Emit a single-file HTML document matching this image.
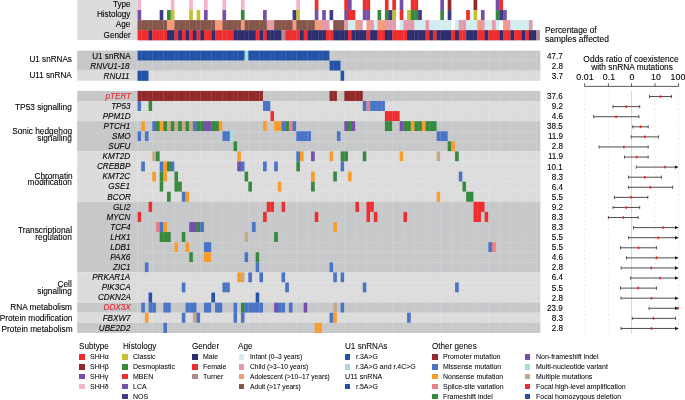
<!DOCTYPE html><html><head><meta charset="utf-8"><style>
*{margin:0;padding:0;box-sizing:border-box}
html,body{width:685px;height:400px;overflow:hidden;background:#fff}
body{position:relative;font-family:"Liberation Sans",sans-serif;color:#000}
.a{position:absolute}
#tx{position:absolute;left:0;top:0;width:685px;height:400px;will-change:transform}
.t{position:absolute;white-space:nowrap;font-size:8.60px;line-height:1;transform:scaleX(0.945);transform-origin:left center;-webkit-text-stroke-width:0.1px}
.r{text-align:right;transform-origin:right center}
.c{text-align:center;transform-origin:center center}
.i{font-style:italic}
.lg{-webkit-text-stroke-width:0.05px;color:#000}
.lh{-webkit-text-stroke-width:0.05px;color:#000}
</style></head><body>
<svg class="a" style="left:0;top:0" width="685" height="400" viewBox="0 0 685 400">
<rect x="77.20" y="0.00" width="60.30" height="40.10" fill="#dcdcdc"/>
<rect x="137.50" y="0.00" width="3.69" height="10.15" fill="#f5b5c7"/>
<rect x="170.73" y="0.00" width="3.69" height="10.15" fill="#f5b5c7"/>
<rect x="189.20" y="0.00" width="3.69" height="10.15" fill="#f5b5c7"/>
<rect x="203.97" y="0.00" width="3.69" height="10.15" fill="#f5b5c7"/>
<rect x="222.43" y="0.00" width="3.69" height="10.15" fill="#f5b5c7"/>
<rect x="240.89" y="0.00" width="3.69" height="10.15" fill="#f5b5c7"/>
<rect x="296.28" y="0.00" width="3.69" height="10.15" fill="#f5b5c7"/>
<rect x="314.75" y="0.00" width="3.69" height="10.15" fill="#ee2e2e"/>
<rect x="344.29" y="0.00" width="3.99" height="10.15" fill="#ee2e2e"/>
<rect x="347.98" y="0.00" width="3.69" height="10.15" fill="#7650a8"/>
<rect x="362.75" y="0.00" width="3.99" height="10.15" fill="#ee2e2e"/>
<rect x="366.44" y="0.00" width="3.69" height="10.15" fill="#ee2e2e"/>
<rect x="384.91" y="0.00" width="3.69" height="10.15" fill="#ee2e2e"/>
<rect x="392.29" y="0.00" width="3.69" height="10.15" fill="#ee2e2e"/>
<rect x="399.68" y="0.00" width="3.69" height="10.15" fill="#7650a8"/>
<rect x="410.76" y="0.00" width="3.99" height="10.15" fill="#ee2e2e"/>
<rect x="414.45" y="0.00" width="3.69" height="10.15" fill="#ee2e2e"/>
<rect x="440.30" y="0.00" width="3.69" height="10.15" fill="#7650a8"/>
<rect x="447.68" y="0.00" width="3.69" height="10.15" fill="#922a2c"/>
<rect x="473.53" y="0.00" width="3.69" height="10.15" fill="#922a2c"/>
<rect x="495.69" y="0.00" width="3.99" height="10.15" fill="#7650a8"/>
<rect x="499.38" y="0.00" width="3.69" height="10.15" fill="#ee2e2e"/>
<rect x="137.50" y="10.05" width="3.69" height="10.15" fill="#7650a8"/>
<rect x="159.66" y="10.05" width="3.69" height="10.15" fill="#3f3a88"/>
<rect x="167.04" y="10.05" width="3.99" height="10.15" fill="#36893f"/>
<rect x="170.73" y="10.05" width="3.69" height="10.15" fill="#c3c035"/>
<rect x="189.20" y="10.05" width="3.69" height="10.15" fill="#c3c035"/>
<rect x="196.58" y="10.05" width="3.69" height="10.15" fill="#c3c035"/>
<rect x="203.97" y="10.05" width="3.69" height="10.15" fill="#7650a8"/>
<rect x="222.43" y="10.05" width="3.69" height="10.15" fill="#7650a8"/>
<rect x="240.89" y="10.05" width="3.69" height="10.15" fill="#36893f"/>
<rect x="263.05" y="10.05" width="3.69" height="10.15" fill="#7650a8"/>
<rect x="292.59" y="10.05" width="3.99" height="10.15" fill="#3f3a88"/>
<rect x="296.28" y="10.05" width="3.69" height="10.15" fill="#c3c035"/>
<rect x="314.75" y="10.05" width="3.69" height="10.15" fill="#7650a8"/>
<rect x="322.13" y="10.05" width="3.69" height="10.15" fill="#7650a8"/>
<rect x="329.52" y="10.05" width="3.69" height="10.15" fill="#3f3a88"/>
<rect x="344.29" y="10.05" width="3.99" height="10.15" fill="#7650a8"/>
<rect x="347.98" y="10.05" width="3.99" height="10.15" fill="#ee2e2e"/>
<rect x="351.67" y="10.05" width="3.69" height="10.15" fill="#ee2e2e"/>
<rect x="362.75" y="10.05" width="3.99" height="10.15" fill="#7650a8"/>
<rect x="366.44" y="10.05" width="3.69" height="10.15" fill="#7650a8"/>
<rect x="377.52" y="10.05" width="3.69" height="10.15" fill="#36893f"/>
<rect x="384.91" y="10.05" width="3.99" height="10.15" fill="#36893f"/>
<rect x="388.60" y="10.05" width="3.99" height="10.15" fill="#3f3a88"/>
<rect x="392.29" y="10.05" width="3.69" height="10.15" fill="#c3c035"/>
<rect x="399.68" y="10.05" width="3.69" height="10.15" fill="#ee2e2e"/>
<rect x="407.06" y="10.05" width="3.99" height="10.15" fill="#c3c035"/>
<rect x="410.76" y="10.05" width="3.99" height="10.15" fill="#36893f"/>
<rect x="414.45" y="10.05" width="3.99" height="10.15" fill="#36893f"/>
<rect x="418.14" y="10.05" width="3.69" height="10.15" fill="#3f3a88"/>
<rect x="440.30" y="10.05" width="3.69" height="10.15" fill="#36893f"/>
<rect x="447.68" y="10.05" width="3.69" height="10.15" fill="#3f3a88"/>
<rect x="466.15" y="10.05" width="3.69" height="10.15" fill="#ee2e2e"/>
<rect x="473.53" y="10.05" width="3.69" height="10.15" fill="#c3c035"/>
<rect x="480.92" y="10.05" width="3.69" height="10.15" fill="#7650a8"/>
<rect x="495.69" y="10.05" width="3.99" height="10.15" fill="#36893f"/>
<rect x="499.38" y="10.05" width="3.99" height="10.15" fill="#3f3a88"/>
<rect x="503.07" y="10.05" width="3.69" height="10.15" fill="#7650a8"/>
<rect x="137.50" y="20.10" width="3.99" height="10.15" fill="#85574a"/>
<rect x="141.19" y="20.10" width="3.99" height="10.15" fill="#85574a"/>
<rect x="144.89" y="20.10" width="3.99" height="10.15" fill="#85574a"/>
<rect x="148.58" y="20.10" width="3.99" height="10.15" fill="#85574a"/>
<rect x="152.27" y="20.10" width="3.99" height="10.15" fill="#85574a"/>
<rect x="155.96" y="20.10" width="3.99" height="10.15" fill="#85574a"/>
<rect x="159.66" y="20.10" width="3.99" height="10.15" fill="#85574a"/>
<rect x="163.35" y="20.10" width="3.99" height="10.15" fill="#85574a"/>
<rect x="167.04" y="20.10" width="3.99" height="10.15" fill="#f59a7a"/>
<rect x="170.73" y="20.10" width="3.99" height="10.15" fill="#f59a7a"/>
<rect x="174.43" y="20.10" width="3.99" height="10.15" fill="#85574a"/>
<rect x="178.12" y="20.10" width="3.99" height="10.15" fill="#85574a"/>
<rect x="181.81" y="20.10" width="3.99" height="10.15" fill="#85574a"/>
<rect x="185.50" y="20.10" width="3.99" height="10.15" fill="#85574a"/>
<rect x="189.20" y="20.10" width="3.99" height="10.15" fill="#85574a"/>
<rect x="192.89" y="20.10" width="3.99" height="10.15" fill="#85574a"/>
<rect x="196.58" y="20.10" width="3.99" height="10.15" fill="#85574a"/>
<rect x="200.28" y="20.10" width="3.99" height="10.15" fill="#85574a"/>
<rect x="203.97" y="20.10" width="3.99" height="10.15" fill="#85574a"/>
<rect x="207.66" y="20.10" width="3.99" height="10.15" fill="#85574a"/>
<rect x="211.35" y="20.10" width="3.99" height="10.15" fill="#85574a"/>
<rect x="215.05" y="20.10" width="3.99" height="10.15" fill="#f59a7a"/>
<rect x="218.74" y="20.10" width="3.99" height="10.15" fill="#f59a7a"/>
<rect x="222.43" y="20.10" width="3.99" height="10.15" fill="#85574a"/>
<rect x="226.12" y="20.10" width="3.99" height="10.15" fill="#85574a"/>
<rect x="229.82" y="20.10" width="3.99" height="10.15" fill="#85574a"/>
<rect x="233.51" y="20.10" width="3.99" height="10.15" fill="#85574a"/>
<rect x="237.20" y="20.10" width="3.99" height="10.15" fill="#85574a"/>
<rect x="240.89" y="20.10" width="3.99" height="10.15" fill="#f59a7a"/>
<rect x="244.59" y="20.10" width="3.99" height="10.15" fill="#85574a"/>
<rect x="248.28" y="20.10" width="3.99" height="10.15" fill="#85574a"/>
<rect x="251.97" y="20.10" width="3.99" height="10.15" fill="#85574a"/>
<rect x="255.67" y="20.10" width="3.99" height="10.15" fill="#85574a"/>
<rect x="259.36" y="20.10" width="3.99" height="10.15" fill="#85574a"/>
<rect x="263.05" y="20.10" width="3.99" height="10.15" fill="#85574a"/>
<rect x="266.74" y="20.10" width="3.99" height="10.15" fill="#e39aab"/>
<rect x="270.44" y="20.10" width="3.99" height="10.15" fill="#e39aab"/>
<rect x="274.13" y="20.10" width="3.99" height="10.15" fill="#85574a"/>
<rect x="277.82" y="20.10" width="3.99" height="10.15" fill="#85574a"/>
<rect x="281.51" y="20.10" width="3.99" height="10.15" fill="#85574a"/>
<rect x="285.21" y="20.10" width="3.99" height="10.15" fill="#85574a"/>
<rect x="288.90" y="20.10" width="3.99" height="10.15" fill="#85574a"/>
<rect x="292.59" y="20.10" width="3.99" height="10.15" fill="#f59a7a"/>
<rect x="296.28" y="20.10" width="3.99" height="10.15" fill="#85574a"/>
<rect x="299.98" y="20.10" width="3.99" height="10.15" fill="#85574a"/>
<rect x="303.67" y="20.10" width="3.99" height="10.15" fill="#85574a"/>
<rect x="307.36" y="20.10" width="3.99" height="10.15" fill="#85574a"/>
<rect x="311.06" y="20.10" width="3.99" height="10.15" fill="#85574a"/>
<rect x="314.75" y="20.10" width="3.99" height="10.15" fill="#f59a7a"/>
<rect x="318.44" y="20.10" width="3.99" height="10.15" fill="#f59a7a"/>
<rect x="322.13" y="20.10" width="3.99" height="10.15" fill="#e39aab"/>
<rect x="325.83" y="20.10" width="3.69" height="10.15" fill="#e39aab"/>
<rect x="333.21" y="20.10" width="3.99" height="10.15" fill="#85574a"/>
<rect x="336.90" y="20.10" width="3.99" height="10.15" fill="#85574a"/>
<rect x="340.60" y="20.10" width="3.99" height="10.15" fill="#85574a"/>
<rect x="344.29" y="20.10" width="3.99" height="10.15" fill="#e39aab"/>
<rect x="347.98" y="20.10" width="3.99" height="10.15" fill="#d3ecf0"/>
<rect x="351.67" y="20.10" width="3.99" height="10.15" fill="#d3ecf0"/>
<rect x="355.37" y="20.10" width="3.99" height="10.15" fill="#f59a7a"/>
<rect x="359.06" y="20.10" width="3.69" height="10.15" fill="#e39aab"/>
<rect x="366.44" y="20.10" width="3.99" height="10.15" fill="#f59a7a"/>
<rect x="370.14" y="20.10" width="3.99" height="10.15" fill="#e39aab"/>
<rect x="373.83" y="20.10" width="3.99" height="10.15" fill="#d3ecf0"/>
<rect x="377.52" y="20.10" width="3.99" height="10.15" fill="#f59a7a"/>
<rect x="381.22" y="20.10" width="3.99" height="10.15" fill="#f59a7a"/>
<rect x="384.91" y="20.10" width="3.99" height="10.15" fill="#e39aab"/>
<rect x="388.60" y="20.10" width="3.99" height="10.15" fill="#e39aab"/>
<rect x="392.29" y="20.10" width="3.69" height="10.15" fill="#e39aab"/>
<rect x="399.68" y="20.10" width="3.99" height="10.15" fill="#d3ecf0"/>
<rect x="403.37" y="20.10" width="3.99" height="10.15" fill="#e39aab"/>
<rect x="407.06" y="20.10" width="3.99" height="10.15" fill="#e39aab"/>
<rect x="410.76" y="20.10" width="3.99" height="10.15" fill="#e39aab"/>
<rect x="414.45" y="20.10" width="3.99" height="10.15" fill="#d3ecf0"/>
<rect x="418.14" y="20.10" width="3.99" height="10.15" fill="#d3ecf0"/>
<rect x="421.83" y="20.10" width="3.99" height="10.15" fill="#d3ecf0"/>
<rect x="425.53" y="20.10" width="3.99" height="10.15" fill="#e39aab"/>
<rect x="429.22" y="20.10" width="3.99" height="10.15" fill="#d3ecf0"/>
<rect x="432.91" y="20.10" width="3.99" height="10.15" fill="#d3ecf0"/>
<rect x="436.61" y="20.10" width="3.99" height="10.15" fill="#d3ecf0"/>
<rect x="440.30" y="20.10" width="3.99" height="10.15" fill="#d3ecf0"/>
<rect x="443.99" y="20.10" width="3.99" height="10.15" fill="#d3ecf0"/>
<rect x="447.68" y="20.10" width="3.69" height="10.15" fill="#d3ecf0"/>
<rect x="455.07" y="20.10" width="3.99" height="10.15" fill="#d3ecf0"/>
<rect x="458.76" y="20.10" width="3.99" height="10.15" fill="#e39aab"/>
<rect x="462.45" y="20.10" width="3.99" height="10.15" fill="#e39aab"/>
<rect x="466.15" y="20.10" width="3.99" height="10.15" fill="#d3ecf0"/>
<rect x="469.84" y="20.10" width="3.99" height="10.15" fill="#d3ecf0"/>
<rect x="473.53" y="20.10" width="3.99" height="10.15" fill="#d3ecf0"/>
<rect x="477.22" y="20.10" width="3.99" height="10.15" fill="#f59a7a"/>
<rect x="480.92" y="20.10" width="3.99" height="10.15" fill="#e39aab"/>
<rect x="484.61" y="20.10" width="3.99" height="10.15" fill="#d3ecf0"/>
<rect x="488.30" y="20.10" width="3.99" height="10.15" fill="#d3ecf0"/>
<rect x="492.00" y="20.10" width="3.99" height="10.15" fill="#e39aab"/>
<rect x="495.69" y="20.10" width="3.69" height="10.15" fill="#d3ecf0"/>
<rect x="503.07" y="20.10" width="3.99" height="10.15" fill="#f59a7a"/>
<rect x="506.77" y="20.10" width="3.99" height="10.15" fill="#e39aab"/>
<rect x="510.46" y="20.10" width="3.99" height="10.15" fill="#d3ecf0"/>
<rect x="514.15" y="20.10" width="3.99" height="10.15" fill="#d3ecf0"/>
<rect x="517.84" y="20.10" width="3.99" height="10.15" fill="#d3ecf0"/>
<rect x="521.54" y="20.10" width="3.99" height="10.15" fill="#d3ecf0"/>
<rect x="525.23" y="20.10" width="3.99" height="10.15" fill="#d3ecf0"/>
<rect x="528.92" y="20.10" width="3.69" height="10.15" fill="#e39aab"/>
<rect x="137.50" y="30.15" width="3.99" height="10.20" fill="#ee2e2e"/>
<rect x="141.19" y="30.15" width="3.99" height="10.20" fill="#ee2e2e"/>
<rect x="144.89" y="30.15" width="3.99" height="10.20" fill="#ee2e2e"/>
<rect x="148.58" y="30.15" width="3.99" height="10.20" fill="#2e2e6e"/>
<rect x="152.27" y="30.15" width="3.99" height="10.20" fill="#ee2e2e"/>
<rect x="155.96" y="30.15" width="3.99" height="10.20" fill="#ee2e2e"/>
<rect x="159.66" y="30.15" width="3.99" height="10.20" fill="#ee2e2e"/>
<rect x="163.35" y="30.15" width="3.99" height="10.20" fill="#ee2e2e"/>
<rect x="167.04" y="30.15" width="3.99" height="10.20" fill="#2e2e6e"/>
<rect x="170.73" y="30.15" width="3.99" height="10.20" fill="#2e2e6e"/>
<rect x="174.43" y="30.15" width="3.99" height="10.20" fill="#ee2e2e"/>
<rect x="178.12" y="30.15" width="3.99" height="10.20" fill="#2e2e6e"/>
<rect x="181.81" y="30.15" width="3.99" height="10.20" fill="#ee2e2e"/>
<rect x="185.50" y="30.15" width="3.99" height="10.20" fill="#2e2e6e"/>
<rect x="189.20" y="30.15" width="3.99" height="10.20" fill="#ee2e2e"/>
<rect x="192.89" y="30.15" width="3.99" height="10.20" fill="#2e2e6e"/>
<rect x="196.58" y="30.15" width="3.99" height="10.20" fill="#ee2e2e"/>
<rect x="200.28" y="30.15" width="3.99" height="10.20" fill="#2e2e6e"/>
<rect x="203.97" y="30.15" width="3.99" height="10.20" fill="#ee2e2e"/>
<rect x="207.66" y="30.15" width="3.99" height="10.20" fill="#ee2e2e"/>
<rect x="211.35" y="30.15" width="3.99" height="10.20" fill="#2e2e6e"/>
<rect x="215.05" y="30.15" width="3.99" height="10.20" fill="#ee2e2e"/>
<rect x="218.74" y="30.15" width="3.99" height="10.20" fill="#ee2e2e"/>
<rect x="222.43" y="30.15" width="3.99" height="10.20" fill="#ee2e2e"/>
<rect x="226.12" y="30.15" width="3.99" height="10.20" fill="#ee2e2e"/>
<rect x="229.82" y="30.15" width="3.99" height="10.20" fill="#ee2e2e"/>
<rect x="233.51" y="30.15" width="3.99" height="10.20" fill="#2e2e6e"/>
<rect x="237.20" y="30.15" width="3.99" height="10.20" fill="#2e2e6e"/>
<rect x="240.89" y="30.15" width="3.99" height="10.20" fill="#2e2e6e"/>
<rect x="244.59" y="30.15" width="3.99" height="10.20" fill="#2e2e6e"/>
<rect x="248.28" y="30.15" width="3.99" height="10.20" fill="#2e2e6e"/>
<rect x="251.97" y="30.15" width="3.99" height="10.20" fill="#2e2e6e"/>
<rect x="255.67" y="30.15" width="3.99" height="10.20" fill="#ee2e2e"/>
<rect x="259.36" y="30.15" width="3.99" height="10.20" fill="#2e2e6e"/>
<rect x="263.05" y="30.15" width="3.99" height="10.20" fill="#ee2e2e"/>
<rect x="266.74" y="30.15" width="3.99" height="10.20" fill="#2e2e6e"/>
<rect x="270.44" y="30.15" width="3.99" height="10.20" fill="#2e2e6e"/>
<rect x="274.13" y="30.15" width="3.99" height="10.20" fill="#2e2e6e"/>
<rect x="277.82" y="30.15" width="3.99" height="10.20" fill="#2e2e6e"/>
<rect x="281.51" y="30.15" width="3.99" height="10.20" fill="#b58b91"/>
<rect x="285.21" y="30.15" width="3.99" height="10.20" fill="#ee2e2e"/>
<rect x="288.90" y="30.15" width="3.99" height="10.20" fill="#ee2e2e"/>
<rect x="292.59" y="30.15" width="3.99" height="10.20" fill="#ee2e2e"/>
<rect x="296.28" y="30.15" width="3.99" height="10.20" fill="#ee2e2e"/>
<rect x="299.98" y="30.15" width="3.99" height="10.20" fill="#2e2e6e"/>
<rect x="303.67" y="30.15" width="3.99" height="10.20" fill="#ee2e2e"/>
<rect x="307.36" y="30.15" width="3.99" height="10.20" fill="#2e2e6e"/>
<rect x="311.06" y="30.15" width="3.99" height="10.20" fill="#2e2e6e"/>
<rect x="314.75" y="30.15" width="3.99" height="10.20" fill="#2e2e6e"/>
<rect x="318.44" y="30.15" width="3.99" height="10.20" fill="#2e2e6e"/>
<rect x="322.13" y="30.15" width="3.99" height="10.20" fill="#2e2e6e"/>
<rect x="325.83" y="30.15" width="3.99" height="10.20" fill="#ee2e2e"/>
<rect x="329.52" y="30.15" width="3.99" height="10.20" fill="#ee2e2e"/>
<rect x="333.21" y="30.15" width="3.99" height="10.20" fill="#2e2e6e"/>
<rect x="336.90" y="30.15" width="3.99" height="10.20" fill="#2e2e6e"/>
<rect x="340.60" y="30.15" width="3.99" height="10.20" fill="#2e2e6e"/>
<rect x="344.29" y="30.15" width="3.99" height="10.20" fill="#2e2e6e"/>
<rect x="347.98" y="30.15" width="3.99" height="10.20" fill="#ee2e2e"/>
<rect x="351.67" y="30.15" width="3.99" height="10.20" fill="#2e2e6e"/>
<rect x="355.37" y="30.15" width="3.99" height="10.20" fill="#2e2e6e"/>
<rect x="359.06" y="30.15" width="3.99" height="10.20" fill="#2e2e6e"/>
<rect x="362.75" y="30.15" width="3.99" height="10.20" fill="#2e2e6e"/>
<rect x="366.44" y="30.15" width="3.99" height="10.20" fill="#ee2e2e"/>
<rect x="370.14" y="30.15" width="3.99" height="10.20" fill="#2e2e6e"/>
<rect x="373.83" y="30.15" width="3.99" height="10.20" fill="#2e2e6e"/>
<rect x="377.52" y="30.15" width="3.99" height="10.20" fill="#ee2e2e"/>
<rect x="381.22" y="30.15" width="3.99" height="10.20" fill="#ee2e2e"/>
<rect x="384.91" y="30.15" width="3.99" height="10.20" fill="#2e2e6e"/>
<rect x="388.60" y="30.15" width="3.99" height="10.20" fill="#2e2e6e"/>
<rect x="392.29" y="30.15" width="3.99" height="10.20" fill="#ee2e2e"/>
<rect x="395.99" y="30.15" width="3.99" height="10.20" fill="#ee2e2e"/>
<rect x="399.68" y="30.15" width="3.99" height="10.20" fill="#ee2e2e"/>
<rect x="403.37" y="30.15" width="3.99" height="10.20" fill="#ee2e2e"/>
<rect x="407.06" y="30.15" width="3.99" height="10.20" fill="#2e2e6e"/>
<rect x="410.76" y="30.15" width="3.99" height="10.20" fill="#2e2e6e"/>
<rect x="414.45" y="30.15" width="3.99" height="10.20" fill="#2e2e6e"/>
<rect x="418.14" y="30.15" width="3.99" height="10.20" fill="#2e2e6e"/>
<rect x="421.83" y="30.15" width="3.99" height="10.20" fill="#2e2e6e"/>
<rect x="425.53" y="30.15" width="3.99" height="10.20" fill="#ee2e2e"/>
<rect x="429.22" y="30.15" width="3.99" height="10.20" fill="#2e2e6e"/>
<rect x="432.91" y="30.15" width="3.99" height="10.20" fill="#ee2e2e"/>
<rect x="436.61" y="30.15" width="3.99" height="10.20" fill="#2e2e6e"/>
<rect x="440.30" y="30.15" width="3.99" height="10.20" fill="#2e2e6e"/>
<rect x="443.99" y="30.15" width="3.99" height="10.20" fill="#2e2e6e"/>
<rect x="447.68" y="30.15" width="3.99" height="10.20" fill="#2e2e6e"/>
<rect x="451.38" y="30.15" width="3.99" height="10.20" fill="#ee2e2e"/>
<rect x="455.07" y="30.15" width="3.99" height="10.20" fill="#2e2e6e"/>
<rect x="458.76" y="30.15" width="3.99" height="10.20" fill="#ee2e2e"/>
<rect x="462.45" y="30.15" width="3.99" height="10.20" fill="#ee2e2e"/>
<rect x="466.15" y="30.15" width="3.99" height="10.20" fill="#2e2e6e"/>
<rect x="469.84" y="30.15" width="3.99" height="10.20" fill="#2e2e6e"/>
<rect x="473.53" y="30.15" width="3.99" height="10.20" fill="#2e2e6e"/>
<rect x="477.22" y="30.15" width="3.99" height="10.20" fill="#ee2e2e"/>
<rect x="480.92" y="30.15" width="3.99" height="10.20" fill="#ee2e2e"/>
<rect x="484.61" y="30.15" width="3.99" height="10.20" fill="#2e2e6e"/>
<rect x="488.30" y="30.15" width="3.99" height="10.20" fill="#ee2e2e"/>
<rect x="492.00" y="30.15" width="3.99" height="10.20" fill="#ee2e2e"/>
<rect x="495.69" y="30.15" width="3.99" height="10.20" fill="#ee2e2e"/>
<rect x="499.38" y="30.15" width="3.99" height="10.20" fill="#2e2e6e"/>
<rect x="503.07" y="30.15" width="3.99" height="10.20" fill="#ee2e2e"/>
<rect x="506.77" y="30.15" width="3.99" height="10.20" fill="#ee2e2e"/>
<rect x="510.46" y="30.15" width="3.99" height="10.20" fill="#2e2e6e"/>
<rect x="514.15" y="30.15" width="3.99" height="10.20" fill="#ee2e2e"/>
<rect x="517.84" y="30.15" width="3.99" height="10.20" fill="#ee2e2e"/>
<rect x="521.54" y="30.15" width="3.99" height="10.20" fill="#2e2e6e"/>
<rect x="525.23" y="30.15" width="3.99" height="10.20" fill="#ee2e2e"/>
<rect x="528.92" y="30.15" width="3.99" height="10.20" fill="#2e2e6e"/>
<rect x="532.61" y="30.15" width="3.99" height="10.20" fill="#2e2e6e"/>
<rect x="536.31" y="30.15" width="3.69" height="10.20" fill="#b58b91"/>
<rect x="77.20" y="50.60" width="60.30" height="20.10" fill="#c7c8ca"/>
<rect x="77.20" y="70.70" width="60.30" height="10.05" fill="#dcdcdc"/>
<rect x="137.50" y="50.60" width="3.99" height="10.15" fill="#2352a6"/>
<rect x="141.19" y="50.60" width="3.99" height="10.15" fill="#2352a6"/>
<rect x="144.89" y="50.60" width="3.99" height="10.15" fill="#2352a6"/>
<rect x="148.58" y="50.60" width="3.99" height="10.15" fill="#2352a6"/>
<rect x="152.27" y="50.60" width="3.99" height="10.15" fill="#2352a6"/>
<rect x="155.96" y="50.60" width="3.99" height="10.15" fill="#2352a6"/>
<rect x="159.66" y="50.60" width="3.99" height="10.15" fill="#2352a6"/>
<rect x="163.35" y="50.60" width="3.99" height="10.15" fill="#2352a6"/>
<rect x="167.04" y="50.60" width="3.99" height="10.15" fill="#2352a6"/>
<rect x="170.73" y="50.60" width="3.99" height="10.15" fill="#2352a6"/>
<rect x="174.43" y="50.60" width="3.99" height="10.15" fill="#2352a6"/>
<rect x="178.12" y="50.60" width="3.99" height="10.15" fill="#2352a6"/>
<rect x="181.81" y="50.60" width="3.99" height="10.15" fill="#2352a6"/>
<rect x="185.50" y="50.60" width="3.99" height="10.15" fill="#2352a6"/>
<rect x="189.20" y="50.60" width="3.99" height="10.15" fill="#2352a6"/>
<rect x="192.89" y="50.60" width="3.99" height="10.15" fill="#2352a6"/>
<rect x="196.58" y="50.60" width="3.99" height="10.15" fill="#2352a6"/>
<rect x="200.28" y="50.60" width="3.99" height="10.15" fill="#2352a6"/>
<rect x="203.97" y="50.60" width="3.99" height="10.15" fill="#2352a6"/>
<rect x="207.66" y="50.60" width="3.99" height="10.15" fill="#2352a6"/>
<rect x="211.35" y="50.60" width="3.99" height="10.15" fill="#2352a6"/>
<rect x="215.05" y="50.60" width="3.99" height="10.15" fill="#2352a6"/>
<rect x="218.74" y="50.60" width="3.99" height="10.15" fill="#2352a6"/>
<rect x="222.43" y="50.60" width="3.99" height="10.15" fill="#2352a6"/>
<rect x="226.12" y="50.60" width="3.99" height="10.15" fill="#2352a6"/>
<rect x="229.82" y="50.60" width="3.99" height="10.15" fill="#2352a6"/>
<rect x="233.51" y="50.60" width="3.99" height="10.15" fill="#2352a6"/>
<rect x="237.20" y="50.60" width="3.99" height="10.15" fill="#2352a6"/>
<rect x="240.89" y="50.60" width="3.99" height="10.15" fill="#2352a6"/>
<rect x="244.59" y="50.60" width="3.99" height="10.15" fill="#a7dbe0"/>
<rect x="248.28" y="50.60" width="3.99" height="10.15" fill="#2352a6"/>
<rect x="251.97" y="50.60" width="3.99" height="10.15" fill="#2352a6"/>
<rect x="255.67" y="50.60" width="3.99" height="10.15" fill="#2352a6"/>
<rect x="259.36" y="50.60" width="3.99" height="10.15" fill="#2352a6"/>
<rect x="263.05" y="50.60" width="3.99" height="10.15" fill="#2352a6"/>
<rect x="266.74" y="50.60" width="3.99" height="10.15" fill="#2352a6"/>
<rect x="270.44" y="50.60" width="3.99" height="10.15" fill="#2352a6"/>
<rect x="274.13" y="50.60" width="3.99" height="10.15" fill="#2352a6"/>
<rect x="277.82" y="50.60" width="3.99" height="10.15" fill="#2352a6"/>
<rect x="281.51" y="50.60" width="3.99" height="10.15" fill="#2352a6"/>
<rect x="285.21" y="50.60" width="3.99" height="10.15" fill="#2352a6"/>
<rect x="288.90" y="50.60" width="3.99" height="10.15" fill="#2352a6"/>
<rect x="292.59" y="50.60" width="3.99" height="10.15" fill="#2352a6"/>
<rect x="296.28" y="50.60" width="3.99" height="10.15" fill="#2352a6"/>
<rect x="299.98" y="50.60" width="3.99" height="10.15" fill="#2352a6"/>
<rect x="303.67" y="50.60" width="3.99" height="10.15" fill="#2352a6"/>
<rect x="307.36" y="50.60" width="3.99" height="10.15" fill="#2352a6"/>
<rect x="311.06" y="50.60" width="3.99" height="10.15" fill="#2352a6"/>
<rect x="314.75" y="50.60" width="3.99" height="10.15" fill="#2352a6"/>
<rect x="318.44" y="50.60" width="3.99" height="10.15" fill="#2352a6"/>
<rect x="322.13" y="50.60" width="3.99" height="10.15" fill="#2352a6"/>
<rect x="325.83" y="50.60" width="3.99" height="10.15" fill="#2352a6"/>
<rect x="329.52" y="50.60" width="3.99" height="10.15" fill="#c7c8ca"/>
<rect x="333.21" y="50.60" width="3.99" height="10.15" fill="#c7c8ca"/>
<rect x="336.90" y="50.60" width="3.99" height="10.15" fill="#c7c8ca"/>
<rect x="340.60" y="50.60" width="3.99" height="10.15" fill="#c7c8ca"/>
<rect x="344.29" y="50.60" width="3.99" height="10.15" fill="#c7c8ca"/>
<rect x="347.98" y="50.60" width="3.99" height="10.15" fill="#c7c8ca"/>
<rect x="351.67" y="50.60" width="3.99" height="10.15" fill="#c7c8ca"/>
<rect x="355.37" y="50.60" width="3.99" height="10.15" fill="#c7c8ca"/>
<rect x="359.06" y="50.60" width="3.99" height="10.15" fill="#c7c8ca"/>
<rect x="362.75" y="50.60" width="3.99" height="10.15" fill="#c7c8ca"/>
<rect x="366.44" y="50.60" width="3.99" height="10.15" fill="#c7c8ca"/>
<rect x="370.14" y="50.60" width="3.99" height="10.15" fill="#c7c8ca"/>
<rect x="373.83" y="50.60" width="3.99" height="10.15" fill="#c7c8ca"/>
<rect x="377.52" y="50.60" width="3.99" height="10.15" fill="#c7c8ca"/>
<rect x="381.22" y="50.60" width="3.99" height="10.15" fill="#c7c8ca"/>
<rect x="384.91" y="50.60" width="3.99" height="10.15" fill="#c7c8ca"/>
<rect x="388.60" y="50.60" width="3.99" height="10.15" fill="#c7c8ca"/>
<rect x="392.29" y="50.60" width="3.99" height="10.15" fill="#c7c8ca"/>
<rect x="395.99" y="50.60" width="3.99" height="10.15" fill="#c7c8ca"/>
<rect x="399.68" y="50.60" width="3.99" height="10.15" fill="#c7c8ca"/>
<rect x="403.37" y="50.60" width="3.99" height="10.15" fill="#c7c8ca"/>
<rect x="407.06" y="50.60" width="3.99" height="10.15" fill="#c7c8ca"/>
<rect x="410.76" y="50.60" width="3.99" height="10.15" fill="#c7c8ca"/>
<rect x="414.45" y="50.60" width="3.99" height="10.15" fill="#c7c8ca"/>
<rect x="418.14" y="50.60" width="3.99" height="10.15" fill="#c7c8ca"/>
<rect x="421.83" y="50.60" width="3.99" height="10.15" fill="#c7c8ca"/>
<rect x="425.53" y="50.60" width="3.99" height="10.15" fill="#c7c8ca"/>
<rect x="429.22" y="50.60" width="3.99" height="10.15" fill="#c7c8ca"/>
<rect x="432.91" y="50.60" width="3.99" height="10.15" fill="#c7c8ca"/>
<rect x="436.61" y="50.60" width="3.99" height="10.15" fill="#c7c8ca"/>
<rect x="440.30" y="50.60" width="3.99" height="10.15" fill="#c7c8ca"/>
<rect x="443.99" y="50.60" width="3.99" height="10.15" fill="#c7c8ca"/>
<rect x="447.68" y="50.60" width="3.99" height="10.15" fill="#c7c8ca"/>
<rect x="451.38" y="50.60" width="3.99" height="10.15" fill="#c7c8ca"/>
<rect x="455.07" y="50.60" width="3.99" height="10.15" fill="#c7c8ca"/>
<rect x="458.76" y="50.60" width="3.99" height="10.15" fill="#c7c8ca"/>
<rect x="462.45" y="50.60" width="3.99" height="10.15" fill="#c7c8ca"/>
<rect x="466.15" y="50.60" width="3.99" height="10.15" fill="#c7c8ca"/>
<rect x="469.84" y="50.60" width="3.99" height="10.15" fill="#c7c8ca"/>
<rect x="473.53" y="50.60" width="3.99" height="10.15" fill="#c7c8ca"/>
<rect x="477.22" y="50.60" width="3.99" height="10.15" fill="#c7c8ca"/>
<rect x="480.92" y="50.60" width="3.99" height="10.15" fill="#c7c8ca"/>
<rect x="484.61" y="50.60" width="3.99" height="10.15" fill="#c7c8ca"/>
<rect x="488.30" y="50.60" width="3.99" height="10.15" fill="#c7c8ca"/>
<rect x="492.00" y="50.60" width="3.99" height="10.15" fill="#c7c8ca"/>
<rect x="495.69" y="50.60" width="3.99" height="10.15" fill="#c7c8ca"/>
<rect x="499.38" y="50.60" width="3.99" height="10.15" fill="#c7c8ca"/>
<rect x="503.07" y="50.60" width="3.99" height="10.15" fill="#c7c8ca"/>
<rect x="506.77" y="50.60" width="3.99" height="10.15" fill="#c7c8ca"/>
<rect x="510.46" y="50.60" width="3.99" height="10.15" fill="#c7c8ca"/>
<rect x="514.15" y="50.60" width="3.99" height="10.15" fill="#c7c8ca"/>
<rect x="517.84" y="50.60" width="3.99" height="10.15" fill="#c7c8ca"/>
<rect x="521.54" y="50.60" width="3.99" height="10.15" fill="#c7c8ca"/>
<rect x="525.23" y="50.60" width="3.99" height="10.15" fill="#c7c8ca"/>
<rect x="528.92" y="50.60" width="3.99" height="10.15" fill="#c7c8ca"/>
<rect x="532.61" y="50.60" width="3.99" height="10.15" fill="#c7c8ca"/>
<rect x="536.31" y="50.60" width="3.99" height="10.15" fill="#c7c8ca"/>
<rect x="137.50" y="60.65" width="3.99" height="10.15" fill="#c7c8ca"/>
<rect x="141.19" y="60.65" width="3.99" height="10.15" fill="#c7c8ca"/>
<rect x="144.89" y="60.65" width="3.99" height="10.15" fill="#c7c8ca"/>
<rect x="148.58" y="60.65" width="3.99" height="10.15" fill="#c7c8ca"/>
<rect x="152.27" y="60.65" width="3.99" height="10.15" fill="#c7c8ca"/>
<rect x="155.96" y="60.65" width="3.99" height="10.15" fill="#c7c8ca"/>
<rect x="159.66" y="60.65" width="3.99" height="10.15" fill="#c7c8ca"/>
<rect x="163.35" y="60.65" width="3.99" height="10.15" fill="#c7c8ca"/>
<rect x="167.04" y="60.65" width="3.99" height="10.15" fill="#c7c8ca"/>
<rect x="170.73" y="60.65" width="3.99" height="10.15" fill="#c7c8ca"/>
<rect x="174.43" y="60.65" width="3.99" height="10.15" fill="#c7c8ca"/>
<rect x="178.12" y="60.65" width="3.99" height="10.15" fill="#c7c8ca"/>
<rect x="181.81" y="60.65" width="3.99" height="10.15" fill="#c7c8ca"/>
<rect x="185.50" y="60.65" width="3.99" height="10.15" fill="#c7c8ca"/>
<rect x="189.20" y="60.65" width="3.99" height="10.15" fill="#c7c8ca"/>
<rect x="192.89" y="60.65" width="3.99" height="10.15" fill="#c7c8ca"/>
<rect x="196.58" y="60.65" width="3.99" height="10.15" fill="#c7c8ca"/>
<rect x="200.28" y="60.65" width="3.99" height="10.15" fill="#c7c8ca"/>
<rect x="203.97" y="60.65" width="3.99" height="10.15" fill="#c7c8ca"/>
<rect x="207.66" y="60.65" width="3.99" height="10.15" fill="#c7c8ca"/>
<rect x="211.35" y="60.65" width="3.99" height="10.15" fill="#c7c8ca"/>
<rect x="215.05" y="60.65" width="3.99" height="10.15" fill="#c7c8ca"/>
<rect x="218.74" y="60.65" width="3.99" height="10.15" fill="#c7c8ca"/>
<rect x="222.43" y="60.65" width="3.99" height="10.15" fill="#c7c8ca"/>
<rect x="226.12" y="60.65" width="3.99" height="10.15" fill="#c7c8ca"/>
<rect x="229.82" y="60.65" width="3.99" height="10.15" fill="#c7c8ca"/>
<rect x="233.51" y="60.65" width="3.99" height="10.15" fill="#c7c8ca"/>
<rect x="237.20" y="60.65" width="3.99" height="10.15" fill="#c7c8ca"/>
<rect x="240.89" y="60.65" width="3.99" height="10.15" fill="#c7c8ca"/>
<rect x="244.59" y="60.65" width="3.99" height="10.15" fill="#c7c8ca"/>
<rect x="248.28" y="60.65" width="3.99" height="10.15" fill="#c7c8ca"/>
<rect x="251.97" y="60.65" width="3.99" height="10.15" fill="#c7c8ca"/>
<rect x="255.67" y="60.65" width="3.99" height="10.15" fill="#c7c8ca"/>
<rect x="259.36" y="60.65" width="3.99" height="10.15" fill="#c7c8ca"/>
<rect x="263.05" y="60.65" width="3.99" height="10.15" fill="#c7c8ca"/>
<rect x="266.74" y="60.65" width="3.99" height="10.15" fill="#c7c8ca"/>
<rect x="270.44" y="60.65" width="3.99" height="10.15" fill="#c7c8ca"/>
<rect x="274.13" y="60.65" width="3.99" height="10.15" fill="#c7c8ca"/>
<rect x="277.82" y="60.65" width="3.99" height="10.15" fill="#c7c8ca"/>
<rect x="281.51" y="60.65" width="3.99" height="10.15" fill="#c7c8ca"/>
<rect x="285.21" y="60.65" width="3.99" height="10.15" fill="#c7c8ca"/>
<rect x="288.90" y="60.65" width="3.99" height="10.15" fill="#c7c8ca"/>
<rect x="292.59" y="60.65" width="3.99" height="10.15" fill="#c7c8ca"/>
<rect x="296.28" y="60.65" width="3.99" height="10.15" fill="#c7c8ca"/>
<rect x="299.98" y="60.65" width="3.99" height="10.15" fill="#c7c8ca"/>
<rect x="303.67" y="60.65" width="3.99" height="10.15" fill="#c7c8ca"/>
<rect x="307.36" y="60.65" width="3.99" height="10.15" fill="#c7c8ca"/>
<rect x="311.06" y="60.65" width="3.99" height="10.15" fill="#c7c8ca"/>
<rect x="314.75" y="60.65" width="3.99" height="10.15" fill="#c7c8ca"/>
<rect x="318.44" y="60.65" width="3.99" height="10.15" fill="#c7c8ca"/>
<rect x="322.13" y="60.65" width="3.99" height="10.15" fill="#c7c8ca"/>
<rect x="325.83" y="60.65" width="3.99" height="10.15" fill="#c7c8ca"/>
<rect x="329.52" y="60.65" width="3.99" height="10.15" fill="#2352a6"/>
<rect x="333.21" y="60.65" width="3.99" height="10.15" fill="#2352a6"/>
<rect x="336.90" y="60.65" width="3.99" height="10.15" fill="#2352a6"/>
<rect x="340.60" y="60.65" width="3.99" height="10.15" fill="#c7c8ca"/>
<rect x="344.29" y="60.65" width="3.99" height="10.15" fill="#c7c8ca"/>
<rect x="347.98" y="60.65" width="3.99" height="10.15" fill="#c7c8ca"/>
<rect x="351.67" y="60.65" width="3.99" height="10.15" fill="#c7c8ca"/>
<rect x="355.37" y="60.65" width="3.99" height="10.15" fill="#c7c8ca"/>
<rect x="359.06" y="60.65" width="3.99" height="10.15" fill="#c7c8ca"/>
<rect x="362.75" y="60.65" width="3.99" height="10.15" fill="#c7c8ca"/>
<rect x="366.44" y="60.65" width="3.99" height="10.15" fill="#c7c8ca"/>
<rect x="370.14" y="60.65" width="3.99" height="10.15" fill="#c7c8ca"/>
<rect x="373.83" y="60.65" width="3.99" height="10.15" fill="#c7c8ca"/>
<rect x="377.52" y="60.65" width="3.99" height="10.15" fill="#c7c8ca"/>
<rect x="381.22" y="60.65" width="3.99" height="10.15" fill="#c7c8ca"/>
<rect x="384.91" y="60.65" width="3.99" height="10.15" fill="#c7c8ca"/>
<rect x="388.60" y="60.65" width="3.99" height="10.15" fill="#c7c8ca"/>
<rect x="392.29" y="60.65" width="3.99" height="10.15" fill="#c7c8ca"/>
<rect x="395.99" y="60.65" width="3.99" height="10.15" fill="#c7c8ca"/>
<rect x="399.68" y="60.65" width="3.99" height="10.15" fill="#c7c8ca"/>
<rect x="403.37" y="60.65" width="3.99" height="10.15" fill="#c7c8ca"/>
<rect x="407.06" y="60.65" width="3.99" height="10.15" fill="#c7c8ca"/>
<rect x="410.76" y="60.65" width="3.99" height="10.15" fill="#c7c8ca"/>
<rect x="414.45" y="60.65" width="3.99" height="10.15" fill="#c7c8ca"/>
<rect x="418.14" y="60.65" width="3.99" height="10.15" fill="#c7c8ca"/>
<rect x="421.83" y="60.65" width="3.99" height="10.15" fill="#c7c8ca"/>
<rect x="425.53" y="60.65" width="3.99" height="10.15" fill="#c7c8ca"/>
<rect x="429.22" y="60.65" width="3.99" height="10.15" fill="#c7c8ca"/>
<rect x="432.91" y="60.65" width="3.99" height="10.15" fill="#c7c8ca"/>
<rect x="436.61" y="60.65" width="3.99" height="10.15" fill="#c7c8ca"/>
<rect x="440.30" y="60.65" width="3.99" height="10.15" fill="#c7c8ca"/>
<rect x="443.99" y="60.65" width="3.99" height="10.15" fill="#c7c8ca"/>
<rect x="447.68" y="60.65" width="3.99" height="10.15" fill="#c7c8ca"/>
<rect x="451.38" y="60.65" width="3.99" height="10.15" fill="#c7c8ca"/>
<rect x="455.07" y="60.65" width="3.99" height="10.15" fill="#c7c8ca"/>
<rect x="458.76" y="60.65" width="3.99" height="10.15" fill="#c7c8ca"/>
<rect x="462.45" y="60.65" width="3.99" height="10.15" fill="#c7c8ca"/>
<rect x="466.15" y="60.65" width="3.99" height="10.15" fill="#c7c8ca"/>
<rect x="469.84" y="60.65" width="3.99" height="10.15" fill="#c7c8ca"/>
<rect x="473.53" y="60.65" width="3.99" height="10.15" fill="#c7c8ca"/>
<rect x="477.22" y="60.65" width="3.99" height="10.15" fill="#c7c8ca"/>
<rect x="480.92" y="60.65" width="3.99" height="10.15" fill="#c7c8ca"/>
<rect x="484.61" y="60.65" width="3.99" height="10.15" fill="#c7c8ca"/>
<rect x="488.30" y="60.65" width="3.99" height="10.15" fill="#c7c8ca"/>
<rect x="492.00" y="60.65" width="3.99" height="10.15" fill="#c7c8ca"/>
<rect x="495.69" y="60.65" width="3.99" height="10.15" fill="#c7c8ca"/>
<rect x="499.38" y="60.65" width="3.99" height="10.15" fill="#c7c8ca"/>
<rect x="503.07" y="60.65" width="3.99" height="10.15" fill="#c7c8ca"/>
<rect x="506.77" y="60.65" width="3.99" height="10.15" fill="#c7c8ca"/>
<rect x="510.46" y="60.65" width="3.99" height="10.15" fill="#c7c8ca"/>
<rect x="514.15" y="60.65" width="3.99" height="10.15" fill="#c7c8ca"/>
<rect x="517.84" y="60.65" width="3.99" height="10.15" fill="#c7c8ca"/>
<rect x="521.54" y="60.65" width="3.99" height="10.15" fill="#c7c8ca"/>
<rect x="525.23" y="60.65" width="3.99" height="10.15" fill="#c7c8ca"/>
<rect x="528.92" y="60.65" width="3.99" height="10.15" fill="#c7c8ca"/>
<rect x="532.61" y="60.65" width="3.99" height="10.15" fill="#c7c8ca"/>
<rect x="536.31" y="60.65" width="3.99" height="10.15" fill="#c7c8ca"/>
<rect x="137.50" y="70.70" width="3.99" height="10.15" fill="#2352a6"/>
<rect x="141.19" y="70.70" width="3.99" height="10.15" fill="#2352a6"/>
<rect x="144.89" y="70.70" width="3.99" height="10.15" fill="#2352a6"/>
<rect x="148.58" y="70.70" width="3.99" height="10.15" fill="#dcdcdc"/>
<rect x="152.27" y="70.70" width="3.99" height="10.15" fill="#dcdcdc"/>
<rect x="155.96" y="70.70" width="3.99" height="10.15" fill="#dcdcdc"/>
<rect x="159.66" y="70.70" width="3.99" height="10.15" fill="#dcdcdc"/>
<rect x="163.35" y="70.70" width="3.99" height="10.15" fill="#dcdcdc"/>
<rect x="167.04" y="70.70" width="3.99" height="10.15" fill="#dcdcdc"/>
<rect x="170.73" y="70.70" width="3.99" height="10.15" fill="#dcdcdc"/>
<rect x="174.43" y="70.70" width="3.99" height="10.15" fill="#dcdcdc"/>
<rect x="178.12" y="70.70" width="3.99" height="10.15" fill="#dcdcdc"/>
<rect x="181.81" y="70.70" width="3.99" height="10.15" fill="#dcdcdc"/>
<rect x="185.50" y="70.70" width="3.99" height="10.15" fill="#dcdcdc"/>
<rect x="189.20" y="70.70" width="3.99" height="10.15" fill="#dcdcdc"/>
<rect x="192.89" y="70.70" width="3.99" height="10.15" fill="#dcdcdc"/>
<rect x="196.58" y="70.70" width="3.99" height="10.15" fill="#dcdcdc"/>
<rect x="200.28" y="70.70" width="3.99" height="10.15" fill="#dcdcdc"/>
<rect x="203.97" y="70.70" width="3.99" height="10.15" fill="#dcdcdc"/>
<rect x="207.66" y="70.70" width="3.99" height="10.15" fill="#dcdcdc"/>
<rect x="211.35" y="70.70" width="3.99" height="10.15" fill="#dcdcdc"/>
<rect x="215.05" y="70.70" width="3.99" height="10.15" fill="#dcdcdc"/>
<rect x="218.74" y="70.70" width="3.99" height="10.15" fill="#dcdcdc"/>
<rect x="222.43" y="70.70" width="3.99" height="10.15" fill="#dcdcdc"/>
<rect x="226.12" y="70.70" width="3.99" height="10.15" fill="#dcdcdc"/>
<rect x="229.82" y="70.70" width="3.99" height="10.15" fill="#dcdcdc"/>
<rect x="233.51" y="70.70" width="3.99" height="10.15" fill="#dcdcdc"/>
<rect x="237.20" y="70.70" width="3.99" height="10.15" fill="#dcdcdc"/>
<rect x="240.89" y="70.70" width="3.99" height="10.15" fill="#dcdcdc"/>
<rect x="244.59" y="70.70" width="3.99" height="10.15" fill="#dcdcdc"/>
<rect x="248.28" y="70.70" width="3.99" height="10.15" fill="#dcdcdc"/>
<rect x="251.97" y="70.70" width="3.99" height="10.15" fill="#dcdcdc"/>
<rect x="255.67" y="70.70" width="3.99" height="10.15" fill="#dcdcdc"/>
<rect x="259.36" y="70.70" width="3.99" height="10.15" fill="#dcdcdc"/>
<rect x="263.05" y="70.70" width="3.99" height="10.15" fill="#dcdcdc"/>
<rect x="266.74" y="70.70" width="3.99" height="10.15" fill="#dcdcdc"/>
<rect x="270.44" y="70.70" width="3.99" height="10.15" fill="#dcdcdc"/>
<rect x="274.13" y="70.70" width="3.99" height="10.15" fill="#dcdcdc"/>
<rect x="277.82" y="70.70" width="3.99" height="10.15" fill="#dcdcdc"/>
<rect x="281.51" y="70.70" width="3.99" height="10.15" fill="#dcdcdc"/>
<rect x="285.21" y="70.70" width="3.99" height="10.15" fill="#dcdcdc"/>
<rect x="288.90" y="70.70" width="3.99" height="10.15" fill="#dcdcdc"/>
<rect x="292.59" y="70.70" width="3.99" height="10.15" fill="#dcdcdc"/>
<rect x="296.28" y="70.70" width="3.99" height="10.15" fill="#dcdcdc"/>
<rect x="299.98" y="70.70" width="3.99" height="10.15" fill="#dcdcdc"/>
<rect x="303.67" y="70.70" width="3.99" height="10.15" fill="#dcdcdc"/>
<rect x="307.36" y="70.70" width="3.99" height="10.15" fill="#dcdcdc"/>
<rect x="311.06" y="70.70" width="3.99" height="10.15" fill="#dcdcdc"/>
<rect x="314.75" y="70.70" width="3.99" height="10.15" fill="#dcdcdc"/>
<rect x="318.44" y="70.70" width="3.99" height="10.15" fill="#dcdcdc"/>
<rect x="322.13" y="70.70" width="3.99" height="10.15" fill="#dcdcdc"/>
<rect x="325.83" y="70.70" width="3.99" height="10.15" fill="#dcdcdc"/>
<rect x="329.52" y="70.70" width="3.99" height="10.15" fill="#dcdcdc"/>
<rect x="333.21" y="70.70" width="3.99" height="10.15" fill="#dcdcdc"/>
<rect x="336.90" y="70.70" width="3.99" height="10.15" fill="#dcdcdc"/>
<rect x="340.60" y="70.70" width="3.99" height="10.15" fill="#2352a6"/>
<rect x="344.29" y="70.70" width="3.99" height="10.15" fill="#dcdcdc"/>
<rect x="347.98" y="70.70" width="3.99" height="10.15" fill="#dcdcdc"/>
<rect x="351.67" y="70.70" width="3.99" height="10.15" fill="#dcdcdc"/>
<rect x="355.37" y="70.70" width="3.99" height="10.15" fill="#dcdcdc"/>
<rect x="359.06" y="70.70" width="3.99" height="10.15" fill="#dcdcdc"/>
<rect x="362.75" y="70.70" width="3.99" height="10.15" fill="#dcdcdc"/>
<rect x="366.44" y="70.70" width="3.99" height="10.15" fill="#dcdcdc"/>
<rect x="370.14" y="70.70" width="3.99" height="10.15" fill="#dcdcdc"/>
<rect x="373.83" y="70.70" width="3.99" height="10.15" fill="#dcdcdc"/>
<rect x="377.52" y="70.70" width="3.99" height="10.15" fill="#dcdcdc"/>
<rect x="381.22" y="70.70" width="3.99" height="10.15" fill="#dcdcdc"/>
<rect x="384.91" y="70.70" width="3.99" height="10.15" fill="#dcdcdc"/>
<rect x="388.60" y="70.70" width="3.99" height="10.15" fill="#dcdcdc"/>
<rect x="392.29" y="70.70" width="3.99" height="10.15" fill="#dcdcdc"/>
<rect x="395.99" y="70.70" width="3.99" height="10.15" fill="#dcdcdc"/>
<rect x="399.68" y="70.70" width="3.99" height="10.15" fill="#dcdcdc"/>
<rect x="403.37" y="70.70" width="3.99" height="10.15" fill="#dcdcdc"/>
<rect x="407.06" y="70.70" width="3.99" height="10.15" fill="#dcdcdc"/>
<rect x="410.76" y="70.70" width="3.99" height="10.15" fill="#dcdcdc"/>
<rect x="414.45" y="70.70" width="3.99" height="10.15" fill="#dcdcdc"/>
<rect x="418.14" y="70.70" width="3.99" height="10.15" fill="#dcdcdc"/>
<rect x="421.83" y="70.70" width="3.99" height="10.15" fill="#dcdcdc"/>
<rect x="425.53" y="70.70" width="3.99" height="10.15" fill="#dcdcdc"/>
<rect x="429.22" y="70.70" width="3.99" height="10.15" fill="#dcdcdc"/>
<rect x="432.91" y="70.70" width="3.99" height="10.15" fill="#dcdcdc"/>
<rect x="436.61" y="70.70" width="3.99" height="10.15" fill="#dcdcdc"/>
<rect x="440.30" y="70.70" width="3.99" height="10.15" fill="#dcdcdc"/>
<rect x="443.99" y="70.70" width="3.99" height="10.15" fill="#dcdcdc"/>
<rect x="447.68" y="70.70" width="3.99" height="10.15" fill="#dcdcdc"/>
<rect x="451.38" y="70.70" width="3.99" height="10.15" fill="#dcdcdc"/>
<rect x="455.07" y="70.70" width="3.99" height="10.15" fill="#dcdcdc"/>
<rect x="458.76" y="70.70" width="3.99" height="10.15" fill="#dcdcdc"/>
<rect x="462.45" y="70.70" width="3.99" height="10.15" fill="#dcdcdc"/>
<rect x="466.15" y="70.70" width="3.99" height="10.15" fill="#dcdcdc"/>
<rect x="469.84" y="70.70" width="3.99" height="10.15" fill="#dcdcdc"/>
<rect x="473.53" y="70.70" width="3.99" height="10.15" fill="#dcdcdc"/>
<rect x="477.22" y="70.70" width="3.99" height="10.15" fill="#dcdcdc"/>
<rect x="480.92" y="70.70" width="3.99" height="10.15" fill="#dcdcdc"/>
<rect x="484.61" y="70.70" width="3.99" height="10.15" fill="#dcdcdc"/>
<rect x="488.30" y="70.70" width="3.99" height="10.15" fill="#dcdcdc"/>
<rect x="492.00" y="70.70" width="3.99" height="10.15" fill="#dcdcdc"/>
<rect x="495.69" y="70.70" width="3.99" height="10.15" fill="#dcdcdc"/>
<rect x="499.38" y="70.70" width="3.99" height="10.15" fill="#dcdcdc"/>
<rect x="503.07" y="70.70" width="3.99" height="10.15" fill="#dcdcdc"/>
<rect x="506.77" y="70.70" width="3.99" height="10.15" fill="#dcdcdc"/>
<rect x="510.46" y="70.70" width="3.99" height="10.15" fill="#dcdcdc"/>
<rect x="514.15" y="70.70" width="3.99" height="10.15" fill="#dcdcdc"/>
<rect x="517.84" y="70.70" width="3.99" height="10.15" fill="#dcdcdc"/>
<rect x="521.54" y="70.70" width="3.99" height="10.15" fill="#dcdcdc"/>
<rect x="525.23" y="70.70" width="3.99" height="10.15" fill="#dcdcdc"/>
<rect x="528.92" y="70.70" width="3.99" height="10.15" fill="#dcdcdc"/>
<rect x="532.61" y="70.70" width="3.99" height="10.15" fill="#dcdcdc"/>
<rect x="536.31" y="70.70" width="3.99" height="10.15" fill="#dcdcdc"/>
<rect x="77.20" y="90.90" width="60.30" height="10.08" fill="#c7c8ca"/>
<rect x="77.20" y="100.98" width="60.30" height="20.17" fill="#dcdcdc"/>
<rect x="77.20" y="121.15" width="60.30" height="30.25" fill="#c7c8ca"/>
<rect x="77.20" y="151.40" width="60.30" height="50.41" fill="#dcdcdc"/>
<rect x="77.20" y="201.81" width="60.30" height="70.58" fill="#c7c8ca"/>
<rect x="77.20" y="272.39" width="60.30" height="30.25" fill="#dcdcdc"/>
<rect x="77.20" y="302.64" width="60.30" height="10.08" fill="#c7c8ca"/>
<rect x="77.20" y="312.73" width="60.30" height="10.08" fill="#dcdcdc"/>
<rect x="77.20" y="322.81" width="60.30" height="10.08" fill="#c7c8ca"/>
<rect x="137.50" y="90.90" width="3.99" height="10.18" fill="#922a2c"/>
<rect x="141.19" y="90.90" width="3.99" height="10.18" fill="#922a2c"/>
<rect x="144.89" y="90.90" width="3.99" height="10.18" fill="#922a2c"/>
<rect x="148.58" y="90.90" width="3.99" height="10.18" fill="#922a2c"/>
<rect x="152.27" y="90.90" width="3.99" height="10.18" fill="#922a2c"/>
<rect x="155.96" y="90.90" width="3.99" height="10.18" fill="#922a2c"/>
<rect x="159.66" y="90.90" width="3.99" height="10.18" fill="#922a2c"/>
<rect x="163.35" y="90.90" width="3.99" height="10.18" fill="#922a2c"/>
<rect x="167.04" y="90.90" width="3.99" height="10.18" fill="#922a2c"/>
<rect x="170.73" y="90.90" width="3.99" height="10.18" fill="#922a2c"/>
<rect x="174.43" y="90.90" width="3.99" height="10.18" fill="#922a2c"/>
<rect x="178.12" y="90.90" width="3.99" height="10.18" fill="#922a2c"/>
<rect x="181.81" y="90.90" width="3.99" height="10.18" fill="#922a2c"/>
<rect x="185.50" y="90.90" width="3.99" height="10.18" fill="#922a2c"/>
<rect x="189.20" y="90.90" width="3.99" height="10.18" fill="#922a2c"/>
<rect x="192.89" y="90.90" width="3.99" height="10.18" fill="#922a2c"/>
<rect x="196.58" y="90.90" width="3.99" height="10.18" fill="#922a2c"/>
<rect x="200.28" y="90.90" width="3.99" height="10.18" fill="#922a2c"/>
<rect x="203.97" y="90.90" width="3.99" height="10.18" fill="#922a2c"/>
<rect x="207.66" y="90.90" width="3.99" height="10.18" fill="#922a2c"/>
<rect x="211.35" y="90.90" width="3.99" height="10.18" fill="#922a2c"/>
<rect x="215.05" y="90.90" width="3.99" height="10.18" fill="#922a2c"/>
<rect x="218.74" y="90.90" width="3.99" height="10.18" fill="#922a2c"/>
<rect x="222.43" y="90.90" width="3.99" height="10.18" fill="#922a2c"/>
<rect x="226.12" y="90.90" width="3.99" height="10.18" fill="#922a2c"/>
<rect x="229.82" y="90.90" width="3.99" height="10.18" fill="#922a2c"/>
<rect x="233.51" y="90.90" width="3.99" height="10.18" fill="#922a2c"/>
<rect x="237.20" y="90.90" width="3.99" height="10.18" fill="#922a2c"/>
<rect x="240.89" y="90.90" width="3.99" height="10.18" fill="#922a2c"/>
<rect x="244.59" y="90.90" width="3.99" height="10.18" fill="#922a2c"/>
<rect x="248.28" y="90.90" width="3.99" height="10.18" fill="#922a2c"/>
<rect x="251.97" y="90.90" width="3.99" height="10.18" fill="#922a2c"/>
<rect x="255.67" y="90.90" width="3.99" height="10.18" fill="#922a2c"/>
<rect x="259.36" y="90.90" width="3.99" height="10.18" fill="#922a2c"/>
<rect x="263.05" y="90.90" width="3.99" height="10.18" fill="#c7c8ca"/>
<rect x="266.74" y="90.90" width="3.99" height="10.18" fill="#c7c8ca"/>
<rect x="270.44" y="90.90" width="3.99" height="10.18" fill="#c7c8ca"/>
<rect x="274.13" y="90.90" width="3.99" height="10.18" fill="#c7c8ca"/>
<rect x="277.82" y="90.90" width="3.99" height="10.18" fill="#c7c8ca"/>
<rect x="281.51" y="90.90" width="3.99" height="10.18" fill="#c7c8ca"/>
<rect x="285.21" y="90.90" width="3.99" height="10.18" fill="#c7c8ca"/>
<rect x="288.90" y="90.90" width="3.99" height="10.18" fill="#c7c8ca"/>
<rect x="292.59" y="90.90" width="3.99" height="10.18" fill="#c7c8ca"/>
<rect x="296.28" y="90.90" width="3.99" height="10.18" fill="#c7c8ca"/>
<rect x="299.98" y="90.90" width="3.99" height="10.18" fill="#c7c8ca"/>
<rect x="303.67" y="90.90" width="3.99" height="10.18" fill="#c7c8ca"/>
<rect x="307.36" y="90.90" width="3.99" height="10.18" fill="#c7c8ca"/>
<rect x="311.06" y="90.90" width="3.99" height="10.18" fill="#c7c8ca"/>
<rect x="314.75" y="90.90" width="3.99" height="10.18" fill="#c7c8ca"/>
<rect x="318.44" y="90.90" width="3.99" height="10.18" fill="#c7c8ca"/>
<rect x="322.13" y="90.90" width="3.99" height="10.18" fill="#c7c8ca"/>
<rect x="325.83" y="90.90" width="3.99" height="10.18" fill="#c7c8ca"/>
<rect x="329.52" y="90.90" width="3.99" height="10.18" fill="#922a2c"/>
<rect x="333.21" y="90.90" width="3.99" height="10.18" fill="#922a2c"/>
<rect x="336.90" y="90.90" width="3.99" height="10.18" fill="#c7c8ca"/>
<rect x="340.60" y="90.90" width="3.99" height="10.18" fill="#c7c8ca"/>
<rect x="344.29" y="90.90" width="3.99" height="10.18" fill="#922a2c"/>
<rect x="347.98" y="90.90" width="3.99" height="10.18" fill="#922a2c"/>
<rect x="351.67" y="90.90" width="3.99" height="10.18" fill="#922a2c"/>
<rect x="355.37" y="90.90" width="3.99" height="10.18" fill="#922a2c"/>
<rect x="359.06" y="90.90" width="3.99" height="10.18" fill="#922a2c"/>
<rect x="362.75" y="90.90" width="3.99" height="10.18" fill="#c7c8ca"/>
<rect x="366.44" y="90.90" width="3.99" height="10.18" fill="#c7c8ca"/>
<rect x="370.14" y="90.90" width="3.99" height="10.18" fill="#c7c8ca"/>
<rect x="373.83" y="90.90" width="3.99" height="10.18" fill="#c7c8ca"/>
<rect x="377.52" y="90.90" width="3.99" height="10.18" fill="#c7c8ca"/>
<rect x="381.22" y="90.90" width="3.99" height="10.18" fill="#c7c8ca"/>
<rect x="384.91" y="90.90" width="3.99" height="10.18" fill="#c7c8ca"/>
<rect x="388.60" y="90.90" width="3.99" height="10.18" fill="#c7c8ca"/>
<rect x="392.29" y="90.90" width="3.99" height="10.18" fill="#c7c8ca"/>
<rect x="395.99" y="90.90" width="3.99" height="10.18" fill="#c7c8ca"/>
<rect x="399.68" y="90.90" width="3.99" height="10.18" fill="#c7c8ca"/>
<rect x="403.37" y="90.90" width="3.99" height="10.18" fill="#c7c8ca"/>
<rect x="407.06" y="90.90" width="3.99" height="10.18" fill="#c7c8ca"/>
<rect x="410.76" y="90.90" width="3.99" height="10.18" fill="#c7c8ca"/>
<rect x="414.45" y="90.90" width="3.99" height="10.18" fill="#c7c8ca"/>
<rect x="418.14" y="90.90" width="3.99" height="10.18" fill="#c7c8ca"/>
<rect x="421.83" y="90.90" width="3.99" height="10.18" fill="#c7c8ca"/>
<rect x="425.53" y="90.90" width="3.99" height="10.18" fill="#c7c8ca"/>
<rect x="429.22" y="90.90" width="3.99" height="10.18" fill="#c7c8ca"/>
<rect x="432.91" y="90.90" width="3.99" height="10.18" fill="#c7c8ca"/>
<rect x="436.61" y="90.90" width="3.99" height="10.18" fill="#c7c8ca"/>
<rect x="440.30" y="90.90" width="3.99" height="10.18" fill="#c7c8ca"/>
<rect x="443.99" y="90.90" width="3.99" height="10.18" fill="#c7c8ca"/>
<rect x="447.68" y="90.90" width="3.99" height="10.18" fill="#c7c8ca"/>
<rect x="451.38" y="90.90" width="3.99" height="10.18" fill="#c7c8ca"/>
<rect x="455.07" y="90.90" width="3.99" height="10.18" fill="#c7c8ca"/>
<rect x="458.76" y="90.90" width="3.99" height="10.18" fill="#c7c8ca"/>
<rect x="462.45" y="90.90" width="3.99" height="10.18" fill="#c7c8ca"/>
<rect x="466.15" y="90.90" width="3.99" height="10.18" fill="#c7c8ca"/>
<rect x="469.84" y="90.90" width="3.99" height="10.18" fill="#c7c8ca"/>
<rect x="473.53" y="90.90" width="3.99" height="10.18" fill="#c7c8ca"/>
<rect x="477.22" y="90.90" width="3.99" height="10.18" fill="#c7c8ca"/>
<rect x="480.92" y="90.90" width="3.99" height="10.18" fill="#c7c8ca"/>
<rect x="484.61" y="90.90" width="3.99" height="10.18" fill="#c7c8ca"/>
<rect x="488.30" y="90.90" width="3.99" height="10.18" fill="#c7c8ca"/>
<rect x="492.00" y="90.90" width="3.99" height="10.18" fill="#c7c8ca"/>
<rect x="495.69" y="90.90" width="3.99" height="10.18" fill="#c7c8ca"/>
<rect x="499.38" y="90.90" width="3.99" height="10.18" fill="#c7c8ca"/>
<rect x="503.07" y="90.90" width="3.99" height="10.18" fill="#c7c8ca"/>
<rect x="506.77" y="90.90" width="3.99" height="10.18" fill="#c7c8ca"/>
<rect x="510.46" y="90.90" width="3.99" height="10.18" fill="#c7c8ca"/>
<rect x="514.15" y="90.90" width="3.99" height="10.18" fill="#c7c8ca"/>
<rect x="517.84" y="90.90" width="3.99" height="10.18" fill="#c7c8ca"/>
<rect x="521.54" y="90.90" width="3.99" height="10.18" fill="#c7c8ca"/>
<rect x="525.23" y="90.90" width="3.99" height="10.18" fill="#c7c8ca"/>
<rect x="528.92" y="90.90" width="3.99" height="10.18" fill="#c7c8ca"/>
<rect x="532.61" y="90.90" width="3.99" height="10.18" fill="#c7c8ca"/>
<rect x="536.31" y="90.90" width="3.99" height="10.18" fill="#c7c8ca"/>
<rect x="137.50" y="100.98" width="3.99" height="10.18" fill="#4a74c4"/>
<rect x="141.19" y="100.98" width="3.99" height="10.18" fill="#dcdcdc"/>
<rect x="144.89" y="100.98" width="3.99" height="10.18" fill="#dcdcdc"/>
<rect x="148.58" y="100.98" width="3.99" height="10.18" fill="#36893f"/>
<rect x="152.27" y="100.98" width="3.99" height="10.18" fill="#dcdcdc"/>
<rect x="155.96" y="100.98" width="3.99" height="10.18" fill="#dcdcdc"/>
<rect x="159.66" y="100.98" width="3.99" height="10.18" fill="#dcdcdc"/>
<rect x="163.35" y="100.98" width="3.99" height="10.18" fill="#dcdcdc"/>
<rect x="167.04" y="100.98" width="3.99" height="10.18" fill="#dcdcdc"/>
<rect x="170.73" y="100.98" width="3.99" height="10.18" fill="#dcdcdc"/>
<rect x="174.43" y="100.98" width="3.99" height="10.18" fill="#dcdcdc"/>
<rect x="178.12" y="100.98" width="3.99" height="10.18" fill="#dcdcdc"/>
<rect x="181.81" y="100.98" width="3.99" height="10.18" fill="#dcdcdc"/>
<rect x="185.50" y="100.98" width="3.99" height="10.18" fill="#dcdcdc"/>
<rect x="189.20" y="100.98" width="3.99" height="10.18" fill="#dcdcdc"/>
<rect x="192.89" y="100.98" width="3.99" height="10.18" fill="#dcdcdc"/>
<rect x="196.58" y="100.98" width="3.99" height="10.18" fill="#dcdcdc"/>
<rect x="200.28" y="100.98" width="3.99" height="10.18" fill="#dcdcdc"/>
<rect x="203.97" y="100.98" width="3.99" height="10.18" fill="#dcdcdc"/>
<rect x="207.66" y="100.98" width="3.99" height="10.18" fill="#dcdcdc"/>
<rect x="211.35" y="100.98" width="3.99" height="10.18" fill="#dcdcdc"/>
<rect x="215.05" y="100.98" width="3.99" height="10.18" fill="#dcdcdc"/>
<rect x="218.74" y="100.98" width="3.99" height="10.18" fill="#dcdcdc"/>
<rect x="222.43" y="100.98" width="3.99" height="10.18" fill="#dcdcdc"/>
<rect x="226.12" y="100.98" width="3.99" height="10.18" fill="#dcdcdc"/>
<rect x="229.82" y="100.98" width="3.99" height="10.18" fill="#dcdcdc"/>
<rect x="233.51" y="100.98" width="3.99" height="10.18" fill="#dcdcdc"/>
<rect x="237.20" y="100.98" width="3.99" height="10.18" fill="#dcdcdc"/>
<rect x="240.89" y="100.98" width="3.99" height="10.18" fill="#dcdcdc"/>
<rect x="244.59" y="100.98" width="3.99" height="10.18" fill="#dcdcdc"/>
<rect x="248.28" y="100.98" width="3.99" height="10.18" fill="#dcdcdc"/>
<rect x="251.97" y="100.98" width="3.99" height="10.18" fill="#dcdcdc"/>
<rect x="255.67" y="100.98" width="3.99" height="10.18" fill="#dcdcdc"/>
<rect x="259.36" y="100.98" width="3.99" height="10.18" fill="#dcdcdc"/>
<rect x="263.05" y="100.98" width="3.99" height="10.18" fill="#4a74c4"/>
<rect x="266.74" y="100.98" width="3.99" height="10.18" fill="#4a74c4"/>
<rect x="270.44" y="100.98" width="3.99" height="10.18" fill="#dcdcdc"/>
<rect x="274.13" y="100.98" width="3.99" height="10.18" fill="#dcdcdc"/>
<rect x="277.82" y="100.98" width="3.99" height="10.18" fill="#dcdcdc"/>
<rect x="281.51" y="100.98" width="3.99" height="10.18" fill="#dcdcdc"/>
<rect x="285.21" y="100.98" width="3.99" height="10.18" fill="#dcdcdc"/>
<rect x="288.90" y="100.98" width="3.99" height="10.18" fill="#dcdcdc"/>
<rect x="292.59" y="100.98" width="3.99" height="10.18" fill="#dcdcdc"/>
<rect x="296.28" y="100.98" width="3.99" height="10.18" fill="#dcdcdc"/>
<rect x="299.98" y="100.98" width="3.99" height="10.18" fill="#dcdcdc"/>
<rect x="303.67" y="100.98" width="3.99" height="10.18" fill="#dcdcdc"/>
<rect x="307.36" y="100.98" width="3.99" height="10.18" fill="#dcdcdc"/>
<rect x="311.06" y="100.98" width="3.99" height="10.18" fill="#dcdcdc"/>
<rect x="314.75" y="100.98" width="3.99" height="10.18" fill="#dcdcdc"/>
<rect x="318.44" y="100.98" width="3.99" height="10.18" fill="#dcdcdc"/>
<rect x="322.13" y="100.98" width="3.99" height="10.18" fill="#dcdcdc"/>
<rect x="325.83" y="100.98" width="3.99" height="10.18" fill="#dcdcdc"/>
<rect x="329.52" y="100.98" width="3.99" height="10.18" fill="#dcdcdc"/>
<rect x="333.21" y="100.98" width="3.99" height="10.18" fill="#dcdcdc"/>
<rect x="336.90" y="100.98" width="3.99" height="10.18" fill="#dcdcdc"/>
<rect x="340.60" y="100.98" width="3.99" height="10.18" fill="#dcdcdc"/>
<rect x="344.29" y="100.98" width="3.99" height="10.18" fill="#dcdcdc"/>
<rect x="347.98" y="100.98" width="3.99" height="10.18" fill="#dcdcdc"/>
<rect x="351.67" y="100.98" width="3.99" height="10.18" fill="#dcdcdc"/>
<rect x="355.37" y="100.98" width="3.99" height="10.18" fill="#dcdcdc"/>
<rect x="359.06" y="100.98" width="3.99" height="10.18" fill="#dcdcdc"/>
<rect x="362.75" y="100.98" width="3.99" height="10.18" fill="#4a74c4"/>
<rect x="366.44" y="100.98" width="3.99" height="10.18" fill="#e88088"/>
<rect x="370.14" y="100.98" width="3.99" height="10.18" fill="#4a74c4"/>
<rect x="373.83" y="100.98" width="3.99" height="10.18" fill="#4a74c4"/>
<rect x="377.52" y="100.98" width="3.99" height="10.18" fill="#4a74c4"/>
<rect x="381.22" y="100.98" width="3.99" height="10.18" fill="#4a74c4"/>
<rect x="384.91" y="100.98" width="3.99" height="10.18" fill="#dcdcdc"/>
<rect x="388.60" y="100.98" width="3.99" height="10.18" fill="#dcdcdc"/>
<rect x="392.29" y="100.98" width="3.99" height="10.18" fill="#dcdcdc"/>
<rect x="395.99" y="100.98" width="3.99" height="10.18" fill="#dcdcdc"/>
<rect x="399.68" y="100.98" width="3.99" height="10.18" fill="#dcdcdc"/>
<rect x="403.37" y="100.98" width="3.99" height="10.18" fill="#dcdcdc"/>
<rect x="407.06" y="100.98" width="3.99" height="10.18" fill="#dcdcdc"/>
<rect x="410.76" y="100.98" width="3.99" height="10.18" fill="#dcdcdc"/>
<rect x="414.45" y="100.98" width="3.99" height="10.18" fill="#dcdcdc"/>
<rect x="418.14" y="100.98" width="3.99" height="10.18" fill="#dcdcdc"/>
<rect x="421.83" y="100.98" width="3.99" height="10.18" fill="#dcdcdc"/>
<rect x="425.53" y="100.98" width="3.99" height="10.18" fill="#dcdcdc"/>
<rect x="429.22" y="100.98" width="3.99" height="10.18" fill="#dcdcdc"/>
<rect x="432.91" y="100.98" width="3.99" height="10.18" fill="#dcdcdc"/>
<rect x="436.61" y="100.98" width="3.99" height="10.18" fill="#dcdcdc"/>
<rect x="440.30" y="100.98" width="3.99" height="10.18" fill="#dcdcdc"/>
<rect x="443.99" y="100.98" width="3.99" height="10.18" fill="#dcdcdc"/>
<rect x="447.68" y="100.98" width="3.99" height="10.18" fill="#dcdcdc"/>
<rect x="451.38" y="100.98" width="3.99" height="10.18" fill="#dcdcdc"/>
<rect x="455.07" y="100.98" width="3.99" height="10.18" fill="#dcdcdc"/>
<rect x="458.76" y="100.98" width="3.99" height="10.18" fill="#dcdcdc"/>
<rect x="462.45" y="100.98" width="3.99" height="10.18" fill="#dcdcdc"/>
<rect x="466.15" y="100.98" width="3.99" height="10.18" fill="#dcdcdc"/>
<rect x="469.84" y="100.98" width="3.99" height="10.18" fill="#dcdcdc"/>
<rect x="473.53" y="100.98" width="3.99" height="10.18" fill="#dcdcdc"/>
<rect x="477.22" y="100.98" width="3.99" height="10.18" fill="#dcdcdc"/>
<rect x="480.92" y="100.98" width="3.99" height="10.18" fill="#dcdcdc"/>
<rect x="484.61" y="100.98" width="3.99" height="10.18" fill="#dcdcdc"/>
<rect x="488.30" y="100.98" width="3.99" height="10.18" fill="#dcdcdc"/>
<rect x="492.00" y="100.98" width="3.99" height="10.18" fill="#dcdcdc"/>
<rect x="495.69" y="100.98" width="3.99" height="10.18" fill="#dcdcdc"/>
<rect x="499.38" y="100.98" width="3.99" height="10.18" fill="#dcdcdc"/>
<rect x="503.07" y="100.98" width="3.99" height="10.18" fill="#dcdcdc"/>
<rect x="506.77" y="100.98" width="3.99" height="10.18" fill="#dcdcdc"/>
<rect x="510.46" y="100.98" width="3.99" height="10.18" fill="#dcdcdc"/>
<rect x="514.15" y="100.98" width="3.99" height="10.18" fill="#dcdcdc"/>
<rect x="517.84" y="100.98" width="3.99" height="10.18" fill="#dcdcdc"/>
<rect x="521.54" y="100.98" width="3.99" height="10.18" fill="#dcdcdc"/>
<rect x="525.23" y="100.98" width="3.99" height="10.18" fill="#dcdcdc"/>
<rect x="528.92" y="100.98" width="3.99" height="10.18" fill="#dcdcdc"/>
<rect x="532.61" y="100.98" width="3.99" height="10.18" fill="#dcdcdc"/>
<rect x="536.31" y="100.98" width="3.99" height="10.18" fill="#dcdcdc"/>
<rect x="137.50" y="111.07" width="3.99" height="10.18" fill="#dcdcdc"/>
<rect x="141.19" y="111.07" width="3.99" height="10.18" fill="#dcdcdc"/>
<rect x="144.89" y="111.07" width="3.99" height="10.18" fill="#dcdcdc"/>
<rect x="148.58" y="111.07" width="3.99" height="10.18" fill="#dcdcdc"/>
<rect x="152.27" y="111.07" width="3.99" height="10.18" fill="#dcdcdc"/>
<rect x="155.96" y="111.07" width="3.99" height="10.18" fill="#dcdcdc"/>
<rect x="159.66" y="111.07" width="3.99" height="10.18" fill="#dcdcdc"/>
<rect x="163.35" y="111.07" width="3.99" height="10.18" fill="#dcdcdc"/>
<rect x="167.04" y="111.07" width="3.99" height="10.18" fill="#dcdcdc"/>
<rect x="170.73" y="111.07" width="3.99" height="10.18" fill="#dcdcdc"/>
<rect x="174.43" y="111.07" width="3.99" height="10.18" fill="#dcdcdc"/>
<rect x="178.12" y="111.07" width="3.99" height="10.18" fill="#dcdcdc"/>
<rect x="181.81" y="111.07" width="3.99" height="10.18" fill="#dcdcdc"/>
<rect x="185.50" y="111.07" width="3.99" height="10.18" fill="#dcdcdc"/>
<rect x="189.20" y="111.07" width="3.99" height="10.18" fill="#dcdcdc"/>
<rect x="192.89" y="111.07" width="3.99" height="10.18" fill="#dcdcdc"/>
<rect x="196.58" y="111.07" width="3.99" height="10.18" fill="#dcdcdc"/>
<rect x="200.28" y="111.07" width="3.99" height="10.18" fill="#dcdcdc"/>
<rect x="203.97" y="111.07" width="3.99" height="10.18" fill="#dcdcdc"/>
<rect x="207.66" y="111.07" width="3.99" height="10.18" fill="#dcdcdc"/>
<rect x="211.35" y="111.07" width="3.99" height="10.18" fill="#dcdcdc"/>
<rect x="215.05" y="111.07" width="3.99" height="10.18" fill="#dcdcdc"/>
<rect x="218.74" y="111.07" width="3.99" height="10.18" fill="#dcdcdc"/>
<rect x="222.43" y="111.07" width="3.99" height="10.18" fill="#dcdcdc"/>
<rect x="226.12" y="111.07" width="3.99" height="10.18" fill="#dcdcdc"/>
<rect x="229.82" y="111.07" width="3.99" height="10.18" fill="#dcdcdc"/>
<rect x="233.51" y="111.07" width="3.99" height="10.18" fill="#dcdcdc"/>
<rect x="237.20" y="111.07" width="3.99" height="10.18" fill="#dcdcdc"/>
<rect x="240.89" y="111.07" width="3.99" height="10.18" fill="#dcdcdc"/>
<rect x="244.59" y="111.07" width="3.99" height="10.18" fill="#dcdcdc"/>
<rect x="248.28" y="111.07" width="3.99" height="10.18" fill="#dcdcdc"/>
<rect x="251.97" y="111.07" width="3.99" height="10.18" fill="#dcdcdc"/>
<rect x="255.67" y="111.07" width="3.99" height="10.18" fill="#dcdcdc"/>
<rect x="259.36" y="111.07" width="3.99" height="10.18" fill="#dcdcdc"/>
<rect x="263.05" y="111.07" width="3.99" height="10.18" fill="#dcdcdc"/>
<rect x="266.74" y="111.07" width="3.99" height="10.18" fill="#dcdcdc"/>
<rect x="270.44" y="111.07" width="3.99" height="10.18" fill="#ee2e2e"/>
<rect x="274.13" y="111.07" width="3.99" height="10.18" fill="#dcdcdc"/>
<rect x="277.82" y="111.07" width="3.99" height="10.18" fill="#dcdcdc"/>
<rect x="281.51" y="111.07" width="3.99" height="10.18" fill="#dcdcdc"/>
<rect x="285.21" y="111.07" width="3.99" height="10.18" fill="#dcdcdc"/>
<rect x="288.90" y="111.07" width="3.99" height="10.18" fill="#dcdcdc"/>
<rect x="292.59" y="111.07" width="3.99" height="10.18" fill="#dcdcdc"/>
<rect x="296.28" y="111.07" width="3.99" height="10.18" fill="#dcdcdc"/>
<rect x="299.98" y="111.07" width="3.99" height="10.18" fill="#dcdcdc"/>
<rect x="303.67" y="111.07" width="3.99" height="10.18" fill="#dcdcdc"/>
<rect x="307.36" y="111.07" width="3.99" height="10.18" fill="#dcdcdc"/>
<rect x="311.06" y="111.07" width="3.99" height="10.18" fill="#dcdcdc"/>
<rect x="314.75" y="111.07" width="3.99" height="10.18" fill="#dcdcdc"/>
<rect x="318.44" y="111.07" width="3.99" height="10.18" fill="#dcdcdc"/>
<rect x="322.13" y="111.07" width="3.99" height="10.18" fill="#dcdcdc"/>
<rect x="325.83" y="111.07" width="3.99" height="10.18" fill="#dcdcdc"/>
<rect x="329.52" y="111.07" width="3.99" height="10.18" fill="#dcdcdc"/>
<rect x="333.21" y="111.07" width="3.99" height="10.18" fill="#dcdcdc"/>
<rect x="336.90" y="111.07" width="3.99" height="10.18" fill="#dcdcdc"/>
<rect x="340.60" y="111.07" width="3.99" height="10.18" fill="#dcdcdc"/>
<rect x="344.29" y="111.07" width="3.99" height="10.18" fill="#dcdcdc"/>
<rect x="347.98" y="111.07" width="3.99" height="10.18" fill="#dcdcdc"/>
<rect x="351.67" y="111.07" width="3.99" height="10.18" fill="#dcdcdc"/>
<rect x="355.37" y="111.07" width="3.99" height="10.18" fill="#dcdcdc"/>
<rect x="359.06" y="111.07" width="3.99" height="10.18" fill="#dcdcdc"/>
<rect x="362.75" y="111.07" width="3.99" height="10.18" fill="#dcdcdc"/>
<rect x="366.44" y="111.07" width="3.99" height="10.18" fill="#dcdcdc"/>
<rect x="370.14" y="111.07" width="3.99" height="10.18" fill="#dcdcdc"/>
<rect x="373.83" y="111.07" width="3.99" height="10.18" fill="#dcdcdc"/>
<rect x="377.52" y="111.07" width="3.99" height="10.18" fill="#dcdcdc"/>
<rect x="381.22" y="111.07" width="3.99" height="10.18" fill="#dcdcdc"/>
<rect x="384.91" y="111.07" width="3.99" height="10.18" fill="#ee2e2e"/>
<rect x="388.60" y="111.07" width="3.99" height="10.18" fill="#ee2e2e"/>
<rect x="392.29" y="111.07" width="3.99" height="10.18" fill="#ee2e2e"/>
<rect x="395.99" y="111.07" width="3.99" height="10.18" fill="#ee2e2e"/>
<rect x="399.68" y="111.07" width="3.99" height="10.18" fill="#dcdcdc"/>
<rect x="403.37" y="111.07" width="3.99" height="10.18" fill="#dcdcdc"/>
<rect x="407.06" y="111.07" width="3.99" height="10.18" fill="#dcdcdc"/>
<rect x="410.76" y="111.07" width="3.99" height="10.18" fill="#dcdcdc"/>
<rect x="414.45" y="111.07" width="3.99" height="10.18" fill="#dcdcdc"/>
<rect x="418.14" y="111.07" width="3.99" height="10.18" fill="#dcdcdc"/>
<rect x="421.83" y="111.07" width="3.99" height="10.18" fill="#dcdcdc"/>
<rect x="425.53" y="111.07" width="3.99" height="10.18" fill="#dcdcdc"/>
<rect x="429.22" y="111.07" width="3.99" height="10.18" fill="#dcdcdc"/>
<rect x="432.91" y="111.07" width="3.99" height="10.18" fill="#dcdcdc"/>
<rect x="436.61" y="111.07" width="3.99" height="10.18" fill="#dcdcdc"/>
<rect x="440.30" y="111.07" width="3.99" height="10.18" fill="#dcdcdc"/>
<rect x="443.99" y="111.07" width="3.99" height="10.18" fill="#dcdcdc"/>
<rect x="447.68" y="111.07" width="3.99" height="10.18" fill="#dcdcdc"/>
<rect x="451.38" y="111.07" width="3.99" height="10.18" fill="#dcdcdc"/>
<rect x="455.07" y="111.07" width="3.99" height="10.18" fill="#dcdcdc"/>
<rect x="458.76" y="111.07" width="3.99" height="10.18" fill="#dcdcdc"/>
<rect x="462.45" y="111.07" width="3.99" height="10.18" fill="#dcdcdc"/>
<rect x="466.15" y="111.07" width="3.99" height="10.18" fill="#dcdcdc"/>
<rect x="469.84" y="111.07" width="3.99" height="10.18" fill="#dcdcdc"/>
<rect x="473.53" y="111.07" width="3.99" height="10.18" fill="#dcdcdc"/>
<rect x="477.22" y="111.07" width="3.99" height="10.18" fill="#dcdcdc"/>
<rect x="480.92" y="111.07" width="3.99" height="10.18" fill="#dcdcdc"/>
<rect x="484.61" y="111.07" width="3.99" height="10.18" fill="#dcdcdc"/>
<rect x="488.30" y="111.07" width="3.99" height="10.18" fill="#dcdcdc"/>
<rect x="492.00" y="111.07" width="3.99" height="10.18" fill="#dcdcdc"/>
<rect x="495.69" y="111.07" width="3.99" height="10.18" fill="#dcdcdc"/>
<rect x="499.38" y="111.07" width="3.99" height="10.18" fill="#dcdcdc"/>
<rect x="503.07" y="111.07" width="3.99" height="10.18" fill="#dcdcdc"/>
<rect x="506.77" y="111.07" width="3.99" height="10.18" fill="#dcdcdc"/>
<rect x="510.46" y="111.07" width="3.99" height="10.18" fill="#dcdcdc"/>
<rect x="514.15" y="111.07" width="3.99" height="10.18" fill="#dcdcdc"/>
<rect x="517.84" y="111.07" width="3.99" height="10.18" fill="#dcdcdc"/>
<rect x="521.54" y="111.07" width="3.99" height="10.18" fill="#dcdcdc"/>
<rect x="525.23" y="111.07" width="3.99" height="10.18" fill="#dcdcdc"/>
<rect x="528.92" y="111.07" width="3.99" height="10.18" fill="#dcdcdc"/>
<rect x="532.61" y="111.07" width="3.99" height="10.18" fill="#dcdcdc"/>
<rect x="536.31" y="111.07" width="3.99" height="10.18" fill="#dcdcdc"/>
<rect x="137.50" y="121.15" width="3.99" height="10.18" fill="#c7c8ca"/>
<rect x="141.19" y="121.15" width="3.99" height="10.18" fill="#f89c2c"/>
<rect x="144.89" y="121.15" width="3.99" height="10.18" fill="#c7c8ca"/>
<rect x="148.58" y="121.15" width="3.99" height="10.18" fill="#c7c8ca"/>
<rect x="152.27" y="121.15" width="3.99" height="10.18" fill="#4a74c4"/>
<rect x="155.96" y="121.15" width="3.99" height="10.18" fill="#36893f"/>
<rect x="159.66" y="121.15" width="3.99" height="10.18" fill="#f89c2c"/>
<rect x="163.35" y="121.15" width="3.99" height="10.18" fill="#36893f"/>
<rect x="167.04" y="121.15" width="3.99" height="10.18" fill="#c5a888"/>
<rect x="170.73" y="121.15" width="3.99" height="10.18" fill="#36893f"/>
<rect x="174.43" y="121.15" width="3.99" height="10.18" fill="#c5a888"/>
<rect x="178.12" y="121.15" width="3.99" height="10.18" fill="#36893f"/>
<rect x="181.81" y="121.15" width="3.99" height="10.18" fill="#c5a888"/>
<rect x="185.50" y="121.15" width="3.99" height="10.18" fill="#36893f"/>
<rect x="189.20" y="121.15" width="3.99" height="10.18" fill="#c5a888"/>
<rect x="192.89" y="121.15" width="3.99" height="10.18" fill="#4a74c4"/>
<rect x="196.58" y="121.15" width="3.99" height="10.18" fill="#36893f"/>
<rect x="200.28" y="121.15" width="3.99" height="10.18" fill="#36893f"/>
<rect x="203.97" y="121.15" width="3.99" height="10.18" fill="#7650a8"/>
<rect x="207.66" y="121.15" width="3.99" height="10.18" fill="#7650a8"/>
<rect x="211.35" y="121.15" width="3.99" height="10.18" fill="#36893f"/>
<rect x="215.05" y="121.15" width="3.99" height="10.18" fill="#36893f"/>
<rect x="218.74" y="121.15" width="3.99" height="10.18" fill="#f89c2c"/>
<rect x="222.43" y="121.15" width="3.99" height="10.18" fill="#c7c8ca"/>
<rect x="226.12" y="121.15" width="3.99" height="10.18" fill="#c7c8ca"/>
<rect x="229.82" y="121.15" width="3.99" height="10.18" fill="#c7c8ca"/>
<rect x="233.51" y="121.15" width="3.99" height="10.18" fill="#c7c8ca"/>
<rect x="237.20" y="121.15" width="3.99" height="10.18" fill="#c7c8ca"/>
<rect x="240.89" y="121.15" width="3.99" height="10.18" fill="#c7c8ca"/>
<rect x="244.59" y="121.15" width="3.99" height="10.18" fill="#c7c8ca"/>
<rect x="248.28" y="121.15" width="3.99" height="10.18" fill="#c7c8ca"/>
<rect x="251.97" y="121.15" width="3.99" height="10.18" fill="#c7c8ca"/>
<rect x="255.67" y="121.15" width="3.99" height="10.18" fill="#c7c8ca"/>
<rect x="259.36" y="121.15" width="3.99" height="10.18" fill="#c7c8ca"/>
<rect x="263.05" y="121.15" width="3.99" height="10.18" fill="#f89c2c"/>
<rect x="266.74" y="121.15" width="3.99" height="10.18" fill="#c7c8ca"/>
<rect x="270.44" y="121.15" width="3.99" height="10.18" fill="#c7c8ca"/>
<rect x="274.13" y="121.15" width="3.99" height="10.18" fill="#f89c2c"/>
<rect x="277.82" y="121.15" width="3.99" height="10.18" fill="#f89c2c"/>
<rect x="281.51" y="121.15" width="3.99" height="10.18" fill="#4a74c4"/>
<rect x="285.21" y="121.15" width="3.99" height="10.18" fill="#36893f"/>
<rect x="288.90" y="121.15" width="3.99" height="10.18" fill="#e88088"/>
<rect x="292.59" y="121.15" width="3.99" height="10.18" fill="#4a74c4"/>
<rect x="296.28" y="121.15" width="3.99" height="10.18" fill="#c7c8ca"/>
<rect x="299.98" y="121.15" width="3.99" height="10.18" fill="#c7c8ca"/>
<rect x="303.67" y="121.15" width="3.99" height="10.18" fill="#c7c8ca"/>
<rect x="307.36" y="121.15" width="3.99" height="10.18" fill="#c7c8ca"/>
<rect x="311.06" y="121.15" width="3.99" height="10.18" fill="#c7c8ca"/>
<rect x="314.75" y="121.15" width="3.99" height="10.18" fill="#c7c8ca"/>
<rect x="318.44" y="121.15" width="3.99" height="10.18" fill="#c7c8ca"/>
<rect x="322.13" y="121.15" width="3.99" height="10.18" fill="#c7c8ca"/>
<rect x="325.83" y="121.15" width="3.99" height="10.18" fill="#c7c8ca"/>
<rect x="329.52" y="121.15" width="3.99" height="10.18" fill="#c7c8ca"/>
<rect x="333.21" y="121.15" width="3.99" height="10.18" fill="#c7c8ca"/>
<rect x="336.90" y="121.15" width="3.99" height="10.18" fill="#c7c8ca"/>
<rect x="340.60" y="121.15" width="3.99" height="10.18" fill="#c7c8ca"/>
<rect x="344.29" y="121.15" width="3.99" height="10.18" fill="#7650a8"/>
<rect x="347.98" y="121.15" width="3.99" height="10.18" fill="#36893f"/>
<rect x="351.67" y="121.15" width="3.99" height="10.18" fill="#7650a8"/>
<rect x="355.37" y="121.15" width="3.99" height="10.18" fill="#c7c8ca"/>
<rect x="359.06" y="121.15" width="3.99" height="10.18" fill="#c7c8ca"/>
<rect x="362.75" y="121.15" width="3.99" height="10.18" fill="#c7c8ca"/>
<rect x="366.44" y="121.15" width="3.99" height="10.18" fill="#c7c8ca"/>
<rect x="370.14" y="121.15" width="3.99" height="10.18" fill="#c7c8ca"/>
<rect x="373.83" y="121.15" width="3.99" height="10.18" fill="#c7c8ca"/>
<rect x="377.52" y="121.15" width="3.99" height="10.18" fill="#c7c8ca"/>
<rect x="381.22" y="121.15" width="3.99" height="10.18" fill="#c7c8ca"/>
<rect x="384.91" y="121.15" width="3.99" height="10.18" fill="#36893f"/>
<rect x="388.60" y="121.15" width="3.99" height="10.18" fill="#36893f"/>
<rect x="392.29" y="121.15" width="3.99" height="10.18" fill="#c7c8ca"/>
<rect x="395.99" y="121.15" width="3.99" height="10.18" fill="#c7c8ca"/>
<rect x="399.68" y="121.15" width="3.99" height="10.18" fill="#7650a8"/>
<rect x="403.37" y="121.15" width="3.99" height="10.18" fill="#36893f"/>
<rect x="407.06" y="121.15" width="3.99" height="10.18" fill="#36893f"/>
<rect x="410.76" y="121.15" width="3.99" height="10.18" fill="#f89c2c"/>
<rect x="414.45" y="121.15" width="3.99" height="10.18" fill="#36893f"/>
<rect x="418.14" y="121.15" width="3.99" height="10.18" fill="#36893f"/>
<rect x="421.83" y="121.15" width="3.99" height="10.18" fill="#f89c2c"/>
<rect x="425.53" y="121.15" width="3.99" height="10.18" fill="#36893f"/>
<rect x="429.22" y="121.15" width="3.99" height="10.18" fill="#36893f"/>
<rect x="432.91" y="121.15" width="3.99" height="10.18" fill="#36893f"/>
<rect x="436.61" y="121.15" width="3.99" height="10.18" fill="#c7c8ca"/>
<rect x="440.30" y="121.15" width="3.99" height="10.18" fill="#c7c8ca"/>
<rect x="443.99" y="121.15" width="3.99" height="10.18" fill="#c7c8ca"/>
<rect x="447.68" y="121.15" width="3.99" height="10.18" fill="#c7c8ca"/>
<rect x="451.38" y="121.15" width="3.99" height="10.18" fill="#c7c8ca"/>
<rect x="455.07" y="121.15" width="3.99" height="10.18" fill="#c7c8ca"/>
<rect x="458.76" y="121.15" width="3.99" height="10.18" fill="#c7c8ca"/>
<rect x="462.45" y="121.15" width="3.99" height="10.18" fill="#c7c8ca"/>
<rect x="466.15" y="121.15" width="3.99" height="10.18" fill="#c7c8ca"/>
<rect x="469.84" y="121.15" width="3.99" height="10.18" fill="#c7c8ca"/>
<rect x="473.53" y="121.15" width="3.99" height="10.18" fill="#c7c8ca"/>
<rect x="477.22" y="121.15" width="3.99" height="10.18" fill="#c7c8ca"/>
<rect x="480.92" y="121.15" width="3.99" height="10.18" fill="#c7c8ca"/>
<rect x="484.61" y="121.15" width="3.99" height="10.18" fill="#c7c8ca"/>
<rect x="488.30" y="121.15" width="3.99" height="10.18" fill="#c7c8ca"/>
<rect x="492.00" y="121.15" width="3.99" height="10.18" fill="#c7c8ca"/>
<rect x="495.69" y="121.15" width="3.99" height="10.18" fill="#c7c8ca"/>
<rect x="499.38" y="121.15" width="3.99" height="10.18" fill="#c7c8ca"/>
<rect x="503.07" y="121.15" width="3.99" height="10.18" fill="#c7c8ca"/>
<rect x="506.77" y="121.15" width="3.99" height="10.18" fill="#c7c8ca"/>
<rect x="510.46" y="121.15" width="3.99" height="10.18" fill="#c7c8ca"/>
<rect x="514.15" y="121.15" width="3.99" height="10.18" fill="#c7c8ca"/>
<rect x="517.84" y="121.15" width="3.99" height="10.18" fill="#c7c8ca"/>
<rect x="521.54" y="121.15" width="3.99" height="10.18" fill="#c7c8ca"/>
<rect x="525.23" y="121.15" width="3.99" height="10.18" fill="#c7c8ca"/>
<rect x="528.92" y="121.15" width="3.99" height="10.18" fill="#c7c8ca"/>
<rect x="532.61" y="121.15" width="3.99" height="10.18" fill="#c7c8ca"/>
<rect x="536.31" y="121.15" width="3.99" height="10.18" fill="#c7c8ca"/>
<rect x="137.50" y="131.23" width="3.99" height="10.18" fill="#4a74c4"/>
<rect x="141.19" y="131.23" width="3.99" height="10.18" fill="#c7c8ca"/>
<rect x="144.89" y="131.23" width="3.99" height="10.18" fill="#4a74c4"/>
<rect x="148.58" y="131.23" width="3.99" height="10.18" fill="#c7c8ca"/>
<rect x="152.27" y="131.23" width="3.99" height="10.18" fill="#c7c8ca"/>
<rect x="155.96" y="131.23" width="3.99" height="10.18" fill="#c7c8ca"/>
<rect x="159.66" y="131.23" width="3.99" height="10.18" fill="#c7c8ca"/>
<rect x="163.35" y="131.23" width="3.99" height="10.18" fill="#c7c8ca"/>
<rect x="167.04" y="131.23" width="3.99" height="10.18" fill="#c7c8ca"/>
<rect x="170.73" y="131.23" width="3.99" height="10.18" fill="#c7c8ca"/>
<rect x="174.43" y="131.23" width="3.99" height="10.18" fill="#c7c8ca"/>
<rect x="178.12" y="131.23" width="3.99" height="10.18" fill="#c7c8ca"/>
<rect x="181.81" y="131.23" width="3.99" height="10.18" fill="#c7c8ca"/>
<rect x="185.50" y="131.23" width="3.99" height="10.18" fill="#c7c8ca"/>
<rect x="189.20" y="131.23" width="3.99" height="10.18" fill="#c7c8ca"/>
<rect x="192.89" y="131.23" width="3.99" height="10.18" fill="#c7c8ca"/>
<rect x="196.58" y="131.23" width="3.99" height="10.18" fill="#c7c8ca"/>
<rect x="200.28" y="131.23" width="3.99" height="10.18" fill="#c7c8ca"/>
<rect x="203.97" y="131.23" width="3.99" height="10.18" fill="#c7c8ca"/>
<rect x="207.66" y="131.23" width="3.99" height="10.18" fill="#c7c8ca"/>
<rect x="211.35" y="131.23" width="3.99" height="10.18" fill="#c7c8ca"/>
<rect x="215.05" y="131.23" width="3.99" height="10.18" fill="#c7c8ca"/>
<rect x="218.74" y="131.23" width="3.99" height="10.18" fill="#c7c8ca"/>
<rect x="222.43" y="131.23" width="3.99" height="10.18" fill="#4a74c4"/>
<rect x="226.12" y="131.23" width="3.99" height="10.18" fill="#4a74c4"/>
<rect x="229.82" y="131.23" width="3.99" height="10.18" fill="#a7dbe0"/>
<rect x="233.51" y="131.23" width="3.99" height="10.18" fill="#c7c8ca"/>
<rect x="237.20" y="131.23" width="3.99" height="10.18" fill="#c7c8ca"/>
<rect x="240.89" y="131.23" width="3.99" height="10.18" fill="#c7c8ca"/>
<rect x="244.59" y="131.23" width="3.99" height="10.18" fill="#c7c8ca"/>
<rect x="248.28" y="131.23" width="3.99" height="10.18" fill="#c7c8ca"/>
<rect x="251.97" y="131.23" width="3.99" height="10.18" fill="#c7c8ca"/>
<rect x="255.67" y="131.23" width="3.99" height="10.18" fill="#c7c8ca"/>
<rect x="259.36" y="131.23" width="3.99" height="10.18" fill="#c7c8ca"/>
<rect x="263.05" y="131.23" width="3.99" height="10.18" fill="#c7c8ca"/>
<rect x="266.74" y="131.23" width="3.99" height="10.18" fill="#c7c8ca"/>
<rect x="270.44" y="131.23" width="3.99" height="10.18" fill="#c7c8ca"/>
<rect x="274.13" y="131.23" width="3.99" height="10.18" fill="#c7c8ca"/>
<rect x="277.82" y="131.23" width="3.99" height="10.18" fill="#c7c8ca"/>
<rect x="281.51" y="131.23" width="3.99" height="10.18" fill="#c7c8ca"/>
<rect x="285.21" y="131.23" width="3.99" height="10.18" fill="#c7c8ca"/>
<rect x="288.90" y="131.23" width="3.99" height="10.18" fill="#c7c8ca"/>
<rect x="292.59" y="131.23" width="3.99" height="10.18" fill="#c7c8ca"/>
<rect x="296.28" y="131.23" width="3.99" height="10.18" fill="#4a74c4"/>
<rect x="299.98" y="131.23" width="3.99" height="10.18" fill="#4a74c4"/>
<rect x="303.67" y="131.23" width="3.99" height="10.18" fill="#4a74c4"/>
<rect x="307.36" y="131.23" width="3.99" height="10.18" fill="#4a74c4"/>
<rect x="311.06" y="131.23" width="3.99" height="10.18" fill="#c7c8ca"/>
<rect x="314.75" y="131.23" width="3.99" height="10.18" fill="#c7c8ca"/>
<rect x="318.44" y="131.23" width="3.99" height="10.18" fill="#c7c8ca"/>
<rect x="322.13" y="131.23" width="3.99" height="10.18" fill="#c7c8ca"/>
<rect x="325.83" y="131.23" width="3.99" height="10.18" fill="#c7c8ca"/>
<rect x="329.52" y="131.23" width="3.99" height="10.18" fill="#c7c8ca"/>
<rect x="333.21" y="131.23" width="3.99" height="10.18" fill="#c7c8ca"/>
<rect x="336.90" y="131.23" width="3.99" height="10.18" fill="#4a74c4"/>
<rect x="340.60" y="131.23" width="3.99" height="10.18" fill="#c7c8ca"/>
<rect x="344.29" y="131.23" width="3.99" height="10.18" fill="#c7c8ca"/>
<rect x="347.98" y="131.23" width="3.99" height="10.18" fill="#c7c8ca"/>
<rect x="351.67" y="131.23" width="3.99" height="10.18" fill="#c7c8ca"/>
<rect x="355.37" y="131.23" width="3.99" height="10.18" fill="#c7c8ca"/>
<rect x="359.06" y="131.23" width="3.99" height="10.18" fill="#c7c8ca"/>
<rect x="362.75" y="131.23" width="3.99" height="10.18" fill="#c7c8ca"/>
<rect x="366.44" y="131.23" width="3.99" height="10.18" fill="#c7c8ca"/>
<rect x="370.14" y="131.23" width="3.99" height="10.18" fill="#c7c8ca"/>
<rect x="373.83" y="131.23" width="3.99" height="10.18" fill="#c7c8ca"/>
<rect x="377.52" y="131.23" width="3.99" height="10.18" fill="#c7c8ca"/>
<rect x="381.22" y="131.23" width="3.99" height="10.18" fill="#c7c8ca"/>
<rect x="384.91" y="131.23" width="3.99" height="10.18" fill="#c7c8ca"/>
<rect x="388.60" y="131.23" width="3.99" height="10.18" fill="#c7c8ca"/>
<rect x="392.29" y="131.23" width="3.99" height="10.18" fill="#c7c8ca"/>
<rect x="395.99" y="131.23" width="3.99" height="10.18" fill="#c7c8ca"/>
<rect x="399.68" y="131.23" width="3.99" height="10.18" fill="#c7c8ca"/>
<rect x="403.37" y="131.23" width="3.99" height="10.18" fill="#c7c8ca"/>
<rect x="407.06" y="131.23" width="3.99" height="10.18" fill="#c7c8ca"/>
<rect x="410.76" y="131.23" width="3.99" height="10.18" fill="#c7c8ca"/>
<rect x="414.45" y="131.23" width="3.99" height="10.18" fill="#c7c8ca"/>
<rect x="418.14" y="131.23" width="3.99" height="10.18" fill="#c7c8ca"/>
<rect x="421.83" y="131.23" width="3.99" height="10.18" fill="#c7c8ca"/>
<rect x="425.53" y="131.23" width="3.99" height="10.18" fill="#c7c8ca"/>
<rect x="429.22" y="131.23" width="3.99" height="10.18" fill="#c7c8ca"/>
<rect x="432.91" y="131.23" width="3.99" height="10.18" fill="#c7c8ca"/>
<rect x="436.61" y="131.23" width="3.99" height="10.18" fill="#4a74c4"/>
<rect x="440.30" y="131.23" width="3.99" height="10.18" fill="#4a74c4"/>
<rect x="443.99" y="131.23" width="3.99" height="10.18" fill="#4a74c4"/>
<rect x="447.68" y="131.23" width="3.99" height="10.18" fill="#c7c8ca"/>
<rect x="451.38" y="131.23" width="3.99" height="10.18" fill="#c7c8ca"/>
<rect x="455.07" y="131.23" width="3.99" height="10.18" fill="#c7c8ca"/>
<rect x="458.76" y="131.23" width="3.99" height="10.18" fill="#c7c8ca"/>
<rect x="462.45" y="131.23" width="3.99" height="10.18" fill="#c7c8ca"/>
<rect x="466.15" y="131.23" width="3.99" height="10.18" fill="#c7c8ca"/>
<rect x="469.84" y="131.23" width="3.99" height="10.18" fill="#c7c8ca"/>
<rect x="473.53" y="131.23" width="3.99" height="10.18" fill="#c7c8ca"/>
<rect x="477.22" y="131.23" width="3.99" height="10.18" fill="#c7c8ca"/>
<rect x="480.92" y="131.23" width="3.99" height="10.18" fill="#c7c8ca"/>
<rect x="484.61" y="131.23" width="3.99" height="10.18" fill="#c7c8ca"/>
<rect x="488.30" y="131.23" width="3.99" height="10.18" fill="#c7c8ca"/>
<rect x="492.00" y="131.23" width="3.99" height="10.18" fill="#c7c8ca"/>
<rect x="495.69" y="131.23" width="3.99" height="10.18" fill="#c7c8ca"/>
<rect x="499.38" y="131.23" width="3.99" height="10.18" fill="#c7c8ca"/>
<rect x="503.07" y="131.23" width="3.99" height="10.18" fill="#c7c8ca"/>
<rect x="506.77" y="131.23" width="3.99" height="10.18" fill="#c7c8ca"/>
<rect x="510.46" y="131.23" width="3.99" height="10.18" fill="#c7c8ca"/>
<rect x="514.15" y="131.23" width="3.99" height="10.18" fill="#c7c8ca"/>
<rect x="517.84" y="131.23" width="3.99" height="10.18" fill="#c7c8ca"/>
<rect x="521.54" y="131.23" width="3.99" height="10.18" fill="#c7c8ca"/>
<rect x="525.23" y="131.23" width="3.99" height="10.18" fill="#c7c8ca"/>
<rect x="528.92" y="131.23" width="3.99" height="10.18" fill="#c7c8ca"/>
<rect x="532.61" y="131.23" width="3.99" height="10.18" fill="#c7c8ca"/>
<rect x="536.31" y="131.23" width="3.99" height="10.18" fill="#c7c8ca"/>
<rect x="137.50" y="141.31" width="3.99" height="10.18" fill="#c7c8ca"/>
<rect x="141.19" y="141.31" width="3.99" height="10.18" fill="#c7c8ca"/>
<rect x="144.89" y="141.31" width="3.99" height="10.18" fill="#c7c8ca"/>
<rect x="148.58" y="141.31" width="3.99" height="10.18" fill="#c7c8ca"/>
<rect x="152.27" y="141.31" width="3.99" height="10.18" fill="#c7c8ca"/>
<rect x="155.96" y="141.31" width="3.99" height="10.18" fill="#c7c8ca"/>
<rect x="159.66" y="141.31" width="3.99" height="10.18" fill="#c7c8ca"/>
<rect x="163.35" y="141.31" width="3.99" height="10.18" fill="#c7c8ca"/>
<rect x="167.04" y="141.31" width="3.99" height="10.18" fill="#c7c8ca"/>
<rect x="170.73" y="141.31" width="3.99" height="10.18" fill="#c7c8ca"/>
<rect x="174.43" y="141.31" width="3.99" height="10.18" fill="#c7c8ca"/>
<rect x="178.12" y="141.31" width="3.99" height="10.18" fill="#c7c8ca"/>
<rect x="181.81" y="141.31" width="3.99" height="10.18" fill="#c7c8ca"/>
<rect x="185.50" y="141.31" width="3.99" height="10.18" fill="#c7c8ca"/>
<rect x="189.20" y="141.31" width="3.99" height="10.18" fill="#c7c8ca"/>
<rect x="192.89" y="141.31" width="3.99" height="10.18" fill="#c7c8ca"/>
<rect x="196.58" y="141.31" width="3.99" height="10.18" fill="#c7c8ca"/>
<rect x="200.28" y="141.31" width="3.99" height="10.18" fill="#c7c8ca"/>
<rect x="203.97" y="141.31" width="3.99" height="10.18" fill="#c7c8ca"/>
<rect x="207.66" y="141.31" width="3.99" height="10.18" fill="#c7c8ca"/>
<rect x="211.35" y="141.31" width="3.99" height="10.18" fill="#c7c8ca"/>
<rect x="215.05" y="141.31" width="3.99" height="10.18" fill="#c7c8ca"/>
<rect x="218.74" y="141.31" width="3.99" height="10.18" fill="#c7c8ca"/>
<rect x="222.43" y="141.31" width="3.99" height="10.18" fill="#c7c8ca"/>
<rect x="226.12" y="141.31" width="3.99" height="10.18" fill="#c7c8ca"/>
<rect x="229.82" y="141.31" width="3.99" height="10.18" fill="#c7c8ca"/>
<rect x="233.51" y="141.31" width="3.99" height="10.18" fill="#36893f"/>
<rect x="237.20" y="141.31" width="3.99" height="10.18" fill="#c7c8ca"/>
<rect x="240.89" y="141.31" width="3.99" height="10.18" fill="#c7c8ca"/>
<rect x="244.59" y="141.31" width="3.99" height="10.18" fill="#c7c8ca"/>
<rect x="248.28" y="141.31" width="3.99" height="10.18" fill="#c7c8ca"/>
<rect x="251.97" y="141.31" width="3.99" height="10.18" fill="#c7c8ca"/>
<rect x="255.67" y="141.31" width="3.99" height="10.18" fill="#c7c8ca"/>
<rect x="259.36" y="141.31" width="3.99" height="10.18" fill="#c7c8ca"/>
<rect x="263.05" y="141.31" width="3.99" height="10.18" fill="#c7c8ca"/>
<rect x="266.74" y="141.31" width="3.99" height="10.18" fill="#c7c8ca"/>
<rect x="270.44" y="141.31" width="3.99" height="10.18" fill="#c7c8ca"/>
<rect x="274.13" y="141.31" width="3.99" height="10.18" fill="#c7c8ca"/>
<rect x="277.82" y="141.31" width="3.99" height="10.18" fill="#c7c8ca"/>
<rect x="281.51" y="141.31" width="3.99" height="10.18" fill="#c7c8ca"/>
<rect x="285.21" y="141.31" width="3.99" height="10.18" fill="#c7c8ca"/>
<rect x="288.90" y="141.31" width="3.99" height="10.18" fill="#c7c8ca"/>
<rect x="292.59" y="141.31" width="3.99" height="10.18" fill="#c7c8ca"/>
<rect x="296.28" y="141.31" width="3.99" height="10.18" fill="#c7c8ca"/>
<rect x="299.98" y="141.31" width="3.99" height="10.18" fill="#c7c8ca"/>
<rect x="303.67" y="141.31" width="3.99" height="10.18" fill="#c7c8ca"/>
<rect x="307.36" y="141.31" width="3.99" height="10.18" fill="#c7c8ca"/>
<rect x="311.06" y="141.31" width="3.99" height="10.18" fill="#c7c8ca"/>
<rect x="314.75" y="141.31" width="3.99" height="10.18" fill="#c7c8ca"/>
<rect x="318.44" y="141.31" width="3.99" height="10.18" fill="#c7c8ca"/>
<rect x="322.13" y="141.31" width="3.99" height="10.18" fill="#c7c8ca"/>
<rect x="325.83" y="141.31" width="3.99" height="10.18" fill="#c7c8ca"/>
<rect x="329.52" y="141.31" width="3.99" height="10.18" fill="#c7c8ca"/>
<rect x="333.21" y="141.31" width="3.99" height="10.18" fill="#c7c8ca"/>
<rect x="336.90" y="141.31" width="3.99" height="10.18" fill="#c7c8ca"/>
<rect x="340.60" y="141.31" width="3.99" height="10.18" fill="#c7c8ca"/>
<rect x="344.29" y="141.31" width="3.99" height="10.18" fill="#c7c8ca"/>
<rect x="347.98" y="141.31" width="3.99" height="10.18" fill="#c7c8ca"/>
<rect x="351.67" y="141.31" width="3.99" height="10.18" fill="#c7c8ca"/>
<rect x="355.37" y="141.31" width="3.99" height="10.18" fill="#c7c8ca"/>
<rect x="359.06" y="141.31" width="3.99" height="10.18" fill="#c7c8ca"/>
<rect x="362.75" y="141.31" width="3.99" height="10.18" fill="#c7c8ca"/>
<rect x="366.44" y="141.31" width="3.99" height="10.18" fill="#c7c8ca"/>
<rect x="370.14" y="141.31" width="3.99" height="10.18" fill="#c7c8ca"/>
<rect x="373.83" y="141.31" width="3.99" height="10.18" fill="#c7c8ca"/>
<rect x="377.52" y="141.31" width="3.99" height="10.18" fill="#c7c8ca"/>
<rect x="381.22" y="141.31" width="3.99" height="10.18" fill="#c7c8ca"/>
<rect x="384.91" y="141.31" width="3.99" height="10.18" fill="#c7c8ca"/>
<rect x="388.60" y="141.31" width="3.99" height="10.18" fill="#c7c8ca"/>
<rect x="392.29" y="141.31" width="3.99" height="10.18" fill="#c7c8ca"/>
<rect x="395.99" y="141.31" width="3.99" height="10.18" fill="#c7c8ca"/>
<rect x="399.68" y="141.31" width="3.99" height="10.18" fill="#c7c8ca"/>
<rect x="403.37" y="141.31" width="3.99" height="10.18" fill="#c7c8ca"/>
<rect x="407.06" y="141.31" width="3.99" height="10.18" fill="#c7c8ca"/>
<rect x="410.76" y="141.31" width="3.99" height="10.18" fill="#c7c8ca"/>
<rect x="414.45" y="141.31" width="3.99" height="10.18" fill="#c7c8ca"/>
<rect x="418.14" y="141.31" width="3.99" height="10.18" fill="#c7c8ca"/>
<rect x="421.83" y="141.31" width="3.99" height="10.18" fill="#c7c8ca"/>
<rect x="425.53" y="141.31" width="3.99" height="10.18" fill="#c7c8ca"/>
<rect x="429.22" y="141.31" width="3.99" height="10.18" fill="#c7c8ca"/>
<rect x="432.91" y="141.31" width="3.99" height="10.18" fill="#c7c8ca"/>
<rect x="436.61" y="141.31" width="3.99" height="10.18" fill="#c7c8ca"/>
<rect x="440.30" y="141.31" width="3.99" height="10.18" fill="#c7c8ca"/>
<rect x="443.99" y="141.31" width="3.99" height="10.18" fill="#c7c8ca"/>
<rect x="447.68" y="141.31" width="3.99" height="10.18" fill="#36893f"/>
<rect x="451.38" y="141.31" width="3.99" height="10.18" fill="#f89c2c"/>
<rect x="455.07" y="141.31" width="3.99" height="10.18" fill="#c7c8ca"/>
<rect x="458.76" y="141.31" width="3.99" height="10.18" fill="#c7c8ca"/>
<rect x="462.45" y="141.31" width="3.99" height="10.18" fill="#c7c8ca"/>
<rect x="466.15" y="141.31" width="3.99" height="10.18" fill="#c7c8ca"/>
<rect x="469.84" y="141.31" width="3.99" height="10.18" fill="#c7c8ca"/>
<rect x="473.53" y="141.31" width="3.99" height="10.18" fill="#c7c8ca"/>
<rect x="477.22" y="141.31" width="3.99" height="10.18" fill="#c7c8ca"/>
<rect x="480.92" y="141.31" width="3.99" height="10.18" fill="#c7c8ca"/>
<rect x="484.61" y="141.31" width="3.99" height="10.18" fill="#c7c8ca"/>
<rect x="488.30" y="141.31" width="3.99" height="10.18" fill="#c7c8ca"/>
<rect x="492.00" y="141.31" width="3.99" height="10.18" fill="#c7c8ca"/>
<rect x="495.69" y="141.31" width="3.99" height="10.18" fill="#c7c8ca"/>
<rect x="499.38" y="141.31" width="3.99" height="10.18" fill="#c7c8ca"/>
<rect x="503.07" y="141.31" width="3.99" height="10.18" fill="#c7c8ca"/>
<rect x="506.77" y="141.31" width="3.99" height="10.18" fill="#c7c8ca"/>
<rect x="510.46" y="141.31" width="3.99" height="10.18" fill="#c7c8ca"/>
<rect x="514.15" y="141.31" width="3.99" height="10.18" fill="#c7c8ca"/>
<rect x="517.84" y="141.31" width="3.99" height="10.18" fill="#c7c8ca"/>
<rect x="521.54" y="141.31" width="3.99" height="10.18" fill="#c7c8ca"/>
<rect x="525.23" y="141.31" width="3.99" height="10.18" fill="#c7c8ca"/>
<rect x="528.92" y="141.31" width="3.99" height="10.18" fill="#c7c8ca"/>
<rect x="532.61" y="141.31" width="3.99" height="10.18" fill="#c7c8ca"/>
<rect x="536.31" y="141.31" width="3.99" height="10.18" fill="#c7c8ca"/>
<rect x="137.50" y="151.40" width="3.99" height="10.18" fill="#dcdcdc"/>
<rect x="141.19" y="151.40" width="3.99" height="10.18" fill="#dcdcdc"/>
<rect x="144.89" y="151.40" width="3.99" height="10.18" fill="#dcdcdc"/>
<rect x="148.58" y="151.40" width="3.99" height="10.18" fill="#dcdcdc"/>
<rect x="152.27" y="151.40" width="3.99" height="10.18" fill="#c5a888"/>
<rect x="155.96" y="151.40" width="3.99" height="10.18" fill="#36893f"/>
<rect x="159.66" y="151.40" width="3.99" height="10.18" fill="#dcdcdc"/>
<rect x="163.35" y="151.40" width="3.99" height="10.18" fill="#dcdcdc"/>
<rect x="167.04" y="151.40" width="3.99" height="10.18" fill="#dcdcdc"/>
<rect x="170.73" y="151.40" width="3.99" height="10.18" fill="#dcdcdc"/>
<rect x="174.43" y="151.40" width="3.99" height="10.18" fill="#dcdcdc"/>
<rect x="178.12" y="151.40" width="3.99" height="10.18" fill="#dcdcdc"/>
<rect x="181.81" y="151.40" width="3.99" height="10.18" fill="#dcdcdc"/>
<rect x="185.50" y="151.40" width="3.99" height="10.18" fill="#dcdcdc"/>
<rect x="189.20" y="151.40" width="3.99" height="10.18" fill="#dcdcdc"/>
<rect x="192.89" y="151.40" width="3.99" height="10.18" fill="#dcdcdc"/>
<rect x="196.58" y="151.40" width="3.99" height="10.18" fill="#dcdcdc"/>
<rect x="200.28" y="151.40" width="3.99" height="10.18" fill="#dcdcdc"/>
<rect x="203.97" y="151.40" width="3.99" height="10.18" fill="#dcdcdc"/>
<rect x="207.66" y="151.40" width="3.99" height="10.18" fill="#dcdcdc"/>
<rect x="211.35" y="151.40" width="3.99" height="10.18" fill="#dcdcdc"/>
<rect x="215.05" y="151.40" width="3.99" height="10.18" fill="#dcdcdc"/>
<rect x="218.74" y="151.40" width="3.99" height="10.18" fill="#dcdcdc"/>
<rect x="222.43" y="151.40" width="3.99" height="10.18" fill="#dcdcdc"/>
<rect x="226.12" y="151.40" width="3.99" height="10.18" fill="#dcdcdc"/>
<rect x="229.82" y="151.40" width="3.99" height="10.18" fill="#dcdcdc"/>
<rect x="233.51" y="151.40" width="3.99" height="10.18" fill="#dcdcdc"/>
<rect x="237.20" y="151.40" width="3.99" height="10.18" fill="#f89c2c"/>
<rect x="240.89" y="151.40" width="3.99" height="10.18" fill="#dcdcdc"/>
<rect x="244.59" y="151.40" width="3.99" height="10.18" fill="#dcdcdc"/>
<rect x="248.28" y="151.40" width="3.99" height="10.18" fill="#dcdcdc"/>
<rect x="251.97" y="151.40" width="3.99" height="10.18" fill="#dcdcdc"/>
<rect x="255.67" y="151.40" width="3.99" height="10.18" fill="#dcdcdc"/>
<rect x="259.36" y="151.40" width="3.99" height="10.18" fill="#dcdcdc"/>
<rect x="263.05" y="151.40" width="3.99" height="10.18" fill="#dcdcdc"/>
<rect x="266.74" y="151.40" width="3.99" height="10.18" fill="#dcdcdc"/>
<rect x="270.44" y="151.40" width="3.99" height="10.18" fill="#dcdcdc"/>
<rect x="274.13" y="151.40" width="3.99" height="10.18" fill="#dcdcdc"/>
<rect x="277.82" y="151.40" width="3.99" height="10.18" fill="#dcdcdc"/>
<rect x="281.51" y="151.40" width="3.99" height="10.18" fill="#dcdcdc"/>
<rect x="285.21" y="151.40" width="3.99" height="10.18" fill="#dcdcdc"/>
<rect x="288.90" y="151.40" width="3.99" height="10.18" fill="#dcdcdc"/>
<rect x="292.59" y="151.40" width="3.99" height="10.18" fill="#dcdcdc"/>
<rect x="296.28" y="151.40" width="3.99" height="10.18" fill="#4a74c4"/>
<rect x="299.98" y="151.40" width="3.99" height="10.18" fill="#f89c2c"/>
<rect x="303.67" y="151.40" width="3.99" height="10.18" fill="#dcdcdc"/>
<rect x="307.36" y="151.40" width="3.99" height="10.18" fill="#dcdcdc"/>
<rect x="311.06" y="151.40" width="3.99" height="10.18" fill="#7650a8"/>
<rect x="314.75" y="151.40" width="3.99" height="10.18" fill="#dcdcdc"/>
<rect x="318.44" y="151.40" width="3.99" height="10.18" fill="#dcdcdc"/>
<rect x="322.13" y="151.40" width="3.99" height="10.18" fill="#dcdcdc"/>
<rect x="325.83" y="151.40" width="3.99" height="10.18" fill="#dcdcdc"/>
<rect x="329.52" y="151.40" width="3.99" height="10.18" fill="#f89c2c"/>
<rect x="333.21" y="151.40" width="3.99" height="10.18" fill="#dcdcdc"/>
<rect x="336.90" y="151.40" width="3.99" height="10.18" fill="#dcdcdc"/>
<rect x="340.60" y="151.40" width="3.99" height="10.18" fill="#36893f"/>
<rect x="344.29" y="151.40" width="3.99" height="10.18" fill="#36893f"/>
<rect x="347.98" y="151.40" width="3.99" height="10.18" fill="#dcdcdc"/>
<rect x="351.67" y="151.40" width="3.99" height="10.18" fill="#dcdcdc"/>
<rect x="355.37" y="151.40" width="3.99" height="10.18" fill="#dcdcdc"/>
<rect x="359.06" y="151.40" width="3.99" height="10.18" fill="#dcdcdc"/>
<rect x="362.75" y="151.40" width="3.99" height="10.18" fill="#36893f"/>
<rect x="366.44" y="151.40" width="3.99" height="10.18" fill="#dcdcdc"/>
<rect x="370.14" y="151.40" width="3.99" height="10.18" fill="#dcdcdc"/>
<rect x="373.83" y="151.40" width="3.99" height="10.18" fill="#dcdcdc"/>
<rect x="377.52" y="151.40" width="3.99" height="10.18" fill="#dcdcdc"/>
<rect x="381.22" y="151.40" width="3.99" height="10.18" fill="#dcdcdc"/>
<rect x="384.91" y="151.40" width="3.99" height="10.18" fill="#dcdcdc"/>
<rect x="388.60" y="151.40" width="3.99" height="10.18" fill="#dcdcdc"/>
<rect x="392.29" y="151.40" width="3.99" height="10.18" fill="#dcdcdc"/>
<rect x="395.99" y="151.40" width="3.99" height="10.18" fill="#dcdcdc"/>
<rect x="399.68" y="151.40" width="3.99" height="10.18" fill="#f89c2c"/>
<rect x="403.37" y="151.40" width="3.99" height="10.18" fill="#dcdcdc"/>
<rect x="407.06" y="151.40" width="3.99" height="10.18" fill="#dcdcdc"/>
<rect x="410.76" y="151.40" width="3.99" height="10.18" fill="#dcdcdc"/>
<rect x="414.45" y="151.40" width="3.99" height="10.18" fill="#dcdcdc"/>
<rect x="418.14" y="151.40" width="3.99" height="10.18" fill="#dcdcdc"/>
<rect x="421.83" y="151.40" width="3.99" height="10.18" fill="#dcdcdc"/>
<rect x="425.53" y="151.40" width="3.99" height="10.18" fill="#dcdcdc"/>
<rect x="429.22" y="151.40" width="3.99" height="10.18" fill="#dcdcdc"/>
<rect x="432.91" y="151.40" width="3.99" height="10.18" fill="#dcdcdc"/>
<rect x="436.61" y="151.40" width="3.99" height="10.18" fill="#c5a888"/>
<rect x="440.30" y="151.40" width="3.99" height="10.18" fill="#dcdcdc"/>
<rect x="443.99" y="151.40" width="3.99" height="10.18" fill="#dcdcdc"/>
<rect x="447.68" y="151.40" width="3.99" height="10.18" fill="#dcdcdc"/>
<rect x="451.38" y="151.40" width="3.99" height="10.18" fill="#dcdcdc"/>
<rect x="455.07" y="151.40" width="3.99" height="10.18" fill="#36893f"/>
<rect x="458.76" y="151.40" width="3.99" height="10.18" fill="#dcdcdc"/>
<rect x="462.45" y="151.40" width="3.99" height="10.18" fill="#dcdcdc"/>
<rect x="466.15" y="151.40" width="3.99" height="10.18" fill="#dcdcdc"/>
<rect x="469.84" y="151.40" width="3.99" height="10.18" fill="#dcdcdc"/>
<rect x="473.53" y="151.40" width="3.99" height="10.18" fill="#dcdcdc"/>
<rect x="477.22" y="151.40" width="3.99" height="10.18" fill="#dcdcdc"/>
<rect x="480.92" y="151.40" width="3.99" height="10.18" fill="#dcdcdc"/>
<rect x="484.61" y="151.40" width="3.99" height="10.18" fill="#dcdcdc"/>
<rect x="488.30" y="151.40" width="3.99" height="10.18" fill="#dcdcdc"/>
<rect x="492.00" y="151.40" width="3.99" height="10.18" fill="#dcdcdc"/>
<rect x="495.69" y="151.40" width="3.99" height="10.18" fill="#dcdcdc"/>
<rect x="499.38" y="151.40" width="3.99" height="10.18" fill="#dcdcdc"/>
<rect x="503.07" y="151.40" width="3.99" height="10.18" fill="#dcdcdc"/>
<rect x="506.77" y="151.40" width="3.99" height="10.18" fill="#dcdcdc"/>
<rect x="510.46" y="151.40" width="3.99" height="10.18" fill="#dcdcdc"/>
<rect x="514.15" y="151.40" width="3.99" height="10.18" fill="#dcdcdc"/>
<rect x="517.84" y="151.40" width="3.99" height="10.18" fill="#dcdcdc"/>
<rect x="521.54" y="151.40" width="3.99" height="10.18" fill="#dcdcdc"/>
<rect x="525.23" y="151.40" width="3.99" height="10.18" fill="#dcdcdc"/>
<rect x="528.92" y="151.40" width="3.99" height="10.18" fill="#dcdcdc"/>
<rect x="532.61" y="151.40" width="3.99" height="10.18" fill="#dcdcdc"/>
<rect x="536.31" y="151.40" width="3.99" height="10.18" fill="#dcdcdc"/>
<rect x="137.50" y="161.48" width="3.99" height="10.18" fill="#dcdcdc"/>
<rect x="141.19" y="161.48" width="3.99" height="10.18" fill="#4a74c4"/>
<rect x="144.89" y="161.48" width="3.99" height="10.18" fill="#dcdcdc"/>
<rect x="148.58" y="161.48" width="3.99" height="10.18" fill="#dcdcdc"/>
<rect x="152.27" y="161.48" width="3.99" height="10.18" fill="#dcdcdc"/>
<rect x="155.96" y="161.48" width="3.99" height="10.18" fill="#dcdcdc"/>
<rect x="159.66" y="161.48" width="3.99" height="10.18" fill="#4a74c4"/>
<rect x="163.35" y="161.48" width="3.99" height="10.18" fill="#f89c2c"/>
<rect x="167.04" y="161.48" width="3.99" height="10.18" fill="#36893f"/>
<rect x="170.73" y="161.48" width="3.99" height="10.18" fill="#4a74c4"/>
<rect x="174.43" y="161.48" width="3.99" height="10.18" fill="#dcdcdc"/>
<rect x="178.12" y="161.48" width="3.99" height="10.18" fill="#dcdcdc"/>
<rect x="181.81" y="161.48" width="3.99" height="10.18" fill="#dcdcdc"/>
<rect x="185.50" y="161.48" width="3.99" height="10.18" fill="#dcdcdc"/>
<rect x="189.20" y="161.48" width="3.99" height="10.18" fill="#dcdcdc"/>
<rect x="192.89" y="161.48" width="3.99" height="10.18" fill="#dcdcdc"/>
<rect x="196.58" y="161.48" width="3.99" height="10.18" fill="#dcdcdc"/>
<rect x="200.28" y="161.48" width="3.99" height="10.18" fill="#dcdcdc"/>
<rect x="203.97" y="161.48" width="3.99" height="10.18" fill="#dcdcdc"/>
<rect x="207.66" y="161.48" width="3.99" height="10.18" fill="#dcdcdc"/>
<rect x="211.35" y="161.48" width="3.99" height="10.18" fill="#dcdcdc"/>
<rect x="215.05" y="161.48" width="3.99" height="10.18" fill="#dcdcdc"/>
<rect x="218.74" y="161.48" width="3.99" height="10.18" fill="#dcdcdc"/>
<rect x="222.43" y="161.48" width="3.99" height="10.18" fill="#dcdcdc"/>
<rect x="226.12" y="161.48" width="3.99" height="10.18" fill="#dcdcdc"/>
<rect x="229.82" y="161.48" width="3.99" height="10.18" fill="#dcdcdc"/>
<rect x="233.51" y="161.48" width="3.99" height="10.18" fill="#dcdcdc"/>
<rect x="237.20" y="161.48" width="3.99" height="10.18" fill="#7650a8"/>
<rect x="240.89" y="161.48" width="3.99" height="10.18" fill="#4a74c4"/>
<rect x="244.59" y="161.48" width="3.99" height="10.18" fill="#dcdcdc"/>
<rect x="248.28" y="161.48" width="3.99" height="10.18" fill="#dcdcdc"/>
<rect x="251.97" y="161.48" width="3.99" height="10.18" fill="#dcdcdc"/>
<rect x="255.67" y="161.48" width="3.99" height="10.18" fill="#dcdcdc"/>
<rect x="259.36" y="161.48" width="3.99" height="10.18" fill="#dcdcdc"/>
<rect x="263.05" y="161.48" width="3.99" height="10.18" fill="#4a74c4"/>
<rect x="266.74" y="161.48" width="3.99" height="10.18" fill="#dcdcdc"/>
<rect x="270.44" y="161.48" width="3.99" height="10.18" fill="#dcdcdc"/>
<rect x="274.13" y="161.48" width="3.99" height="10.18" fill="#4a74c4"/>
<rect x="277.82" y="161.48" width="3.99" height="10.18" fill="#dcdcdc"/>
<rect x="281.51" y="161.48" width="3.99" height="10.18" fill="#dcdcdc"/>
<rect x="285.21" y="161.48" width="3.99" height="10.18" fill="#dcdcdc"/>
<rect x="288.90" y="161.48" width="3.99" height="10.18" fill="#dcdcdc"/>
<rect x="292.59" y="161.48" width="3.99" height="10.18" fill="#dcdcdc"/>
<rect x="296.28" y="161.48" width="3.99" height="10.18" fill="#36893f"/>
<rect x="299.98" y="161.48" width="3.99" height="10.18" fill="#dcdcdc"/>
<rect x="303.67" y="161.48" width="3.99" height="10.18" fill="#dcdcdc"/>
<rect x="307.36" y="161.48" width="3.99" height="10.18" fill="#dcdcdc"/>
<rect x="311.06" y="161.48" width="3.99" height="10.18" fill="#dcdcdc"/>
<rect x="314.75" y="161.48" width="3.99" height="10.18" fill="#dcdcdc"/>
<rect x="318.44" y="161.48" width="3.99" height="10.18" fill="#dcdcdc"/>
<rect x="322.13" y="161.48" width="3.99" height="10.18" fill="#dcdcdc"/>
<rect x="325.83" y="161.48" width="3.99" height="10.18" fill="#dcdcdc"/>
<rect x="329.52" y="161.48" width="3.99" height="10.18" fill="#dcdcdc"/>
<rect x="333.21" y="161.48" width="3.99" height="10.18" fill="#dcdcdc"/>
<rect x="336.90" y="161.48" width="3.99" height="10.18" fill="#dcdcdc"/>
<rect x="340.60" y="161.48" width="3.99" height="10.18" fill="#4a74c4"/>
<rect x="344.29" y="161.48" width="3.99" height="10.18" fill="#dcdcdc"/>
<rect x="347.98" y="161.48" width="3.99" height="10.18" fill="#dcdcdc"/>
<rect x="351.67" y="161.48" width="3.99" height="10.18" fill="#dcdcdc"/>
<rect x="355.37" y="161.48" width="3.99" height="10.18" fill="#dcdcdc"/>
<rect x="359.06" y="161.48" width="3.99" height="10.18" fill="#dcdcdc"/>
<rect x="362.75" y="161.48" width="3.99" height="10.18" fill="#dcdcdc"/>
<rect x="366.44" y="161.48" width="3.99" height="10.18" fill="#dcdcdc"/>
<rect x="370.14" y="161.48" width="3.99" height="10.18" fill="#dcdcdc"/>
<rect x="373.83" y="161.48" width="3.99" height="10.18" fill="#dcdcdc"/>
<rect x="377.52" y="161.48" width="3.99" height="10.18" fill="#dcdcdc"/>
<rect x="381.22" y="161.48" width="3.99" height="10.18" fill="#dcdcdc"/>
<rect x="384.91" y="161.48" width="3.99" height="10.18" fill="#dcdcdc"/>
<rect x="388.60" y="161.48" width="3.99" height="10.18" fill="#dcdcdc"/>
<rect x="392.29" y="161.48" width="3.99" height="10.18" fill="#dcdcdc"/>
<rect x="395.99" y="161.48" width="3.99" height="10.18" fill="#dcdcdc"/>
<rect x="399.68" y="161.48" width="3.99" height="10.18" fill="#dcdcdc"/>
<rect x="403.37" y="161.48" width="3.99" height="10.18" fill="#dcdcdc"/>
<rect x="407.06" y="161.48" width="3.99" height="10.18" fill="#dcdcdc"/>
<rect x="410.76" y="161.48" width="3.99" height="10.18" fill="#dcdcdc"/>
<rect x="414.45" y="161.48" width="3.99" height="10.18" fill="#dcdcdc"/>
<rect x="418.14" y="161.48" width="3.99" height="10.18" fill="#dcdcdc"/>
<rect x="421.83" y="161.48" width="3.99" height="10.18" fill="#dcdcdc"/>
<rect x="425.53" y="161.48" width="3.99" height="10.18" fill="#dcdcdc"/>
<rect x="429.22" y="161.48" width="3.99" height="10.18" fill="#dcdcdc"/>
<rect x="432.91" y="161.48" width="3.99" height="10.18" fill="#dcdcdc"/>
<rect x="436.61" y="161.48" width="3.99" height="10.18" fill="#dcdcdc"/>
<rect x="440.30" y="161.48" width="3.99" height="10.18" fill="#dcdcdc"/>
<rect x="443.99" y="161.48" width="3.99" height="10.18" fill="#dcdcdc"/>
<rect x="447.68" y="161.48" width="3.99" height="10.18" fill="#dcdcdc"/>
<rect x="451.38" y="161.48" width="3.99" height="10.18" fill="#dcdcdc"/>
<rect x="455.07" y="161.48" width="3.99" height="10.18" fill="#dcdcdc"/>
<rect x="458.76" y="161.48" width="3.99" height="10.18" fill="#dcdcdc"/>
<rect x="462.45" y="161.48" width="3.99" height="10.18" fill="#dcdcdc"/>
<rect x="466.15" y="161.48" width="3.99" height="10.18" fill="#dcdcdc"/>
<rect x="469.84" y="161.48" width="3.99" height="10.18" fill="#dcdcdc"/>
<rect x="473.53" y="161.48" width="3.99" height="10.18" fill="#dcdcdc"/>
<rect x="477.22" y="161.48" width="3.99" height="10.18" fill="#dcdcdc"/>
<rect x="480.92" y="161.48" width="3.99" height="10.18" fill="#dcdcdc"/>
<rect x="484.61" y="161.48" width="3.99" height="10.18" fill="#dcdcdc"/>
<rect x="488.30" y="161.48" width="3.99" height="10.18" fill="#dcdcdc"/>
<rect x="492.00" y="161.48" width="3.99" height="10.18" fill="#dcdcdc"/>
<rect x="495.69" y="161.48" width="3.99" height="10.18" fill="#dcdcdc"/>
<rect x="499.38" y="161.48" width="3.99" height="10.18" fill="#dcdcdc"/>
<rect x="503.07" y="161.48" width="3.99" height="10.18" fill="#dcdcdc"/>
<rect x="506.77" y="161.48" width="3.99" height="10.18" fill="#dcdcdc"/>
<rect x="510.46" y="161.48" width="3.99" height="10.18" fill="#dcdcdc"/>
<rect x="514.15" y="161.48" width="3.99" height="10.18" fill="#dcdcdc"/>
<rect x="517.84" y="161.48" width="3.99" height="10.18" fill="#dcdcdc"/>
<rect x="521.54" y="161.48" width="3.99" height="10.18" fill="#dcdcdc"/>
<rect x="525.23" y="161.48" width="3.99" height="10.18" fill="#dcdcdc"/>
<rect x="528.92" y="161.48" width="3.99" height="10.18" fill="#dcdcdc"/>
<rect x="532.61" y="161.48" width="3.99" height="10.18" fill="#dcdcdc"/>
<rect x="536.31" y="161.48" width="3.99" height="10.18" fill="#dcdcdc"/>
<rect x="137.50" y="171.56" width="3.99" height="10.18" fill="#dcdcdc"/>
<rect x="141.19" y="171.56" width="3.99" height="10.18" fill="#dcdcdc"/>
<rect x="144.89" y="171.56" width="3.99" height="10.18" fill="#dcdcdc"/>
<rect x="148.58" y="171.56" width="3.99" height="10.18" fill="#dcdcdc"/>
<rect x="152.27" y="171.56" width="3.99" height="10.18" fill="#f89c2c"/>
<rect x="155.96" y="171.56" width="3.99" height="10.18" fill="#dcdcdc"/>
<rect x="159.66" y="171.56" width="3.99" height="10.18" fill="#36893f"/>
<rect x="163.35" y="171.56" width="3.99" height="10.18" fill="#f89c2c"/>
<rect x="167.04" y="171.56" width="3.99" height="10.18" fill="#dcdcdc"/>
<rect x="170.73" y="171.56" width="3.99" height="10.18" fill="#dcdcdc"/>
<rect x="174.43" y="171.56" width="3.99" height="10.18" fill="#36893f"/>
<rect x="178.12" y="171.56" width="3.99" height="10.18" fill="#dcdcdc"/>
<rect x="181.81" y="171.56" width="3.99" height="10.18" fill="#dcdcdc"/>
<rect x="185.50" y="171.56" width="3.99" height="10.18" fill="#dcdcdc"/>
<rect x="189.20" y="171.56" width="3.99" height="10.18" fill="#dcdcdc"/>
<rect x="192.89" y="171.56" width="3.99" height="10.18" fill="#dcdcdc"/>
<rect x="196.58" y="171.56" width="3.99" height="10.18" fill="#dcdcdc"/>
<rect x="200.28" y="171.56" width="3.99" height="10.18" fill="#dcdcdc"/>
<rect x="203.97" y="171.56" width="3.99" height="10.18" fill="#dcdcdc"/>
<rect x="207.66" y="171.56" width="3.99" height="10.18" fill="#dcdcdc"/>
<rect x="211.35" y="171.56" width="3.99" height="10.18" fill="#dcdcdc"/>
<rect x="215.05" y="171.56" width="3.99" height="10.18" fill="#dcdcdc"/>
<rect x="218.74" y="171.56" width="3.99" height="10.18" fill="#dcdcdc"/>
<rect x="222.43" y="171.56" width="3.99" height="10.18" fill="#dcdcdc"/>
<rect x="226.12" y="171.56" width="3.99" height="10.18" fill="#dcdcdc"/>
<rect x="229.82" y="171.56" width="3.99" height="10.18" fill="#dcdcdc"/>
<rect x="233.51" y="171.56" width="3.99" height="10.18" fill="#dcdcdc"/>
<rect x="237.20" y="171.56" width="3.99" height="10.18" fill="#dcdcdc"/>
<rect x="240.89" y="171.56" width="3.99" height="10.18" fill="#dcdcdc"/>
<rect x="244.59" y="171.56" width="3.99" height="10.18" fill="#36893f"/>
<rect x="248.28" y="171.56" width="3.99" height="10.18" fill="#dcdcdc"/>
<rect x="251.97" y="171.56" width="3.99" height="10.18" fill="#dcdcdc"/>
<rect x="255.67" y="171.56" width="3.99" height="10.18" fill="#dcdcdc"/>
<rect x="259.36" y="171.56" width="3.99" height="10.18" fill="#dcdcdc"/>
<rect x="263.05" y="171.56" width="3.99" height="10.18" fill="#dcdcdc"/>
<rect x="266.74" y="171.56" width="3.99" height="10.18" fill="#dcdcdc"/>
<rect x="270.44" y="171.56" width="3.99" height="10.18" fill="#dcdcdc"/>
<rect x="274.13" y="171.56" width="3.99" height="10.18" fill="#dcdcdc"/>
<rect x="277.82" y="171.56" width="3.99" height="10.18" fill="#dcdcdc"/>
<rect x="281.51" y="171.56" width="3.99" height="10.18" fill="#dcdcdc"/>
<rect x="285.21" y="171.56" width="3.99" height="10.18" fill="#dcdcdc"/>
<rect x="288.90" y="171.56" width="3.99" height="10.18" fill="#dcdcdc"/>
<rect x="292.59" y="171.56" width="3.99" height="10.18" fill="#dcdcdc"/>
<rect x="296.28" y="171.56" width="3.99" height="10.18" fill="#dcdcdc"/>
<rect x="299.98" y="171.56" width="3.99" height="10.18" fill="#dcdcdc"/>
<rect x="303.67" y="171.56" width="3.99" height="10.18" fill="#dcdcdc"/>
<rect x="307.36" y="171.56" width="3.99" height="10.18" fill="#dcdcdc"/>
<rect x="311.06" y="171.56" width="3.99" height="10.18" fill="#f89c2c"/>
<rect x="314.75" y="171.56" width="3.99" height="10.18" fill="#dcdcdc"/>
<rect x="318.44" y="171.56" width="3.99" height="10.18" fill="#dcdcdc"/>
<rect x="322.13" y="171.56" width="3.99" height="10.18" fill="#dcdcdc"/>
<rect x="325.83" y="171.56" width="3.99" height="10.18" fill="#dcdcdc"/>
<rect x="329.52" y="171.56" width="3.99" height="10.18" fill="#dcdcdc"/>
<rect x="333.21" y="171.56" width="3.99" height="10.18" fill="#36893f"/>
<rect x="336.90" y="171.56" width="3.99" height="10.18" fill="#dcdcdc"/>
<rect x="340.60" y="171.56" width="3.99" height="10.18" fill="#dcdcdc"/>
<rect x="344.29" y="171.56" width="3.99" height="10.18" fill="#dcdcdc"/>
<rect x="347.98" y="171.56" width="3.99" height="10.18" fill="#f89c2c"/>
<rect x="351.67" y="171.56" width="3.99" height="10.18" fill="#dcdcdc"/>
<rect x="355.37" y="171.56" width="3.99" height="10.18" fill="#dcdcdc"/>
<rect x="359.06" y="171.56" width="3.99" height="10.18" fill="#dcdcdc"/>
<rect x="362.75" y="171.56" width="3.99" height="10.18" fill="#dcdcdc"/>
<rect x="366.44" y="171.56" width="3.99" height="10.18" fill="#dcdcdc"/>
<rect x="370.14" y="171.56" width="3.99" height="10.18" fill="#dcdcdc"/>
<rect x="373.83" y="171.56" width="3.99" height="10.18" fill="#dcdcdc"/>
<rect x="377.52" y="171.56" width="3.99" height="10.18" fill="#dcdcdc"/>
<rect x="381.22" y="171.56" width="3.99" height="10.18" fill="#dcdcdc"/>
<rect x="384.91" y="171.56" width="3.99" height="10.18" fill="#dcdcdc"/>
<rect x="388.60" y="171.56" width="3.99" height="10.18" fill="#dcdcdc"/>
<rect x="392.29" y="171.56" width="3.99" height="10.18" fill="#dcdcdc"/>
<rect x="395.99" y="171.56" width="3.99" height="10.18" fill="#dcdcdc"/>
<rect x="399.68" y="171.56" width="3.99" height="10.18" fill="#dcdcdc"/>
<rect x="403.37" y="171.56" width="3.99" height="10.18" fill="#dcdcdc"/>
<rect x="407.06" y="171.56" width="3.99" height="10.18" fill="#dcdcdc"/>
<rect x="410.76" y="171.56" width="3.99" height="10.18" fill="#dcdcdc"/>
<rect x="414.45" y="171.56" width="3.99" height="10.18" fill="#dcdcdc"/>
<rect x="418.14" y="171.56" width="3.99" height="10.18" fill="#dcdcdc"/>
<rect x="421.83" y="171.56" width="3.99" height="10.18" fill="#dcdcdc"/>
<rect x="425.53" y="171.56" width="3.99" height="10.18" fill="#dcdcdc"/>
<rect x="429.22" y="171.56" width="3.99" height="10.18" fill="#dcdcdc"/>
<rect x="432.91" y="171.56" width="3.99" height="10.18" fill="#dcdcdc"/>
<rect x="436.61" y="171.56" width="3.99" height="10.18" fill="#dcdcdc"/>
<rect x="440.30" y="171.56" width="3.99" height="10.18" fill="#dcdcdc"/>
<rect x="443.99" y="171.56" width="3.99" height="10.18" fill="#dcdcdc"/>
<rect x="447.68" y="171.56" width="3.99" height="10.18" fill="#dcdcdc"/>
<rect x="451.38" y="171.56" width="3.99" height="10.18" fill="#dcdcdc"/>
<rect x="455.07" y="171.56" width="3.99" height="10.18" fill="#dcdcdc"/>
<rect x="458.76" y="171.56" width="3.99" height="10.18" fill="#4a74c4"/>
<rect x="462.45" y="171.56" width="3.99" height="10.18" fill="#dcdcdc"/>
<rect x="466.15" y="171.56" width="3.99" height="10.18" fill="#dcdcdc"/>
<rect x="469.84" y="171.56" width="3.99" height="10.18" fill="#dcdcdc"/>
<rect x="473.53" y="171.56" width="3.99" height="10.18" fill="#dcdcdc"/>
<rect x="477.22" y="171.56" width="3.99" height="10.18" fill="#dcdcdc"/>
<rect x="480.92" y="171.56" width="3.99" height="10.18" fill="#dcdcdc"/>
<rect x="484.61" y="171.56" width="3.99" height="10.18" fill="#dcdcdc"/>
<rect x="488.30" y="171.56" width="3.99" height="10.18" fill="#dcdcdc"/>
<rect x="492.00" y="171.56" width="3.99" height="10.18" fill="#dcdcdc"/>
<rect x="495.69" y="171.56" width="3.99" height="10.18" fill="#dcdcdc"/>
<rect x="499.38" y="171.56" width="3.99" height="10.18" fill="#dcdcdc"/>
<rect x="503.07" y="171.56" width="3.99" height="10.18" fill="#dcdcdc"/>
<rect x="506.77" y="171.56" width="3.99" height="10.18" fill="#dcdcdc"/>
<rect x="510.46" y="171.56" width="3.99" height="10.18" fill="#dcdcdc"/>
<rect x="514.15" y="171.56" width="3.99" height="10.18" fill="#dcdcdc"/>
<rect x="517.84" y="171.56" width="3.99" height="10.18" fill="#dcdcdc"/>
<rect x="521.54" y="171.56" width="3.99" height="10.18" fill="#dcdcdc"/>
<rect x="525.23" y="171.56" width="3.99" height="10.18" fill="#dcdcdc"/>
<rect x="528.92" y="171.56" width="3.99" height="10.18" fill="#dcdcdc"/>
<rect x="532.61" y="171.56" width="3.99" height="10.18" fill="#dcdcdc"/>
<rect x="536.31" y="171.56" width="3.99" height="10.18" fill="#dcdcdc"/>
<rect x="137.50" y="181.65" width="3.99" height="10.18" fill="#dcdcdc"/>
<rect x="141.19" y="181.65" width="3.99" height="10.18" fill="#dcdcdc"/>
<rect x="144.89" y="181.65" width="3.99" height="10.18" fill="#dcdcdc"/>
<rect x="148.58" y="181.65" width="3.99" height="10.18" fill="#dcdcdc"/>
<rect x="152.27" y="181.65" width="3.99" height="10.18" fill="#dcdcdc"/>
<rect x="155.96" y="181.65" width="3.99" height="10.18" fill="#dcdcdc"/>
<rect x="159.66" y="181.65" width="3.99" height="10.18" fill="#36893f"/>
<rect x="163.35" y="181.65" width="3.99" height="10.18" fill="#dcdcdc"/>
<rect x="167.04" y="181.65" width="3.99" height="10.18" fill="#dcdcdc"/>
<rect x="170.73" y="181.65" width="3.99" height="10.18" fill="#dcdcdc"/>
<rect x="174.43" y="181.65" width="3.99" height="10.18" fill="#36893f"/>
<rect x="178.12" y="181.65" width="3.99" height="10.18" fill="#36893f"/>
<rect x="181.81" y="181.65" width="3.99" height="10.18" fill="#dcdcdc"/>
<rect x="185.50" y="181.65" width="3.99" height="10.18" fill="#dcdcdc"/>
<rect x="189.20" y="181.65" width="3.99" height="10.18" fill="#dcdcdc"/>
<rect x="192.89" y="181.65" width="3.99" height="10.18" fill="#dcdcdc"/>
<rect x="196.58" y="181.65" width="3.99" height="10.18" fill="#dcdcdc"/>
<rect x="200.28" y="181.65" width="3.99" height="10.18" fill="#dcdcdc"/>
<rect x="203.97" y="181.65" width="3.99" height="10.18" fill="#dcdcdc"/>
<rect x="207.66" y="181.65" width="3.99" height="10.18" fill="#dcdcdc"/>
<rect x="211.35" y="181.65" width="3.99" height="10.18" fill="#dcdcdc"/>
<rect x="215.05" y="181.65" width="3.99" height="10.18" fill="#dcdcdc"/>
<rect x="218.74" y="181.65" width="3.99" height="10.18" fill="#dcdcdc"/>
<rect x="222.43" y="181.65" width="3.99" height="10.18" fill="#dcdcdc"/>
<rect x="226.12" y="181.65" width="3.99" height="10.18" fill="#dcdcdc"/>
<rect x="229.82" y="181.65" width="3.99" height="10.18" fill="#dcdcdc"/>
<rect x="233.51" y="181.65" width="3.99" height="10.18" fill="#dcdcdc"/>
<rect x="237.20" y="181.65" width="3.99" height="10.18" fill="#dcdcdc"/>
<rect x="240.89" y="181.65" width="3.99" height="10.18" fill="#dcdcdc"/>
<rect x="244.59" y="181.65" width="3.99" height="10.18" fill="#dcdcdc"/>
<rect x="248.28" y="181.65" width="3.99" height="10.18" fill="#36893f"/>
<rect x="251.97" y="181.65" width="3.99" height="10.18" fill="#dcdcdc"/>
<rect x="255.67" y="181.65" width="3.99" height="10.18" fill="#dcdcdc"/>
<rect x="259.36" y="181.65" width="3.99" height="10.18" fill="#dcdcdc"/>
<rect x="263.05" y="181.65" width="3.99" height="10.18" fill="#dcdcdc"/>
<rect x="266.74" y="181.65" width="3.99" height="10.18" fill="#dcdcdc"/>
<rect x="270.44" y="181.65" width="3.99" height="10.18" fill="#dcdcdc"/>
<rect x="274.13" y="181.65" width="3.99" height="10.18" fill="#dcdcdc"/>
<rect x="277.82" y="181.65" width="3.99" height="10.18" fill="#f89c2c"/>
<rect x="281.51" y="181.65" width="3.99" height="10.18" fill="#dcdcdc"/>
<rect x="285.21" y="181.65" width="3.99" height="10.18" fill="#dcdcdc"/>
<rect x="288.90" y="181.65" width="3.99" height="10.18" fill="#dcdcdc"/>
<rect x="292.59" y="181.65" width="3.99" height="10.18" fill="#dcdcdc"/>
<rect x="296.28" y="181.65" width="3.99" height="10.18" fill="#dcdcdc"/>
<rect x="299.98" y="181.65" width="3.99" height="10.18" fill="#dcdcdc"/>
<rect x="303.67" y="181.65" width="3.99" height="10.18" fill="#dcdcdc"/>
<rect x="307.36" y="181.65" width="3.99" height="10.18" fill="#dcdcdc"/>
<rect x="311.06" y="181.65" width="3.99" height="10.18" fill="#36893f"/>
<rect x="314.75" y="181.65" width="3.99" height="10.18" fill="#dcdcdc"/>
<rect x="318.44" y="181.65" width="3.99" height="10.18" fill="#dcdcdc"/>
<rect x="322.13" y="181.65" width="3.99" height="10.18" fill="#dcdcdc"/>
<rect x="325.83" y="181.65" width="3.99" height="10.18" fill="#dcdcdc"/>
<rect x="329.52" y="181.65" width="3.99" height="10.18" fill="#dcdcdc"/>
<rect x="333.21" y="181.65" width="3.99" height="10.18" fill="#dcdcdc"/>
<rect x="336.90" y="181.65" width="3.99" height="10.18" fill="#dcdcdc"/>
<rect x="340.60" y="181.65" width="3.99" height="10.18" fill="#dcdcdc"/>
<rect x="344.29" y="181.65" width="3.99" height="10.18" fill="#dcdcdc"/>
<rect x="347.98" y="181.65" width="3.99" height="10.18" fill="#dcdcdc"/>
<rect x="351.67" y="181.65" width="3.99" height="10.18" fill="#dcdcdc"/>
<rect x="355.37" y="181.65" width="3.99" height="10.18" fill="#dcdcdc"/>
<rect x="359.06" y="181.65" width="3.99" height="10.18" fill="#dcdcdc"/>
<rect x="362.75" y="181.65" width="3.99" height="10.18" fill="#dcdcdc"/>
<rect x="366.44" y="181.65" width="3.99" height="10.18" fill="#dcdcdc"/>
<rect x="370.14" y="181.65" width="3.99" height="10.18" fill="#dcdcdc"/>
<rect x="373.83" y="181.65" width="3.99" height="10.18" fill="#dcdcdc"/>
<rect x="377.52" y="181.65" width="3.99" height="10.18" fill="#dcdcdc"/>
<rect x="381.22" y="181.65" width="3.99" height="10.18" fill="#dcdcdc"/>
<rect x="384.91" y="181.65" width="3.99" height="10.18" fill="#dcdcdc"/>
<rect x="388.60" y="181.65" width="3.99" height="10.18" fill="#dcdcdc"/>
<rect x="392.29" y="181.65" width="3.99" height="10.18" fill="#dcdcdc"/>
<rect x="395.99" y="181.65" width="3.99" height="10.18" fill="#dcdcdc"/>
<rect x="399.68" y="181.65" width="3.99" height="10.18" fill="#dcdcdc"/>
<rect x="403.37" y="181.65" width="3.99" height="10.18" fill="#dcdcdc"/>
<rect x="407.06" y="181.65" width="3.99" height="10.18" fill="#dcdcdc"/>
<rect x="410.76" y="181.65" width="3.99" height="10.18" fill="#dcdcdc"/>
<rect x="414.45" y="181.65" width="3.99" height="10.18" fill="#dcdcdc"/>
<rect x="418.14" y="181.65" width="3.99" height="10.18" fill="#dcdcdc"/>
<rect x="421.83" y="181.65" width="3.99" height="10.18" fill="#dcdcdc"/>
<rect x="425.53" y="181.65" width="3.99" height="10.18" fill="#dcdcdc"/>
<rect x="429.22" y="181.65" width="3.99" height="10.18" fill="#dcdcdc"/>
<rect x="432.91" y="181.65" width="3.99" height="10.18" fill="#dcdcdc"/>
<rect x="436.61" y="181.65" width="3.99" height="10.18" fill="#dcdcdc"/>
<rect x="440.30" y="181.65" width="3.99" height="10.18" fill="#dcdcdc"/>
<rect x="443.99" y="181.65" width="3.99" height="10.18" fill="#dcdcdc"/>
<rect x="447.68" y="181.65" width="3.99" height="10.18" fill="#dcdcdc"/>
<rect x="451.38" y="181.65" width="3.99" height="10.18" fill="#dcdcdc"/>
<rect x="455.07" y="181.65" width="3.99" height="10.18" fill="#dcdcdc"/>
<rect x="458.76" y="181.65" width="3.99" height="10.18" fill="#dcdcdc"/>
<rect x="462.45" y="181.65" width="3.99" height="10.18" fill="#36893f"/>
<rect x="466.15" y="181.65" width="3.99" height="10.18" fill="#dcdcdc"/>
<rect x="469.84" y="181.65" width="3.99" height="10.18" fill="#dcdcdc"/>
<rect x="473.53" y="181.65" width="3.99" height="10.18" fill="#dcdcdc"/>
<rect x="477.22" y="181.65" width="3.99" height="10.18" fill="#dcdcdc"/>
<rect x="480.92" y="181.65" width="3.99" height="10.18" fill="#dcdcdc"/>
<rect x="484.61" y="181.65" width="3.99" height="10.18" fill="#dcdcdc"/>
<rect x="488.30" y="181.65" width="3.99" height="10.18" fill="#dcdcdc"/>
<rect x="492.00" y="181.65" width="3.99" height="10.18" fill="#dcdcdc"/>
<rect x="495.69" y="181.65" width="3.99" height="10.18" fill="#dcdcdc"/>
<rect x="499.38" y="181.65" width="3.99" height="10.18" fill="#dcdcdc"/>
<rect x="503.07" y="181.65" width="3.99" height="10.18" fill="#dcdcdc"/>
<rect x="506.77" y="181.65" width="3.99" height="10.18" fill="#dcdcdc"/>
<rect x="510.46" y="181.65" width="3.99" height="10.18" fill="#dcdcdc"/>
<rect x="514.15" y="181.65" width="3.99" height="10.18" fill="#dcdcdc"/>
<rect x="517.84" y="181.65" width="3.99" height="10.18" fill="#dcdcdc"/>
<rect x="521.54" y="181.65" width="3.99" height="10.18" fill="#dcdcdc"/>
<rect x="525.23" y="181.65" width="3.99" height="10.18" fill="#dcdcdc"/>
<rect x="528.92" y="181.65" width="3.99" height="10.18" fill="#dcdcdc"/>
<rect x="532.61" y="181.65" width="3.99" height="10.18" fill="#dcdcdc"/>
<rect x="536.31" y="181.65" width="3.99" height="10.18" fill="#dcdcdc"/>
<rect x="137.50" y="191.73" width="3.99" height="10.18" fill="#dcdcdc"/>
<rect x="141.19" y="191.73" width="3.99" height="10.18" fill="#dcdcdc"/>
<rect x="144.89" y="191.73" width="3.99" height="10.18" fill="#dcdcdc"/>
<rect x="148.58" y="191.73" width="3.99" height="10.18" fill="#dcdcdc"/>
<rect x="152.27" y="191.73" width="3.99" height="10.18" fill="#dcdcdc"/>
<rect x="155.96" y="191.73" width="3.99" height="10.18" fill="#dcdcdc"/>
<rect x="159.66" y="191.73" width="3.99" height="10.18" fill="#dcdcdc"/>
<rect x="163.35" y="191.73" width="3.99" height="10.18" fill="#dcdcdc"/>
<rect x="167.04" y="191.73" width="3.99" height="10.18" fill="#36893f"/>
<rect x="170.73" y="191.73" width="3.99" height="10.18" fill="#dcdcdc"/>
<rect x="174.43" y="191.73" width="3.99" height="10.18" fill="#dcdcdc"/>
<rect x="178.12" y="191.73" width="3.99" height="10.18" fill="#dcdcdc"/>
<rect x="181.81" y="191.73" width="3.99" height="10.18" fill="#4a74c4"/>
<rect x="185.50" y="191.73" width="3.99" height="10.18" fill="#f89c2c"/>
<rect x="189.20" y="191.73" width="3.99" height="10.18" fill="#dcdcdc"/>
<rect x="192.89" y="191.73" width="3.99" height="10.18" fill="#dcdcdc"/>
<rect x="196.58" y="191.73" width="3.99" height="10.18" fill="#dcdcdc"/>
<rect x="200.28" y="191.73" width="3.99" height="10.18" fill="#dcdcdc"/>
<rect x="203.97" y="191.73" width="3.99" height="10.18" fill="#dcdcdc"/>
<rect x="207.66" y="191.73" width="3.99" height="10.18" fill="#dcdcdc"/>
<rect x="211.35" y="191.73" width="3.99" height="10.18" fill="#dcdcdc"/>
<rect x="215.05" y="191.73" width="3.99" height="10.18" fill="#dcdcdc"/>
<rect x="218.74" y="191.73" width="3.99" height="10.18" fill="#dcdcdc"/>
<rect x="222.43" y="191.73" width="3.99" height="10.18" fill="#dcdcdc"/>
<rect x="226.12" y="191.73" width="3.99" height="10.18" fill="#dcdcdc"/>
<rect x="229.82" y="191.73" width="3.99" height="10.18" fill="#dcdcdc"/>
<rect x="233.51" y="191.73" width="3.99" height="10.18" fill="#dcdcdc"/>
<rect x="237.20" y="191.73" width="3.99" height="10.18" fill="#dcdcdc"/>
<rect x="240.89" y="191.73" width="3.99" height="10.18" fill="#dcdcdc"/>
<rect x="244.59" y="191.73" width="3.99" height="10.18" fill="#dcdcdc"/>
<rect x="248.28" y="191.73" width="3.99" height="10.18" fill="#dcdcdc"/>
<rect x="251.97" y="191.73" width="3.99" height="10.18" fill="#dcdcdc"/>
<rect x="255.67" y="191.73" width="3.99" height="10.18" fill="#dcdcdc"/>
<rect x="259.36" y="191.73" width="3.99" height="10.18" fill="#dcdcdc"/>
<rect x="263.05" y="191.73" width="3.99" height="10.18" fill="#dcdcdc"/>
<rect x="266.74" y="191.73" width="3.99" height="10.18" fill="#dcdcdc"/>
<rect x="270.44" y="191.73" width="3.99" height="10.18" fill="#dcdcdc"/>
<rect x="274.13" y="191.73" width="3.99" height="10.18" fill="#dcdcdc"/>
<rect x="277.82" y="191.73" width="3.99" height="10.18" fill="#dcdcdc"/>
<rect x="281.51" y="191.73" width="3.99" height="10.18" fill="#dcdcdc"/>
<rect x="285.21" y="191.73" width="3.99" height="10.18" fill="#dcdcdc"/>
<rect x="288.90" y="191.73" width="3.99" height="10.18" fill="#dcdcdc"/>
<rect x="292.59" y="191.73" width="3.99" height="10.18" fill="#dcdcdc"/>
<rect x="296.28" y="191.73" width="3.99" height="10.18" fill="#dcdcdc"/>
<rect x="299.98" y="191.73" width="3.99" height="10.18" fill="#dcdcdc"/>
<rect x="303.67" y="191.73" width="3.99" height="10.18" fill="#dcdcdc"/>
<rect x="307.36" y="191.73" width="3.99" height="10.18" fill="#dcdcdc"/>
<rect x="311.06" y="191.73" width="3.99" height="10.18" fill="#dcdcdc"/>
<rect x="314.75" y="191.73" width="3.99" height="10.18" fill="#dcdcdc"/>
<rect x="318.44" y="191.73" width="3.99" height="10.18" fill="#dcdcdc"/>
<rect x="322.13" y="191.73" width="3.99" height="10.18" fill="#dcdcdc"/>
<rect x="325.83" y="191.73" width="3.99" height="10.18" fill="#dcdcdc"/>
<rect x="329.52" y="191.73" width="3.99" height="10.18" fill="#dcdcdc"/>
<rect x="333.21" y="191.73" width="3.99" height="10.18" fill="#dcdcdc"/>
<rect x="336.90" y="191.73" width="3.99" height="10.18" fill="#dcdcdc"/>
<rect x="340.60" y="191.73" width="3.99" height="10.18" fill="#dcdcdc"/>
<rect x="344.29" y="191.73" width="3.99" height="10.18" fill="#dcdcdc"/>
<rect x="347.98" y="191.73" width="3.99" height="10.18" fill="#dcdcdc"/>
<rect x="351.67" y="191.73" width="3.99" height="10.18" fill="#dcdcdc"/>
<rect x="355.37" y="191.73" width="3.99" height="10.18" fill="#dcdcdc"/>
<rect x="359.06" y="191.73" width="3.99" height="10.18" fill="#dcdcdc"/>
<rect x="362.75" y="191.73" width="3.99" height="10.18" fill="#dcdcdc"/>
<rect x="366.44" y="191.73" width="3.99" height="10.18" fill="#dcdcdc"/>
<rect x="370.14" y="191.73" width="3.99" height="10.18" fill="#dcdcdc"/>
<rect x="373.83" y="191.73" width="3.99" height="10.18" fill="#dcdcdc"/>
<rect x="377.52" y="191.73" width="3.99" height="10.18" fill="#dcdcdc"/>
<rect x="381.22" y="191.73" width="3.99" height="10.18" fill="#dcdcdc"/>
<rect x="384.91" y="191.73" width="3.99" height="10.18" fill="#dcdcdc"/>
<rect x="388.60" y="191.73" width="3.99" height="10.18" fill="#dcdcdc"/>
<rect x="392.29" y="191.73" width="3.99" height="10.18" fill="#dcdcdc"/>
<rect x="395.99" y="191.73" width="3.99" height="10.18" fill="#dcdcdc"/>
<rect x="399.68" y="191.73" width="3.99" height="10.18" fill="#dcdcdc"/>
<rect x="403.37" y="191.73" width="3.99" height="10.18" fill="#dcdcdc"/>
<rect x="407.06" y="191.73" width="3.99" height="10.18" fill="#dcdcdc"/>
<rect x="410.76" y="191.73" width="3.99" height="10.18" fill="#dcdcdc"/>
<rect x="414.45" y="191.73" width="3.99" height="10.18" fill="#dcdcdc"/>
<rect x="418.14" y="191.73" width="3.99" height="10.18" fill="#dcdcdc"/>
<rect x="421.83" y="191.73" width="3.99" height="10.18" fill="#dcdcdc"/>
<rect x="425.53" y="191.73" width="3.99" height="10.18" fill="#dcdcdc"/>
<rect x="429.22" y="191.73" width="3.99" height="10.18" fill="#dcdcdc"/>
<rect x="432.91" y="191.73" width="3.99" height="10.18" fill="#dcdcdc"/>
<rect x="436.61" y="191.73" width="3.99" height="10.18" fill="#f89c2c"/>
<rect x="440.30" y="191.73" width="3.99" height="10.18" fill="#dcdcdc"/>
<rect x="443.99" y="191.73" width="3.99" height="10.18" fill="#dcdcdc"/>
<rect x="447.68" y="191.73" width="3.99" height="10.18" fill="#dcdcdc"/>
<rect x="451.38" y="191.73" width="3.99" height="10.18" fill="#dcdcdc"/>
<rect x="455.07" y="191.73" width="3.99" height="10.18" fill="#dcdcdc"/>
<rect x="458.76" y="191.73" width="3.99" height="10.18" fill="#dcdcdc"/>
<rect x="462.45" y="191.73" width="3.99" height="10.18" fill="#dcdcdc"/>
<rect x="466.15" y="191.73" width="3.99" height="10.18" fill="#36893f"/>
<rect x="469.84" y="191.73" width="3.99" height="10.18" fill="#36893f"/>
<rect x="473.53" y="191.73" width="3.99" height="10.18" fill="#dcdcdc"/>
<rect x="477.22" y="191.73" width="3.99" height="10.18" fill="#dcdcdc"/>
<rect x="480.92" y="191.73" width="3.99" height="10.18" fill="#dcdcdc"/>
<rect x="484.61" y="191.73" width="3.99" height="10.18" fill="#dcdcdc"/>
<rect x="488.30" y="191.73" width="3.99" height="10.18" fill="#dcdcdc"/>
<rect x="492.00" y="191.73" width="3.99" height="10.18" fill="#dcdcdc"/>
<rect x="495.69" y="191.73" width="3.99" height="10.18" fill="#dcdcdc"/>
<rect x="499.38" y="191.73" width="3.99" height="10.18" fill="#dcdcdc"/>
<rect x="503.07" y="191.73" width="3.99" height="10.18" fill="#dcdcdc"/>
<rect x="506.77" y="191.73" width="3.99" height="10.18" fill="#dcdcdc"/>
<rect x="510.46" y="191.73" width="3.99" height="10.18" fill="#dcdcdc"/>
<rect x="514.15" y="191.73" width="3.99" height="10.18" fill="#dcdcdc"/>
<rect x="517.84" y="191.73" width="3.99" height="10.18" fill="#dcdcdc"/>
<rect x="521.54" y="191.73" width="3.99" height="10.18" fill="#dcdcdc"/>
<rect x="525.23" y="191.73" width="3.99" height="10.18" fill="#dcdcdc"/>
<rect x="528.92" y="191.73" width="3.99" height="10.18" fill="#dcdcdc"/>
<rect x="532.61" y="191.73" width="3.99" height="10.18" fill="#dcdcdc"/>
<rect x="536.31" y="191.73" width="3.99" height="10.18" fill="#dcdcdc"/>
<rect x="137.50" y="201.81" width="3.99" height="10.18" fill="#c7c8ca"/>
<rect x="141.19" y="201.81" width="3.99" height="10.18" fill="#c7c8ca"/>
<rect x="144.89" y="201.81" width="3.99" height="10.18" fill="#c7c8ca"/>
<rect x="148.58" y="201.81" width="3.99" height="10.18" fill="#ee2e2e"/>
<rect x="152.27" y="201.81" width="3.99" height="10.18" fill="#c7c8ca"/>
<rect x="155.96" y="201.81" width="3.99" height="10.18" fill="#c7c8ca"/>
<rect x="159.66" y="201.81" width="3.99" height="10.18" fill="#c7c8ca"/>
<rect x="163.35" y="201.81" width="3.99" height="10.18" fill="#c7c8ca"/>
<rect x="167.04" y="201.81" width="3.99" height="10.18" fill="#c7c8ca"/>
<rect x="170.73" y="201.81" width="3.99" height="10.18" fill="#c7c8ca"/>
<rect x="174.43" y="201.81" width="3.99" height="10.18" fill="#c7c8ca"/>
<rect x="178.12" y="201.81" width="3.99" height="10.18" fill="#c7c8ca"/>
<rect x="181.81" y="201.81" width="3.99" height="10.18" fill="#c7c8ca"/>
<rect x="185.50" y="201.81" width="3.99" height="10.18" fill="#c7c8ca"/>
<rect x="189.20" y="201.81" width="3.99" height="10.18" fill="#c7c8ca"/>
<rect x="192.89" y="201.81" width="3.99" height="10.18" fill="#c7c8ca"/>
<rect x="196.58" y="201.81" width="3.99" height="10.18" fill="#c7c8ca"/>
<rect x="200.28" y="201.81" width="3.99" height="10.18" fill="#c7c8ca"/>
<rect x="203.97" y="201.81" width="3.99" height="10.18" fill="#c7c8ca"/>
<rect x="207.66" y="201.81" width="3.99" height="10.18" fill="#c7c8ca"/>
<rect x="211.35" y="201.81" width="3.99" height="10.18" fill="#c7c8ca"/>
<rect x="215.05" y="201.81" width="3.99" height="10.18" fill="#c7c8ca"/>
<rect x="218.74" y="201.81" width="3.99" height="10.18" fill="#c7c8ca"/>
<rect x="222.43" y="201.81" width="3.99" height="10.18" fill="#c7c8ca"/>
<rect x="226.12" y="201.81" width="3.99" height="10.18" fill="#c7c8ca"/>
<rect x="229.82" y="201.81" width="3.99" height="10.18" fill="#c7c8ca"/>
<rect x="233.51" y="201.81" width="3.99" height="10.18" fill="#c7c8ca"/>
<rect x="237.20" y="201.81" width="3.99" height="10.18" fill="#c7c8ca"/>
<rect x="240.89" y="201.81" width="3.99" height="10.18" fill="#c7c8ca"/>
<rect x="244.59" y="201.81" width="3.99" height="10.18" fill="#c7c8ca"/>
<rect x="248.28" y="201.81" width="3.99" height="10.18" fill="#c7c8ca"/>
<rect x="251.97" y="201.81" width="3.99" height="10.18" fill="#c7c8ca"/>
<rect x="255.67" y="201.81" width="3.99" height="10.18" fill="#c7c8ca"/>
<rect x="259.36" y="201.81" width="3.99" height="10.18" fill="#c7c8ca"/>
<rect x="263.05" y="201.81" width="3.99" height="10.18" fill="#c7c8ca"/>
<rect x="266.74" y="201.81" width="3.99" height="10.18" fill="#ee2e2e"/>
<rect x="270.44" y="201.81" width="3.99" height="10.18" fill="#ee2e2e"/>
<rect x="274.13" y="201.81" width="3.99" height="10.18" fill="#c7c8ca"/>
<rect x="277.82" y="201.81" width="3.99" height="10.18" fill="#c7c8ca"/>
<rect x="281.51" y="201.81" width="3.99" height="10.18" fill="#ee2e2e"/>
<rect x="285.21" y="201.81" width="3.99" height="10.18" fill="#c7c8ca"/>
<rect x="288.90" y="201.81" width="3.99" height="10.18" fill="#c7c8ca"/>
<rect x="292.59" y="201.81" width="3.99" height="10.18" fill="#c7c8ca"/>
<rect x="296.28" y="201.81" width="3.99" height="10.18" fill="#c7c8ca"/>
<rect x="299.98" y="201.81" width="3.99" height="10.18" fill="#c7c8ca"/>
<rect x="303.67" y="201.81" width="3.99" height="10.18" fill="#c7c8ca"/>
<rect x="307.36" y="201.81" width="3.99" height="10.18" fill="#c7c8ca"/>
<rect x="311.06" y="201.81" width="3.99" height="10.18" fill="#c7c8ca"/>
<rect x="314.75" y="201.81" width="3.99" height="10.18" fill="#c7c8ca"/>
<rect x="318.44" y="201.81" width="3.99" height="10.18" fill="#c7c8ca"/>
<rect x="322.13" y="201.81" width="3.99" height="10.18" fill="#c7c8ca"/>
<rect x="325.83" y="201.81" width="3.99" height="10.18" fill="#c7c8ca"/>
<rect x="329.52" y="201.81" width="3.99" height="10.18" fill="#c7c8ca"/>
<rect x="333.21" y="201.81" width="3.99" height="10.18" fill="#c7c8ca"/>
<rect x="336.90" y="201.81" width="3.99" height="10.18" fill="#c7c8ca"/>
<rect x="340.60" y="201.81" width="3.99" height="10.18" fill="#c7c8ca"/>
<rect x="344.29" y="201.81" width="3.99" height="10.18" fill="#c7c8ca"/>
<rect x="347.98" y="201.81" width="3.99" height="10.18" fill="#c7c8ca"/>
<rect x="351.67" y="201.81" width="3.99" height="10.18" fill="#c7c8ca"/>
<rect x="355.37" y="201.81" width="3.99" height="10.18" fill="#ee2e2e"/>
<rect x="359.06" y="201.81" width="3.99" height="10.18" fill="#c7c8ca"/>
<rect x="362.75" y="201.81" width="3.99" height="10.18" fill="#c7c8ca"/>
<rect x="366.44" y="201.81" width="3.99" height="10.18" fill="#ee2e2e"/>
<rect x="370.14" y="201.81" width="3.99" height="10.18" fill="#ee2e2e"/>
<rect x="373.83" y="201.81" width="3.99" height="10.18" fill="#c7c8ca"/>
<rect x="377.52" y="201.81" width="3.99" height="10.18" fill="#c7c8ca"/>
<rect x="381.22" y="201.81" width="3.99" height="10.18" fill="#c7c8ca"/>
<rect x="384.91" y="201.81" width="3.99" height="10.18" fill="#c7c8ca"/>
<rect x="388.60" y="201.81" width="3.99" height="10.18" fill="#c7c8ca"/>
<rect x="392.29" y="201.81" width="3.99" height="10.18" fill="#c7c8ca"/>
<rect x="395.99" y="201.81" width="3.99" height="10.18" fill="#c7c8ca"/>
<rect x="399.68" y="201.81" width="3.99" height="10.18" fill="#c7c8ca"/>
<rect x="403.37" y="201.81" width="3.99" height="10.18" fill="#c7c8ca"/>
<rect x="407.06" y="201.81" width="3.99" height="10.18" fill="#c7c8ca"/>
<rect x="410.76" y="201.81" width="3.99" height="10.18" fill="#c7c8ca"/>
<rect x="414.45" y="201.81" width="3.99" height="10.18" fill="#c7c8ca"/>
<rect x="418.14" y="201.81" width="3.99" height="10.18" fill="#c7c8ca"/>
<rect x="421.83" y="201.81" width="3.99" height="10.18" fill="#c7c8ca"/>
<rect x="425.53" y="201.81" width="3.99" height="10.18" fill="#c7c8ca"/>
<rect x="429.22" y="201.81" width="3.99" height="10.18" fill="#c7c8ca"/>
<rect x="432.91" y="201.81" width="3.99" height="10.18" fill="#c7c8ca"/>
<rect x="436.61" y="201.81" width="3.99" height="10.18" fill="#c7c8ca"/>
<rect x="440.30" y="201.81" width="3.99" height="10.18" fill="#c7c8ca"/>
<rect x="443.99" y="201.81" width="3.99" height="10.18" fill="#c7c8ca"/>
<rect x="447.68" y="201.81" width="3.99" height="10.18" fill="#c7c8ca"/>
<rect x="451.38" y="201.81" width="3.99" height="10.18" fill="#c7c8ca"/>
<rect x="455.07" y="201.81" width="3.99" height="10.18" fill="#c7c8ca"/>
<rect x="458.76" y="201.81" width="3.99" height="10.18" fill="#c7c8ca"/>
<rect x="462.45" y="201.81" width="3.99" height="10.18" fill="#c7c8ca"/>
<rect x="466.15" y="201.81" width="3.99" height="10.18" fill="#c7c8ca"/>
<rect x="469.84" y="201.81" width="3.99" height="10.18" fill="#c7c8ca"/>
<rect x="473.53" y="201.81" width="3.99" height="10.18" fill="#ee2e2e"/>
<rect x="477.22" y="201.81" width="3.99" height="10.18" fill="#ee2e2e"/>
<rect x="480.92" y="201.81" width="3.99" height="10.18" fill="#ee2e2e"/>
<rect x="484.61" y="201.81" width="3.99" height="10.18" fill="#c7c8ca"/>
<rect x="488.30" y="201.81" width="3.99" height="10.18" fill="#c7c8ca"/>
<rect x="492.00" y="201.81" width="3.99" height="10.18" fill="#c7c8ca"/>
<rect x="495.69" y="201.81" width="3.99" height="10.18" fill="#c7c8ca"/>
<rect x="499.38" y="201.81" width="3.99" height="10.18" fill="#c7c8ca"/>
<rect x="503.07" y="201.81" width="3.99" height="10.18" fill="#c7c8ca"/>
<rect x="506.77" y="201.81" width="3.99" height="10.18" fill="#c7c8ca"/>
<rect x="510.46" y="201.81" width="3.99" height="10.18" fill="#c7c8ca"/>
<rect x="514.15" y="201.81" width="3.99" height="10.18" fill="#c7c8ca"/>
<rect x="517.84" y="201.81" width="3.99" height="10.18" fill="#c7c8ca"/>
<rect x="521.54" y="201.81" width="3.99" height="10.18" fill="#c7c8ca"/>
<rect x="525.23" y="201.81" width="3.99" height="10.18" fill="#c7c8ca"/>
<rect x="528.92" y="201.81" width="3.99" height="10.18" fill="#c7c8ca"/>
<rect x="532.61" y="201.81" width="3.99" height="10.18" fill="#c7c8ca"/>
<rect x="536.31" y="201.81" width="3.99" height="10.18" fill="#c7c8ca"/>
<rect x="137.50" y="211.90" width="3.99" height="10.18" fill="#ee2e2e"/>
<rect x="141.19" y="211.90" width="3.99" height="10.18" fill="#c7c8ca"/>
<rect x="144.89" y="211.90" width="3.99" height="10.18" fill="#c7c8ca"/>
<rect x="148.58" y="211.90" width="3.99" height="10.18" fill="#c7c8ca"/>
<rect x="152.27" y="211.90" width="3.99" height="10.18" fill="#c7c8ca"/>
<rect x="155.96" y="211.90" width="3.99" height="10.18" fill="#c7c8ca"/>
<rect x="159.66" y="211.90" width="3.99" height="10.18" fill="#c7c8ca"/>
<rect x="163.35" y="211.90" width="3.99" height="10.18" fill="#c7c8ca"/>
<rect x="167.04" y="211.90" width="3.99" height="10.18" fill="#c7c8ca"/>
<rect x="170.73" y="211.90" width="3.99" height="10.18" fill="#c7c8ca"/>
<rect x="174.43" y="211.90" width="3.99" height="10.18" fill="#c7c8ca"/>
<rect x="178.12" y="211.90" width="3.99" height="10.18" fill="#c7c8ca"/>
<rect x="181.81" y="211.90" width="3.99" height="10.18" fill="#c7c8ca"/>
<rect x="185.50" y="211.90" width="3.99" height="10.18" fill="#c7c8ca"/>
<rect x="189.20" y="211.90" width="3.99" height="10.18" fill="#c7c8ca"/>
<rect x="192.89" y="211.90" width="3.99" height="10.18" fill="#c7c8ca"/>
<rect x="196.58" y="211.90" width="3.99" height="10.18" fill="#c7c8ca"/>
<rect x="200.28" y="211.90" width="3.99" height="10.18" fill="#c7c8ca"/>
<rect x="203.97" y="211.90" width="3.99" height="10.18" fill="#c7c8ca"/>
<rect x="207.66" y="211.90" width="3.99" height="10.18" fill="#c7c8ca"/>
<rect x="211.35" y="211.90" width="3.99" height="10.18" fill="#c7c8ca"/>
<rect x="215.05" y="211.90" width="3.99" height="10.18" fill="#c7c8ca"/>
<rect x="218.74" y="211.90" width="3.99" height="10.18" fill="#c7c8ca"/>
<rect x="222.43" y="211.90" width="3.99" height="10.18" fill="#c7c8ca"/>
<rect x="226.12" y="211.90" width="3.99" height="10.18" fill="#c7c8ca"/>
<rect x="229.82" y="211.90" width="3.99" height="10.18" fill="#c7c8ca"/>
<rect x="233.51" y="211.90" width="3.99" height="10.18" fill="#c7c8ca"/>
<rect x="237.20" y="211.90" width="3.99" height="10.18" fill="#c7c8ca"/>
<rect x="240.89" y="211.90" width="3.99" height="10.18" fill="#c7c8ca"/>
<rect x="244.59" y="211.90" width="3.99" height="10.18" fill="#c7c8ca"/>
<rect x="248.28" y="211.90" width="3.99" height="10.18" fill="#c7c8ca"/>
<rect x="251.97" y="211.90" width="3.99" height="10.18" fill="#c7c8ca"/>
<rect x="255.67" y="211.90" width="3.99" height="10.18" fill="#c7c8ca"/>
<rect x="259.36" y="211.90" width="3.99" height="10.18" fill="#c7c8ca"/>
<rect x="263.05" y="211.90" width="3.99" height="10.18" fill="#ee2e2e"/>
<rect x="266.74" y="211.90" width="3.99" height="10.18" fill="#c7c8ca"/>
<rect x="270.44" y="211.90" width="3.99" height="10.18" fill="#c7c8ca"/>
<rect x="274.13" y="211.90" width="3.99" height="10.18" fill="#c7c8ca"/>
<rect x="277.82" y="211.90" width="3.99" height="10.18" fill="#c7c8ca"/>
<rect x="281.51" y="211.90" width="3.99" height="10.18" fill="#c7c8ca"/>
<rect x="285.21" y="211.90" width="3.99" height="10.18" fill="#c7c8ca"/>
<rect x="288.90" y="211.90" width="3.99" height="10.18" fill="#c7c8ca"/>
<rect x="292.59" y="211.90" width="3.99" height="10.18" fill="#c7c8ca"/>
<rect x="296.28" y="211.90" width="3.99" height="10.18" fill="#c7c8ca"/>
<rect x="299.98" y="211.90" width="3.99" height="10.18" fill="#c7c8ca"/>
<rect x="303.67" y="211.90" width="3.99" height="10.18" fill="#c7c8ca"/>
<rect x="307.36" y="211.90" width="3.99" height="10.18" fill="#c7c8ca"/>
<rect x="311.06" y="211.90" width="3.99" height="10.18" fill="#c7c8ca"/>
<rect x="314.75" y="211.90" width="3.99" height="10.18" fill="#ee2e2e"/>
<rect x="318.44" y="211.90" width="3.99" height="10.18" fill="#c7c8ca"/>
<rect x="322.13" y="211.90" width="3.99" height="10.18" fill="#c7c8ca"/>
<rect x="325.83" y="211.90" width="3.99" height="10.18" fill="#c7c8ca"/>
<rect x="329.52" y="211.90" width="3.99" height="10.18" fill="#c7c8ca"/>
<rect x="333.21" y="211.90" width="3.99" height="10.18" fill="#c7c8ca"/>
<rect x="336.90" y="211.90" width="3.99" height="10.18" fill="#c7c8ca"/>
<rect x="340.60" y="211.90" width="3.99" height="10.18" fill="#c7c8ca"/>
<rect x="344.29" y="211.90" width="3.99" height="10.18" fill="#c7c8ca"/>
<rect x="347.98" y="211.90" width="3.99" height="10.18" fill="#c7c8ca"/>
<rect x="351.67" y="211.90" width="3.99" height="10.18" fill="#c7c8ca"/>
<rect x="355.37" y="211.90" width="3.99" height="10.18" fill="#c7c8ca"/>
<rect x="359.06" y="211.90" width="3.99" height="10.18" fill="#c7c8ca"/>
<rect x="362.75" y="211.90" width="3.99" height="10.18" fill="#c7c8ca"/>
<rect x="366.44" y="211.90" width="3.99" height="10.18" fill="#ee2e2e"/>
<rect x="370.14" y="211.90" width="3.99" height="10.18" fill="#c7c8ca"/>
<rect x="373.83" y="211.90" width="3.99" height="10.18" fill="#ee2e2e"/>
<rect x="377.52" y="211.90" width="3.99" height="10.18" fill="#c7c8ca"/>
<rect x="381.22" y="211.90" width="3.99" height="10.18" fill="#c7c8ca"/>
<rect x="384.91" y="211.90" width="3.99" height="10.18" fill="#c7c8ca"/>
<rect x="388.60" y="211.90" width="3.99" height="10.18" fill="#c7c8ca"/>
<rect x="392.29" y="211.90" width="3.99" height="10.18" fill="#c7c8ca"/>
<rect x="395.99" y="211.90" width="3.99" height="10.18" fill="#c7c8ca"/>
<rect x="399.68" y="211.90" width="3.99" height="10.18" fill="#c7c8ca"/>
<rect x="403.37" y="211.90" width="3.99" height="10.18" fill="#ee2e2e"/>
<rect x="407.06" y="211.90" width="3.99" height="10.18" fill="#c7c8ca"/>
<rect x="410.76" y="211.90" width="3.99" height="10.18" fill="#c7c8ca"/>
<rect x="414.45" y="211.90" width="3.99" height="10.18" fill="#c7c8ca"/>
<rect x="418.14" y="211.90" width="3.99" height="10.18" fill="#c7c8ca"/>
<rect x="421.83" y="211.90" width="3.99" height="10.18" fill="#c7c8ca"/>
<rect x="425.53" y="211.90" width="3.99" height="10.18" fill="#c7c8ca"/>
<rect x="429.22" y="211.90" width="3.99" height="10.18" fill="#c7c8ca"/>
<rect x="432.91" y="211.90" width="3.99" height="10.18" fill="#c7c8ca"/>
<rect x="436.61" y="211.90" width="3.99" height="10.18" fill="#c7c8ca"/>
<rect x="440.30" y="211.90" width="3.99" height="10.18" fill="#c7c8ca"/>
<rect x="443.99" y="211.90" width="3.99" height="10.18" fill="#c7c8ca"/>
<rect x="447.68" y="211.90" width="3.99" height="10.18" fill="#c7c8ca"/>
<rect x="451.38" y="211.90" width="3.99" height="10.18" fill="#c7c8ca"/>
<rect x="455.07" y="211.90" width="3.99" height="10.18" fill="#c7c8ca"/>
<rect x="458.76" y="211.90" width="3.99" height="10.18" fill="#c7c8ca"/>
<rect x="462.45" y="211.90" width="3.99" height="10.18" fill="#c7c8ca"/>
<rect x="466.15" y="211.90" width="3.99" height="10.18" fill="#c7c8ca"/>
<rect x="469.84" y="211.90" width="3.99" height="10.18" fill="#c7c8ca"/>
<rect x="473.53" y="211.90" width="3.99" height="10.18" fill="#ee2e2e"/>
<rect x="477.22" y="211.90" width="3.99" height="10.18" fill="#ee2e2e"/>
<rect x="480.92" y="211.90" width="3.99" height="10.18" fill="#c7c8ca"/>
<rect x="484.61" y="211.90" width="3.99" height="10.18" fill="#ee2e2e"/>
<rect x="488.30" y="211.90" width="3.99" height="10.18" fill="#c7c8ca"/>
<rect x="492.00" y="211.90" width="3.99" height="10.18" fill="#c7c8ca"/>
<rect x="495.69" y="211.90" width="3.99" height="10.18" fill="#c7c8ca"/>
<rect x="499.38" y="211.90" width="3.99" height="10.18" fill="#c7c8ca"/>
<rect x="503.07" y="211.90" width="3.99" height="10.18" fill="#c7c8ca"/>
<rect x="506.77" y="211.90" width="3.99" height="10.18" fill="#c7c8ca"/>
<rect x="510.46" y="211.90" width="3.99" height="10.18" fill="#c7c8ca"/>
<rect x="514.15" y="211.90" width="3.99" height="10.18" fill="#c7c8ca"/>
<rect x="517.84" y="211.90" width="3.99" height="10.18" fill="#c7c8ca"/>
<rect x="521.54" y="211.90" width="3.99" height="10.18" fill="#c7c8ca"/>
<rect x="525.23" y="211.90" width="3.99" height="10.18" fill="#c7c8ca"/>
<rect x="528.92" y="211.90" width="3.99" height="10.18" fill="#c7c8ca"/>
<rect x="532.61" y="211.90" width="3.99" height="10.18" fill="#c7c8ca"/>
<rect x="536.31" y="211.90" width="3.99" height="10.18" fill="#c7c8ca"/>
<rect x="137.50" y="221.98" width="3.99" height="10.18" fill="#c7c8ca"/>
<rect x="141.19" y="221.98" width="3.99" height="10.18" fill="#c7c8ca"/>
<rect x="144.89" y="221.98" width="3.99" height="10.18" fill="#c7c8ca"/>
<rect x="148.58" y="221.98" width="3.99" height="10.18" fill="#c7c8ca"/>
<rect x="152.27" y="221.98" width="3.99" height="10.18" fill="#c7c8ca"/>
<rect x="155.96" y="221.98" width="3.99" height="10.18" fill="#e88088"/>
<rect x="159.66" y="221.98" width="3.99" height="10.18" fill="#4a74c4"/>
<rect x="163.35" y="221.98" width="3.99" height="10.18" fill="#f89c2c"/>
<rect x="167.04" y="221.98" width="3.99" height="10.18" fill="#c7c8ca"/>
<rect x="170.73" y="221.98" width="3.99" height="10.18" fill="#c7c8ca"/>
<rect x="174.43" y="221.98" width="3.99" height="10.18" fill="#c7c8ca"/>
<rect x="178.12" y="221.98" width="3.99" height="10.18" fill="#c7c8ca"/>
<rect x="181.81" y="221.98" width="3.99" height="10.18" fill="#c7c8ca"/>
<rect x="185.50" y="221.98" width="3.99" height="10.18" fill="#c7c8ca"/>
<rect x="189.20" y="221.98" width="3.99" height="10.18" fill="#7650a8"/>
<rect x="192.89" y="221.98" width="3.99" height="10.18" fill="#7650a8"/>
<rect x="196.58" y="221.98" width="3.99" height="10.18" fill="#36893f"/>
<rect x="200.28" y="221.98" width="3.99" height="10.18" fill="#4a74c4"/>
<rect x="203.97" y="221.98" width="3.99" height="10.18" fill="#c7c8ca"/>
<rect x="207.66" y="221.98" width="3.99" height="10.18" fill="#c7c8ca"/>
<rect x="211.35" y="221.98" width="3.99" height="10.18" fill="#c7c8ca"/>
<rect x="215.05" y="221.98" width="3.99" height="10.18" fill="#c7c8ca"/>
<rect x="218.74" y="221.98" width="3.99" height="10.18" fill="#c7c8ca"/>
<rect x="222.43" y="221.98" width="3.99" height="10.18" fill="#c7c8ca"/>
<rect x="226.12" y="221.98" width="3.99" height="10.18" fill="#c7c8ca"/>
<rect x="229.82" y="221.98" width="3.99" height="10.18" fill="#c7c8ca"/>
<rect x="233.51" y="221.98" width="3.99" height="10.18" fill="#c7c8ca"/>
<rect x="237.20" y="221.98" width="3.99" height="10.18" fill="#c7c8ca"/>
<rect x="240.89" y="221.98" width="3.99" height="10.18" fill="#c7c8ca"/>
<rect x="244.59" y="221.98" width="3.99" height="10.18" fill="#c7c8ca"/>
<rect x="248.28" y="221.98" width="3.99" height="10.18" fill="#c7c8ca"/>
<rect x="251.97" y="221.98" width="3.99" height="10.18" fill="#4a74c4"/>
<rect x="255.67" y="221.98" width="3.99" height="10.18" fill="#c7c8ca"/>
<rect x="259.36" y="221.98" width="3.99" height="10.18" fill="#c7c8ca"/>
<rect x="263.05" y="221.98" width="3.99" height="10.18" fill="#c7c8ca"/>
<rect x="266.74" y="221.98" width="3.99" height="10.18" fill="#c7c8ca"/>
<rect x="270.44" y="221.98" width="3.99" height="10.18" fill="#c7c8ca"/>
<rect x="274.13" y="221.98" width="3.99" height="10.18" fill="#c7c8ca"/>
<rect x="277.82" y="221.98" width="3.99" height="10.18" fill="#c7c8ca"/>
<rect x="281.51" y="221.98" width="3.99" height="10.18" fill="#c7c8ca"/>
<rect x="285.21" y="221.98" width="3.99" height="10.18" fill="#c7c8ca"/>
<rect x="288.90" y="221.98" width="3.99" height="10.18" fill="#c7c8ca"/>
<rect x="292.59" y="221.98" width="3.99" height="10.18" fill="#c7c8ca"/>
<rect x="296.28" y="221.98" width="3.99" height="10.18" fill="#c7c8ca"/>
<rect x="299.98" y="221.98" width="3.99" height="10.18" fill="#c7c8ca"/>
<rect x="303.67" y="221.98" width="3.99" height="10.18" fill="#c7c8ca"/>
<rect x="307.36" y="221.98" width="3.99" height="10.18" fill="#c7c8ca"/>
<rect x="311.06" y="221.98" width="3.99" height="10.18" fill="#c7c8ca"/>
<rect x="314.75" y="221.98" width="3.99" height="10.18" fill="#c7c8ca"/>
<rect x="318.44" y="221.98" width="3.99" height="10.18" fill="#c7c8ca"/>
<rect x="322.13" y="221.98" width="3.99" height="10.18" fill="#c7c8ca"/>
<rect x="325.83" y="221.98" width="3.99" height="10.18" fill="#c7c8ca"/>
<rect x="329.52" y="221.98" width="3.99" height="10.18" fill="#c7c8ca"/>
<rect x="333.21" y="221.98" width="3.99" height="10.18" fill="#f89c2c"/>
<rect x="336.90" y="221.98" width="3.99" height="10.18" fill="#c7c8ca"/>
<rect x="340.60" y="221.98" width="3.99" height="10.18" fill="#c7c8ca"/>
<rect x="344.29" y="221.98" width="3.99" height="10.18" fill="#c7c8ca"/>
<rect x="347.98" y="221.98" width="3.99" height="10.18" fill="#c7c8ca"/>
<rect x="351.67" y="221.98" width="3.99" height="10.18" fill="#c7c8ca"/>
<rect x="355.37" y="221.98" width="3.99" height="10.18" fill="#c7c8ca"/>
<rect x="359.06" y="221.98" width="3.99" height="10.18" fill="#c7c8ca"/>
<rect x="362.75" y="221.98" width="3.99" height="10.18" fill="#c7c8ca"/>
<rect x="366.44" y="221.98" width="3.99" height="10.18" fill="#c7c8ca"/>
<rect x="370.14" y="221.98" width="3.99" height="10.18" fill="#c7c8ca"/>
<rect x="373.83" y="221.98" width="3.99" height="10.18" fill="#c7c8ca"/>
<rect x="377.52" y="221.98" width="3.99" height="10.18" fill="#c7c8ca"/>
<rect x="381.22" y="221.98" width="3.99" height="10.18" fill="#c7c8ca"/>
<rect x="384.91" y="221.98" width="3.99" height="10.18" fill="#c7c8ca"/>
<rect x="388.60" y="221.98" width="3.99" height="10.18" fill="#c7c8ca"/>
<rect x="392.29" y="221.98" width="3.99" height="10.18" fill="#c7c8ca"/>
<rect x="395.99" y="221.98" width="3.99" height="10.18" fill="#c7c8ca"/>
<rect x="399.68" y="221.98" width="3.99" height="10.18" fill="#c7c8ca"/>
<rect x="403.37" y="221.98" width="3.99" height="10.18" fill="#c7c8ca"/>
<rect x="407.06" y="221.98" width="3.99" height="10.18" fill="#c7c8ca"/>
<rect x="410.76" y="221.98" width="3.99" height="10.18" fill="#c7c8ca"/>
<rect x="414.45" y="221.98" width="3.99" height="10.18" fill="#c7c8ca"/>
<rect x="418.14" y="221.98" width="3.99" height="10.18" fill="#c7c8ca"/>
<rect x="421.83" y="221.98" width="3.99" height="10.18" fill="#c7c8ca"/>
<rect x="425.53" y="221.98" width="3.99" height="10.18" fill="#c7c8ca"/>
<rect x="429.22" y="221.98" width="3.99" height="10.18" fill="#c7c8ca"/>
<rect x="432.91" y="221.98" width="3.99" height="10.18" fill="#c7c8ca"/>
<rect x="436.61" y="221.98" width="3.99" height="10.18" fill="#c7c8ca"/>
<rect x="440.30" y="221.98" width="3.99" height="10.18" fill="#c7c8ca"/>
<rect x="443.99" y="221.98" width="3.99" height="10.18" fill="#c7c8ca"/>
<rect x="447.68" y="221.98" width="3.99" height="10.18" fill="#c7c8ca"/>
<rect x="451.38" y="221.98" width="3.99" height="10.18" fill="#c7c8ca"/>
<rect x="455.07" y="221.98" width="3.99" height="10.18" fill="#c7c8ca"/>
<rect x="458.76" y="221.98" width="3.99" height="10.18" fill="#c7c8ca"/>
<rect x="462.45" y="221.98" width="3.99" height="10.18" fill="#c7c8ca"/>
<rect x="466.15" y="221.98" width="3.99" height="10.18" fill="#c7c8ca"/>
<rect x="469.84" y="221.98" width="3.99" height="10.18" fill="#c7c8ca"/>
<rect x="473.53" y="221.98" width="3.99" height="10.18" fill="#c7c8ca"/>
<rect x="477.22" y="221.98" width="3.99" height="10.18" fill="#c7c8ca"/>
<rect x="480.92" y="221.98" width="3.99" height="10.18" fill="#c7c8ca"/>
<rect x="484.61" y="221.98" width="3.99" height="10.18" fill="#c7c8ca"/>
<rect x="488.30" y="221.98" width="3.99" height="10.18" fill="#c7c8ca"/>
<rect x="492.00" y="221.98" width="3.99" height="10.18" fill="#c7c8ca"/>
<rect x="495.69" y="221.98" width="3.99" height="10.18" fill="#c7c8ca"/>
<rect x="499.38" y="221.98" width="3.99" height="10.18" fill="#c7c8ca"/>
<rect x="503.07" y="221.98" width="3.99" height="10.18" fill="#c7c8ca"/>
<rect x="506.77" y="221.98" width="3.99" height="10.18" fill="#c7c8ca"/>
<rect x="510.46" y="221.98" width="3.99" height="10.18" fill="#c7c8ca"/>
<rect x="514.15" y="221.98" width="3.99" height="10.18" fill="#c7c8ca"/>
<rect x="517.84" y="221.98" width="3.99" height="10.18" fill="#c7c8ca"/>
<rect x="521.54" y="221.98" width="3.99" height="10.18" fill="#c7c8ca"/>
<rect x="525.23" y="221.98" width="3.99" height="10.18" fill="#c7c8ca"/>
<rect x="528.92" y="221.98" width="3.99" height="10.18" fill="#c7c8ca"/>
<rect x="532.61" y="221.98" width="3.99" height="10.18" fill="#c7c8ca"/>
<rect x="536.31" y="221.98" width="3.99" height="10.18" fill="#c7c8ca"/>
<rect x="137.50" y="232.06" width="3.99" height="10.18" fill="#c7c8ca"/>
<rect x="141.19" y="232.06" width="3.99" height="10.18" fill="#c7c8ca"/>
<rect x="144.89" y="232.06" width="3.99" height="10.18" fill="#c7c8ca"/>
<rect x="148.58" y="232.06" width="3.99" height="10.18" fill="#c7c8ca"/>
<rect x="152.27" y="232.06" width="3.99" height="10.18" fill="#c7c8ca"/>
<rect x="155.96" y="232.06" width="3.99" height="10.18" fill="#c7c8ca"/>
<rect x="159.66" y="232.06" width="3.99" height="10.18" fill="#36893f"/>
<rect x="163.35" y="232.06" width="3.99" height="10.18" fill="#36893f"/>
<rect x="167.04" y="232.06" width="3.99" height="10.18" fill="#36893f"/>
<rect x="170.73" y="232.06" width="3.99" height="10.18" fill="#c7c8ca"/>
<rect x="174.43" y="232.06" width="3.99" height="10.18" fill="#c7c8ca"/>
<rect x="178.12" y="232.06" width="3.99" height="10.18" fill="#c7c8ca"/>
<rect x="181.81" y="232.06" width="3.99" height="10.18" fill="#36893f"/>
<rect x="185.50" y="232.06" width="3.99" height="10.18" fill="#c7c8ca"/>
<rect x="189.20" y="232.06" width="3.99" height="10.18" fill="#c7c8ca"/>
<rect x="192.89" y="232.06" width="3.99" height="10.18" fill="#c7c8ca"/>
<rect x="196.58" y="232.06" width="3.99" height="10.18" fill="#c7c8ca"/>
<rect x="200.28" y="232.06" width="3.99" height="10.18" fill="#c7c8ca"/>
<rect x="203.97" y="232.06" width="3.99" height="10.18" fill="#c7c8ca"/>
<rect x="207.66" y="232.06" width="3.99" height="10.18" fill="#c7c8ca"/>
<rect x="211.35" y="232.06" width="3.99" height="10.18" fill="#c7c8ca"/>
<rect x="215.05" y="232.06" width="3.99" height="10.18" fill="#c7c8ca"/>
<rect x="218.74" y="232.06" width="3.99" height="10.18" fill="#c7c8ca"/>
<rect x="222.43" y="232.06" width="3.99" height="10.18" fill="#c7c8ca"/>
<rect x="226.12" y="232.06" width="3.99" height="10.18" fill="#c7c8ca"/>
<rect x="229.82" y="232.06" width="3.99" height="10.18" fill="#c7c8ca"/>
<rect x="233.51" y="232.06" width="3.99" height="10.18" fill="#c7c8ca"/>
<rect x="237.20" y="232.06" width="3.99" height="10.18" fill="#c7c8ca"/>
<rect x="240.89" y="232.06" width="3.99" height="10.18" fill="#c7c8ca"/>
<rect x="244.59" y="232.06" width="3.99" height="10.18" fill="#c5a888"/>
<rect x="248.28" y="232.06" width="3.99" height="10.18" fill="#c7c8ca"/>
<rect x="251.97" y="232.06" width="3.99" height="10.18" fill="#c7c8ca"/>
<rect x="255.67" y="232.06" width="3.99" height="10.18" fill="#c7c8ca"/>
<rect x="259.36" y="232.06" width="3.99" height="10.18" fill="#c7c8ca"/>
<rect x="263.05" y="232.06" width="3.99" height="10.18" fill="#c7c8ca"/>
<rect x="266.74" y="232.06" width="3.99" height="10.18" fill="#c7c8ca"/>
<rect x="270.44" y="232.06" width="3.99" height="10.18" fill="#c7c8ca"/>
<rect x="274.13" y="232.06" width="3.99" height="10.18" fill="#36893f"/>
<rect x="277.82" y="232.06" width="3.99" height="10.18" fill="#c7c8ca"/>
<rect x="281.51" y="232.06" width="3.99" height="10.18" fill="#c7c8ca"/>
<rect x="285.21" y="232.06" width="3.99" height="10.18" fill="#c7c8ca"/>
<rect x="288.90" y="232.06" width="3.99" height="10.18" fill="#c7c8ca"/>
<rect x="292.59" y="232.06" width="3.99" height="10.18" fill="#c7c8ca"/>
<rect x="296.28" y="232.06" width="3.99" height="10.18" fill="#c7c8ca"/>
<rect x="299.98" y="232.06" width="3.99" height="10.18" fill="#c7c8ca"/>
<rect x="303.67" y="232.06" width="3.99" height="10.18" fill="#c7c8ca"/>
<rect x="307.36" y="232.06" width="3.99" height="10.18" fill="#c7c8ca"/>
<rect x="311.06" y="232.06" width="3.99" height="10.18" fill="#c7c8ca"/>
<rect x="314.75" y="232.06" width="3.99" height="10.18" fill="#c7c8ca"/>
<rect x="318.44" y="232.06" width="3.99" height="10.18" fill="#c7c8ca"/>
<rect x="322.13" y="232.06" width="3.99" height="10.18" fill="#c7c8ca"/>
<rect x="325.83" y="232.06" width="3.99" height="10.18" fill="#c7c8ca"/>
<rect x="329.52" y="232.06" width="3.99" height="10.18" fill="#c7c8ca"/>
<rect x="333.21" y="232.06" width="3.99" height="10.18" fill="#c7c8ca"/>
<rect x="336.90" y="232.06" width="3.99" height="10.18" fill="#c7c8ca"/>
<rect x="340.60" y="232.06" width="3.99" height="10.18" fill="#c7c8ca"/>
<rect x="344.29" y="232.06" width="3.99" height="10.18" fill="#c7c8ca"/>
<rect x="347.98" y="232.06" width="3.99" height="10.18" fill="#c7c8ca"/>
<rect x="351.67" y="232.06" width="3.99" height="10.18" fill="#c7c8ca"/>
<rect x="355.37" y="232.06" width="3.99" height="10.18" fill="#c7c8ca"/>
<rect x="359.06" y="232.06" width="3.99" height="10.18" fill="#c7c8ca"/>
<rect x="362.75" y="232.06" width="3.99" height="10.18" fill="#c7c8ca"/>
<rect x="366.44" y="232.06" width="3.99" height="10.18" fill="#c7c8ca"/>
<rect x="370.14" y="232.06" width="3.99" height="10.18" fill="#c7c8ca"/>
<rect x="373.83" y="232.06" width="3.99" height="10.18" fill="#c7c8ca"/>
<rect x="377.52" y="232.06" width="3.99" height="10.18" fill="#c7c8ca"/>
<rect x="381.22" y="232.06" width="3.99" height="10.18" fill="#c7c8ca"/>
<rect x="384.91" y="232.06" width="3.99" height="10.18" fill="#c7c8ca"/>
<rect x="388.60" y="232.06" width="3.99" height="10.18" fill="#c7c8ca"/>
<rect x="392.29" y="232.06" width="3.99" height="10.18" fill="#c7c8ca"/>
<rect x="395.99" y="232.06" width="3.99" height="10.18" fill="#c7c8ca"/>
<rect x="399.68" y="232.06" width="3.99" height="10.18" fill="#c7c8ca"/>
<rect x="403.37" y="232.06" width="3.99" height="10.18" fill="#c7c8ca"/>
<rect x="407.06" y="232.06" width="3.99" height="10.18" fill="#c7c8ca"/>
<rect x="410.76" y="232.06" width="3.99" height="10.18" fill="#c7c8ca"/>
<rect x="414.45" y="232.06" width="3.99" height="10.18" fill="#c7c8ca"/>
<rect x="418.14" y="232.06" width="3.99" height="10.18" fill="#c7c8ca"/>
<rect x="421.83" y="232.06" width="3.99" height="10.18" fill="#c7c8ca"/>
<rect x="425.53" y="232.06" width="3.99" height="10.18" fill="#c7c8ca"/>
<rect x="429.22" y="232.06" width="3.99" height="10.18" fill="#c7c8ca"/>
<rect x="432.91" y="232.06" width="3.99" height="10.18" fill="#c7c8ca"/>
<rect x="436.61" y="232.06" width="3.99" height="10.18" fill="#c7c8ca"/>
<rect x="440.30" y="232.06" width="3.99" height="10.18" fill="#c7c8ca"/>
<rect x="443.99" y="232.06" width="3.99" height="10.18" fill="#c7c8ca"/>
<rect x="447.68" y="232.06" width="3.99" height="10.18" fill="#c7c8ca"/>
<rect x="451.38" y="232.06" width="3.99" height="10.18" fill="#c7c8ca"/>
<rect x="455.07" y="232.06" width="3.99" height="10.18" fill="#c7c8ca"/>
<rect x="458.76" y="232.06" width="3.99" height="10.18" fill="#c7c8ca"/>
<rect x="462.45" y="232.06" width="3.99" height="10.18" fill="#c7c8ca"/>
<rect x="466.15" y="232.06" width="3.99" height="10.18" fill="#c7c8ca"/>
<rect x="469.84" y="232.06" width="3.99" height="10.18" fill="#c7c8ca"/>
<rect x="473.53" y="232.06" width="3.99" height="10.18" fill="#c7c8ca"/>
<rect x="477.22" y="232.06" width="3.99" height="10.18" fill="#c7c8ca"/>
<rect x="480.92" y="232.06" width="3.99" height="10.18" fill="#c7c8ca"/>
<rect x="484.61" y="232.06" width="3.99" height="10.18" fill="#c7c8ca"/>
<rect x="488.30" y="232.06" width="3.99" height="10.18" fill="#c7c8ca"/>
<rect x="492.00" y="232.06" width="3.99" height="10.18" fill="#c7c8ca"/>
<rect x="495.69" y="232.06" width="3.99" height="10.18" fill="#c7c8ca"/>
<rect x="499.38" y="232.06" width="3.99" height="10.18" fill="#c7c8ca"/>
<rect x="503.07" y="232.06" width="3.99" height="10.18" fill="#c7c8ca"/>
<rect x="506.77" y="232.06" width="3.99" height="10.18" fill="#c7c8ca"/>
<rect x="510.46" y="232.06" width="3.99" height="10.18" fill="#c7c8ca"/>
<rect x="514.15" y="232.06" width="3.99" height="10.18" fill="#c7c8ca"/>
<rect x="517.84" y="232.06" width="3.99" height="10.18" fill="#c7c8ca"/>
<rect x="521.54" y="232.06" width="3.99" height="10.18" fill="#c7c8ca"/>
<rect x="525.23" y="232.06" width="3.99" height="10.18" fill="#c7c8ca"/>
<rect x="528.92" y="232.06" width="3.99" height="10.18" fill="#c7c8ca"/>
<rect x="532.61" y="232.06" width="3.99" height="10.18" fill="#c7c8ca"/>
<rect x="536.31" y="232.06" width="3.99" height="10.18" fill="#c7c8ca"/>
<rect x="137.50" y="242.15" width="3.99" height="10.18" fill="#c7c8ca"/>
<rect x="141.19" y="242.15" width="3.99" height="10.18" fill="#c7c8ca"/>
<rect x="144.89" y="242.15" width="3.99" height="10.18" fill="#c7c8ca"/>
<rect x="148.58" y="242.15" width="3.99" height="10.18" fill="#c7c8ca"/>
<rect x="152.27" y="242.15" width="3.99" height="10.18" fill="#c7c8ca"/>
<rect x="155.96" y="242.15" width="3.99" height="10.18" fill="#c7c8ca"/>
<rect x="159.66" y="242.15" width="3.99" height="10.18" fill="#c7c8ca"/>
<rect x="163.35" y="242.15" width="3.99" height="10.18" fill="#c7c8ca"/>
<rect x="167.04" y="242.15" width="3.99" height="10.18" fill="#c7c8ca"/>
<rect x="170.73" y="242.15" width="3.99" height="10.18" fill="#c7c8ca"/>
<rect x="174.43" y="242.15" width="3.99" height="10.18" fill="#f89c2c"/>
<rect x="178.12" y="242.15" width="3.99" height="10.18" fill="#c7c8ca"/>
<rect x="181.81" y="242.15" width="3.99" height="10.18" fill="#c7c8ca"/>
<rect x="185.50" y="242.15" width="3.99" height="10.18" fill="#f89c2c"/>
<rect x="189.20" y="242.15" width="3.99" height="10.18" fill="#c7c8ca"/>
<rect x="192.89" y="242.15" width="3.99" height="10.18" fill="#c7c8ca"/>
<rect x="196.58" y="242.15" width="3.99" height="10.18" fill="#c7c8ca"/>
<rect x="200.28" y="242.15" width="3.99" height="10.18" fill="#c7c8ca"/>
<rect x="203.97" y="242.15" width="3.99" height="10.18" fill="#4a74c4"/>
<rect x="207.66" y="242.15" width="3.99" height="10.18" fill="#4a74c4"/>
<rect x="211.35" y="242.15" width="3.99" height="10.18" fill="#c7c8ca"/>
<rect x="215.05" y="242.15" width="3.99" height="10.18" fill="#c7c8ca"/>
<rect x="218.74" y="242.15" width="3.99" height="10.18" fill="#c7c8ca"/>
<rect x="222.43" y="242.15" width="3.99" height="10.18" fill="#c7c8ca"/>
<rect x="226.12" y="242.15" width="3.99" height="10.18" fill="#c7c8ca"/>
<rect x="229.82" y="242.15" width="3.99" height="10.18" fill="#c7c8ca"/>
<rect x="233.51" y="242.15" width="3.99" height="10.18" fill="#c7c8ca"/>
<rect x="237.20" y="242.15" width="3.99" height="10.18" fill="#c7c8ca"/>
<rect x="240.89" y="242.15" width="3.99" height="10.18" fill="#c7c8ca"/>
<rect x="244.59" y="242.15" width="3.99" height="10.18" fill="#c7c8ca"/>
<rect x="248.28" y="242.15" width="3.99" height="10.18" fill="#c7c8ca"/>
<rect x="251.97" y="242.15" width="3.99" height="10.18" fill="#c7c8ca"/>
<rect x="255.67" y="242.15" width="3.99" height="10.18" fill="#c7c8ca"/>
<rect x="259.36" y="242.15" width="3.99" height="10.18" fill="#c7c8ca"/>
<rect x="263.05" y="242.15" width="3.99" height="10.18" fill="#c7c8ca"/>
<rect x="266.74" y="242.15" width="3.99" height="10.18" fill="#c7c8ca"/>
<rect x="270.44" y="242.15" width="3.99" height="10.18" fill="#c7c8ca"/>
<rect x="274.13" y="242.15" width="3.99" height="10.18" fill="#c7c8ca"/>
<rect x="277.82" y="242.15" width="3.99" height="10.18" fill="#c7c8ca"/>
<rect x="281.51" y="242.15" width="3.99" height="10.18" fill="#c7c8ca"/>
<rect x="285.21" y="242.15" width="3.99" height="10.18" fill="#c7c8ca"/>
<rect x="288.90" y="242.15" width="3.99" height="10.18" fill="#c7c8ca"/>
<rect x="292.59" y="242.15" width="3.99" height="10.18" fill="#c7c8ca"/>
<rect x="296.28" y="242.15" width="3.99" height="10.18" fill="#c7c8ca"/>
<rect x="299.98" y="242.15" width="3.99" height="10.18" fill="#c7c8ca"/>
<rect x="303.67" y="242.15" width="3.99" height="10.18" fill="#c7c8ca"/>
<rect x="307.36" y="242.15" width="3.99" height="10.18" fill="#c7c8ca"/>
<rect x="311.06" y="242.15" width="3.99" height="10.18" fill="#c7c8ca"/>
<rect x="314.75" y="242.15" width="3.99" height="10.18" fill="#c7c8ca"/>
<rect x="318.44" y="242.15" width="3.99" height="10.18" fill="#c7c8ca"/>
<rect x="322.13" y="242.15" width="3.99" height="10.18" fill="#c7c8ca"/>
<rect x="325.83" y="242.15" width="3.99" height="10.18" fill="#c7c8ca"/>
<rect x="329.52" y="242.15" width="3.99" height="10.18" fill="#c7c8ca"/>
<rect x="333.21" y="242.15" width="3.99" height="10.18" fill="#c7c8ca"/>
<rect x="336.90" y="242.15" width="3.99" height="10.18" fill="#c7c8ca"/>
<rect x="340.60" y="242.15" width="3.99" height="10.18" fill="#c7c8ca"/>
<rect x="344.29" y="242.15" width="3.99" height="10.18" fill="#c7c8ca"/>
<rect x="347.98" y="242.15" width="3.99" height="10.18" fill="#c7c8ca"/>
<rect x="351.67" y="242.15" width="3.99" height="10.18" fill="#c7c8ca"/>
<rect x="355.37" y="242.15" width="3.99" height="10.18" fill="#c7c8ca"/>
<rect x="359.06" y="242.15" width="3.99" height="10.18" fill="#c7c8ca"/>
<rect x="362.75" y="242.15" width="3.99" height="10.18" fill="#c7c8ca"/>
<rect x="366.44" y="242.15" width="3.99" height="10.18" fill="#c7c8ca"/>
<rect x="370.14" y="242.15" width="3.99" height="10.18" fill="#c7c8ca"/>
<rect x="373.83" y="242.15" width="3.99" height="10.18" fill="#c7c8ca"/>
<rect x="377.52" y="242.15" width="3.99" height="10.18" fill="#c7c8ca"/>
<rect x="381.22" y="242.15" width="3.99" height="10.18" fill="#c7c8ca"/>
<rect x="384.91" y="242.15" width="3.99" height="10.18" fill="#c7c8ca"/>
<rect x="388.60" y="242.15" width="3.99" height="10.18" fill="#c7c8ca"/>
<rect x="392.29" y="242.15" width="3.99" height="10.18" fill="#c7c8ca"/>
<rect x="395.99" y="242.15" width="3.99" height="10.18" fill="#c7c8ca"/>
<rect x="399.68" y="242.15" width="3.99" height="10.18" fill="#c7c8ca"/>
<rect x="403.37" y="242.15" width="3.99" height="10.18" fill="#c7c8ca"/>
<rect x="407.06" y="242.15" width="3.99" height="10.18" fill="#c7c8ca"/>
<rect x="410.76" y="242.15" width="3.99" height="10.18" fill="#c7c8ca"/>
<rect x="414.45" y="242.15" width="3.99" height="10.18" fill="#c7c8ca"/>
<rect x="418.14" y="242.15" width="3.99" height="10.18" fill="#c7c8ca"/>
<rect x="421.83" y="242.15" width="3.99" height="10.18" fill="#c7c8ca"/>
<rect x="425.53" y="242.15" width="3.99" height="10.18" fill="#c7c8ca"/>
<rect x="429.22" y="242.15" width="3.99" height="10.18" fill="#c7c8ca"/>
<rect x="432.91" y="242.15" width="3.99" height="10.18" fill="#c7c8ca"/>
<rect x="436.61" y="242.15" width="3.99" height="10.18" fill="#c7c8ca"/>
<rect x="440.30" y="242.15" width="3.99" height="10.18" fill="#c7c8ca"/>
<rect x="443.99" y="242.15" width="3.99" height="10.18" fill="#c7c8ca"/>
<rect x="447.68" y="242.15" width="3.99" height="10.18" fill="#c7c8ca"/>
<rect x="451.38" y="242.15" width="3.99" height="10.18" fill="#c7c8ca"/>
<rect x="455.07" y="242.15" width="3.99" height="10.18" fill="#c7c8ca"/>
<rect x="458.76" y="242.15" width="3.99" height="10.18" fill="#c7c8ca"/>
<rect x="462.45" y="242.15" width="3.99" height="10.18" fill="#c7c8ca"/>
<rect x="466.15" y="242.15" width="3.99" height="10.18" fill="#c7c8ca"/>
<rect x="469.84" y="242.15" width="3.99" height="10.18" fill="#c7c8ca"/>
<rect x="473.53" y="242.15" width="3.99" height="10.18" fill="#c7c8ca"/>
<rect x="477.22" y="242.15" width="3.99" height="10.18" fill="#c7c8ca"/>
<rect x="480.92" y="242.15" width="3.99" height="10.18" fill="#c7c8ca"/>
<rect x="484.61" y="242.15" width="3.99" height="10.18" fill="#c7c8ca"/>
<rect x="488.30" y="242.15" width="3.99" height="10.18" fill="#4a74c4"/>
<rect x="492.00" y="242.15" width="3.99" height="10.18" fill="#e88088"/>
<rect x="495.69" y="242.15" width="3.99" height="10.18" fill="#c7c8ca"/>
<rect x="499.38" y="242.15" width="3.99" height="10.18" fill="#c7c8ca"/>
<rect x="503.07" y="242.15" width="3.99" height="10.18" fill="#c7c8ca"/>
<rect x="506.77" y="242.15" width="3.99" height="10.18" fill="#c7c8ca"/>
<rect x="510.46" y="242.15" width="3.99" height="10.18" fill="#c7c8ca"/>
<rect x="514.15" y="242.15" width="3.99" height="10.18" fill="#c7c8ca"/>
<rect x="517.84" y="242.15" width="3.99" height="10.18" fill="#c7c8ca"/>
<rect x="521.54" y="242.15" width="3.99" height="10.18" fill="#c7c8ca"/>
<rect x="525.23" y="242.15" width="3.99" height="10.18" fill="#c7c8ca"/>
<rect x="528.92" y="242.15" width="3.99" height="10.18" fill="#c7c8ca"/>
<rect x="532.61" y="242.15" width="3.99" height="10.18" fill="#c7c8ca"/>
<rect x="536.31" y="242.15" width="3.99" height="10.18" fill="#c7c8ca"/>
<rect x="137.50" y="252.23" width="3.99" height="10.18" fill="#c7c8ca"/>
<rect x="141.19" y="252.23" width="3.99" height="10.18" fill="#c7c8ca"/>
<rect x="144.89" y="252.23" width="3.99" height="10.18" fill="#c7c8ca"/>
<rect x="148.58" y="252.23" width="3.99" height="10.18" fill="#c7c8ca"/>
<rect x="152.27" y="252.23" width="3.99" height="10.18" fill="#c7c8ca"/>
<rect x="155.96" y="252.23" width="3.99" height="10.18" fill="#c7c8ca"/>
<rect x="159.66" y="252.23" width="3.99" height="10.18" fill="#c7c8ca"/>
<rect x="163.35" y="252.23" width="3.99" height="10.18" fill="#c7c8ca"/>
<rect x="167.04" y="252.23" width="3.99" height="10.18" fill="#c7c8ca"/>
<rect x="170.73" y="252.23" width="3.99" height="10.18" fill="#c7c8ca"/>
<rect x="174.43" y="252.23" width="3.99" height="10.18" fill="#c7c8ca"/>
<rect x="178.12" y="252.23" width="3.99" height="10.18" fill="#c7c8ca"/>
<rect x="181.81" y="252.23" width="3.99" height="10.18" fill="#c7c8ca"/>
<rect x="185.50" y="252.23" width="3.99" height="10.18" fill="#c7c8ca"/>
<rect x="189.20" y="252.23" width="3.99" height="10.18" fill="#36893f"/>
<rect x="192.89" y="252.23" width="3.99" height="10.18" fill="#c7c8ca"/>
<rect x="196.58" y="252.23" width="3.99" height="10.18" fill="#c7c8ca"/>
<rect x="200.28" y="252.23" width="3.99" height="10.18" fill="#c7c8ca"/>
<rect x="203.97" y="252.23" width="3.99" height="10.18" fill="#f89c2c"/>
<rect x="207.66" y="252.23" width="3.99" height="10.18" fill="#f89c2c"/>
<rect x="211.35" y="252.23" width="3.99" height="10.18" fill="#c7c8ca"/>
<rect x="215.05" y="252.23" width="3.99" height="10.18" fill="#c7c8ca"/>
<rect x="218.74" y="252.23" width="3.99" height="10.18" fill="#c7c8ca"/>
<rect x="222.43" y="252.23" width="3.99" height="10.18" fill="#c7c8ca"/>
<rect x="226.12" y="252.23" width="3.99" height="10.18" fill="#c7c8ca"/>
<rect x="229.82" y="252.23" width="3.99" height="10.18" fill="#c7c8ca"/>
<rect x="233.51" y="252.23" width="3.99" height="10.18" fill="#c7c8ca"/>
<rect x="237.20" y="252.23" width="3.99" height="10.18" fill="#c7c8ca"/>
<rect x="240.89" y="252.23" width="3.99" height="10.18" fill="#c7c8ca"/>
<rect x="244.59" y="252.23" width="3.99" height="10.18" fill="#4a74c4"/>
<rect x="248.28" y="252.23" width="3.99" height="10.18" fill="#c7c8ca"/>
<rect x="251.97" y="252.23" width="3.99" height="10.18" fill="#c7c8ca"/>
<rect x="255.67" y="252.23" width="3.99" height="10.18" fill="#36893f"/>
<rect x="259.36" y="252.23" width="3.99" height="10.18" fill="#c7c8ca"/>
<rect x="263.05" y="252.23" width="3.99" height="10.18" fill="#c7c8ca"/>
<rect x="266.74" y="252.23" width="3.99" height="10.18" fill="#c7c8ca"/>
<rect x="270.44" y="252.23" width="3.99" height="10.18" fill="#c7c8ca"/>
<rect x="274.13" y="252.23" width="3.99" height="10.18" fill="#c7c8ca"/>
<rect x="277.82" y="252.23" width="3.99" height="10.18" fill="#c7c8ca"/>
<rect x="281.51" y="252.23" width="3.99" height="10.18" fill="#c7c8ca"/>
<rect x="285.21" y="252.23" width="3.99" height="10.18" fill="#c7c8ca"/>
<rect x="288.90" y="252.23" width="3.99" height="10.18" fill="#c7c8ca"/>
<rect x="292.59" y="252.23" width="3.99" height="10.18" fill="#c7c8ca"/>
<rect x="296.28" y="252.23" width="3.99" height="10.18" fill="#c7c8ca"/>
<rect x="299.98" y="252.23" width="3.99" height="10.18" fill="#c7c8ca"/>
<rect x="303.67" y="252.23" width="3.99" height="10.18" fill="#c7c8ca"/>
<rect x="307.36" y="252.23" width="3.99" height="10.18" fill="#c7c8ca"/>
<rect x="311.06" y="252.23" width="3.99" height="10.18" fill="#c7c8ca"/>
<rect x="314.75" y="252.23" width="3.99" height="10.18" fill="#c7c8ca"/>
<rect x="318.44" y="252.23" width="3.99" height="10.18" fill="#c7c8ca"/>
<rect x="322.13" y="252.23" width="3.99" height="10.18" fill="#c7c8ca"/>
<rect x="325.83" y="252.23" width="3.99" height="10.18" fill="#c7c8ca"/>
<rect x="329.52" y="252.23" width="3.99" height="10.18" fill="#c7c8ca"/>
<rect x="333.21" y="252.23" width="3.99" height="10.18" fill="#c7c8ca"/>
<rect x="336.90" y="252.23" width="3.99" height="10.18" fill="#c7c8ca"/>
<rect x="340.60" y="252.23" width="3.99" height="10.18" fill="#c7c8ca"/>
<rect x="344.29" y="252.23" width="3.99" height="10.18" fill="#c7c8ca"/>
<rect x="347.98" y="252.23" width="3.99" height="10.18" fill="#c7c8ca"/>
<rect x="351.67" y="252.23" width="3.99" height="10.18" fill="#c7c8ca"/>
<rect x="355.37" y="252.23" width="3.99" height="10.18" fill="#c7c8ca"/>
<rect x="359.06" y="252.23" width="3.99" height="10.18" fill="#c7c8ca"/>
<rect x="362.75" y="252.23" width="3.99" height="10.18" fill="#c7c8ca"/>
<rect x="366.44" y="252.23" width="3.99" height="10.18" fill="#c7c8ca"/>
<rect x="370.14" y="252.23" width="3.99" height="10.18" fill="#c7c8ca"/>
<rect x="373.83" y="252.23" width="3.99" height="10.18" fill="#c7c8ca"/>
<rect x="377.52" y="252.23" width="3.99" height="10.18" fill="#c7c8ca"/>
<rect x="381.22" y="252.23" width="3.99" height="10.18" fill="#c7c8ca"/>
<rect x="384.91" y="252.23" width="3.99" height="10.18" fill="#c7c8ca"/>
<rect x="388.60" y="252.23" width="3.99" height="10.18" fill="#c7c8ca"/>
<rect x="392.29" y="252.23" width="3.99" height="10.18" fill="#c7c8ca"/>
<rect x="395.99" y="252.23" width="3.99" height="10.18" fill="#c7c8ca"/>
<rect x="399.68" y="252.23" width="3.99" height="10.18" fill="#c7c8ca"/>
<rect x="403.37" y="252.23" width="3.99" height="10.18" fill="#c7c8ca"/>
<rect x="407.06" y="252.23" width="3.99" height="10.18" fill="#c7c8ca"/>
<rect x="410.76" y="252.23" width="3.99" height="10.18" fill="#c7c8ca"/>
<rect x="414.45" y="252.23" width="3.99" height="10.18" fill="#c7c8ca"/>
<rect x="418.14" y="252.23" width="3.99" height="10.18" fill="#c7c8ca"/>
<rect x="421.83" y="252.23" width="3.99" height="10.18" fill="#c7c8ca"/>
<rect x="425.53" y="252.23" width="3.99" height="10.18" fill="#c7c8ca"/>
<rect x="429.22" y="252.23" width="3.99" height="10.18" fill="#c7c8ca"/>
<rect x="432.91" y="252.23" width="3.99" height="10.18" fill="#c7c8ca"/>
<rect x="436.61" y="252.23" width="3.99" height="10.18" fill="#c7c8ca"/>
<rect x="440.30" y="252.23" width="3.99" height="10.18" fill="#c7c8ca"/>
<rect x="443.99" y="252.23" width="3.99" height="10.18" fill="#c7c8ca"/>
<rect x="447.68" y="252.23" width="3.99" height="10.18" fill="#c7c8ca"/>
<rect x="451.38" y="252.23" width="3.99" height="10.18" fill="#c7c8ca"/>
<rect x="455.07" y="252.23" width="3.99" height="10.18" fill="#c7c8ca"/>
<rect x="458.76" y="252.23" width="3.99" height="10.18" fill="#c7c8ca"/>
<rect x="462.45" y="252.23" width="3.99" height="10.18" fill="#c7c8ca"/>
<rect x="466.15" y="252.23" width="3.99" height="10.18" fill="#c7c8ca"/>
<rect x="469.84" y="252.23" width="3.99" height="10.18" fill="#c7c8ca"/>
<rect x="473.53" y="252.23" width="3.99" height="10.18" fill="#c7c8ca"/>
<rect x="477.22" y="252.23" width="3.99" height="10.18" fill="#c7c8ca"/>
<rect x="480.92" y="252.23" width="3.99" height="10.18" fill="#c7c8ca"/>
<rect x="484.61" y="252.23" width="3.99" height="10.18" fill="#c7c8ca"/>
<rect x="488.30" y="252.23" width="3.99" height="10.18" fill="#c7c8ca"/>
<rect x="492.00" y="252.23" width="3.99" height="10.18" fill="#c7c8ca"/>
<rect x="495.69" y="252.23" width="3.99" height="10.18" fill="#c7c8ca"/>
<rect x="499.38" y="252.23" width="3.99" height="10.18" fill="#c7c8ca"/>
<rect x="503.07" y="252.23" width="3.99" height="10.18" fill="#c7c8ca"/>
<rect x="506.77" y="252.23" width="3.99" height="10.18" fill="#c7c8ca"/>
<rect x="510.46" y="252.23" width="3.99" height="10.18" fill="#c7c8ca"/>
<rect x="514.15" y="252.23" width="3.99" height="10.18" fill="#c7c8ca"/>
<rect x="517.84" y="252.23" width="3.99" height="10.18" fill="#c7c8ca"/>
<rect x="521.54" y="252.23" width="3.99" height="10.18" fill="#c7c8ca"/>
<rect x="525.23" y="252.23" width="3.99" height="10.18" fill="#c7c8ca"/>
<rect x="528.92" y="252.23" width="3.99" height="10.18" fill="#c7c8ca"/>
<rect x="532.61" y="252.23" width="3.99" height="10.18" fill="#c7c8ca"/>
<rect x="536.31" y="252.23" width="3.99" height="10.18" fill="#c7c8ca"/>
<rect x="137.50" y="262.31" width="3.99" height="10.18" fill="#c7c8ca"/>
<rect x="141.19" y="262.31" width="3.99" height="10.18" fill="#c7c8ca"/>
<rect x="144.89" y="262.31" width="3.99" height="10.18" fill="#4a74c4"/>
<rect x="148.58" y="262.31" width="3.99" height="10.18" fill="#c7c8ca"/>
<rect x="152.27" y="262.31" width="3.99" height="10.18" fill="#c7c8ca"/>
<rect x="155.96" y="262.31" width="3.99" height="10.18" fill="#c7c8ca"/>
<rect x="159.66" y="262.31" width="3.99" height="10.18" fill="#c7c8ca"/>
<rect x="163.35" y="262.31" width="3.99" height="10.18" fill="#c7c8ca"/>
<rect x="167.04" y="262.31" width="3.99" height="10.18" fill="#c7c8ca"/>
<rect x="170.73" y="262.31" width="3.99" height="10.18" fill="#c7c8ca"/>
<rect x="174.43" y="262.31" width="3.99" height="10.18" fill="#c7c8ca"/>
<rect x="178.12" y="262.31" width="3.99" height="10.18" fill="#c7c8ca"/>
<rect x="181.81" y="262.31" width="3.99" height="10.18" fill="#c7c8ca"/>
<rect x="185.50" y="262.31" width="3.99" height="10.18" fill="#c7c8ca"/>
<rect x="189.20" y="262.31" width="3.99" height="10.18" fill="#c7c8ca"/>
<rect x="192.89" y="262.31" width="3.99" height="10.18" fill="#c7c8ca"/>
<rect x="196.58" y="262.31" width="3.99" height="10.18" fill="#c7c8ca"/>
<rect x="200.28" y="262.31" width="3.99" height="10.18" fill="#c7c8ca"/>
<rect x="203.97" y="262.31" width="3.99" height="10.18" fill="#c7c8ca"/>
<rect x="207.66" y="262.31" width="3.99" height="10.18" fill="#c7c8ca"/>
<rect x="211.35" y="262.31" width="3.99" height="10.18" fill="#c7c8ca"/>
<rect x="215.05" y="262.31" width="3.99" height="10.18" fill="#c7c8ca"/>
<rect x="218.74" y="262.31" width="3.99" height="10.18" fill="#c7c8ca"/>
<rect x="222.43" y="262.31" width="3.99" height="10.18" fill="#c7c8ca"/>
<rect x="226.12" y="262.31" width="3.99" height="10.18" fill="#c7c8ca"/>
<rect x="229.82" y="262.31" width="3.99" height="10.18" fill="#c7c8ca"/>
<rect x="233.51" y="262.31" width="3.99" height="10.18" fill="#c7c8ca"/>
<rect x="237.20" y="262.31" width="3.99" height="10.18" fill="#c7c8ca"/>
<rect x="240.89" y="262.31" width="3.99" height="10.18" fill="#c7c8ca"/>
<rect x="244.59" y="262.31" width="3.99" height="10.18" fill="#c7c8ca"/>
<rect x="248.28" y="262.31" width="3.99" height="10.18" fill="#c7c8ca"/>
<rect x="251.97" y="262.31" width="3.99" height="10.18" fill="#c7c8ca"/>
<rect x="255.67" y="262.31" width="3.99" height="10.18" fill="#4a74c4"/>
<rect x="259.36" y="262.31" width="3.99" height="10.18" fill="#c7c8ca"/>
<rect x="263.05" y="262.31" width="3.99" height="10.18" fill="#c7c8ca"/>
<rect x="266.74" y="262.31" width="3.99" height="10.18" fill="#c7c8ca"/>
<rect x="270.44" y="262.31" width="3.99" height="10.18" fill="#c7c8ca"/>
<rect x="274.13" y="262.31" width="3.99" height="10.18" fill="#c7c8ca"/>
<rect x="277.82" y="262.31" width="3.99" height="10.18" fill="#c7c8ca"/>
<rect x="281.51" y="262.31" width="3.99" height="10.18" fill="#c7c8ca"/>
<rect x="285.21" y="262.31" width="3.99" height="10.18" fill="#c7c8ca"/>
<rect x="288.90" y="262.31" width="3.99" height="10.18" fill="#c7c8ca"/>
<rect x="292.59" y="262.31" width="3.99" height="10.18" fill="#c7c8ca"/>
<rect x="296.28" y="262.31" width="3.99" height="10.18" fill="#c7c8ca"/>
<rect x="299.98" y="262.31" width="3.99" height="10.18" fill="#c7c8ca"/>
<rect x="303.67" y="262.31" width="3.99" height="10.18" fill="#c7c8ca"/>
<rect x="307.36" y="262.31" width="3.99" height="10.18" fill="#c7c8ca"/>
<rect x="311.06" y="262.31" width="3.99" height="10.18" fill="#c7c8ca"/>
<rect x="314.75" y="262.31" width="3.99" height="10.18" fill="#c7c8ca"/>
<rect x="318.44" y="262.31" width="3.99" height="10.18" fill="#c7c8ca"/>
<rect x="322.13" y="262.31" width="3.99" height="10.18" fill="#c7c8ca"/>
<rect x="325.83" y="262.31" width="3.99" height="10.18" fill="#c7c8ca"/>
<rect x="329.52" y="262.31" width="3.99" height="10.18" fill="#4a74c4"/>
<rect x="333.21" y="262.31" width="3.99" height="10.18" fill="#c7c8ca"/>
<rect x="336.90" y="262.31" width="3.99" height="10.18" fill="#c7c8ca"/>
<rect x="340.60" y="262.31" width="3.99" height="10.18" fill="#c7c8ca"/>
<rect x="344.29" y="262.31" width="3.99" height="10.18" fill="#c7c8ca"/>
<rect x="347.98" y="262.31" width="3.99" height="10.18" fill="#c7c8ca"/>
<rect x="351.67" y="262.31" width="3.99" height="10.18" fill="#c7c8ca"/>
<rect x="355.37" y="262.31" width="3.99" height="10.18" fill="#c7c8ca"/>
<rect x="359.06" y="262.31" width="3.99" height="10.18" fill="#c7c8ca"/>
<rect x="362.75" y="262.31" width="3.99" height="10.18" fill="#c7c8ca"/>
<rect x="366.44" y="262.31" width="3.99" height="10.18" fill="#c7c8ca"/>
<rect x="370.14" y="262.31" width="3.99" height="10.18" fill="#c7c8ca"/>
<rect x="373.83" y="262.31" width="3.99" height="10.18" fill="#c7c8ca"/>
<rect x="377.52" y="262.31" width="3.99" height="10.18" fill="#c7c8ca"/>
<rect x="381.22" y="262.31" width="3.99" height="10.18" fill="#c7c8ca"/>
<rect x="384.91" y="262.31" width="3.99" height="10.18" fill="#c7c8ca"/>
<rect x="388.60" y="262.31" width="3.99" height="10.18" fill="#c7c8ca"/>
<rect x="392.29" y="262.31" width="3.99" height="10.18" fill="#c7c8ca"/>
<rect x="395.99" y="262.31" width="3.99" height="10.18" fill="#c7c8ca"/>
<rect x="399.68" y="262.31" width="3.99" height="10.18" fill="#c7c8ca"/>
<rect x="403.37" y="262.31" width="3.99" height="10.18" fill="#c7c8ca"/>
<rect x="407.06" y="262.31" width="3.99" height="10.18" fill="#c7c8ca"/>
<rect x="410.76" y="262.31" width="3.99" height="10.18" fill="#c7c8ca"/>
<rect x="414.45" y="262.31" width="3.99" height="10.18" fill="#c7c8ca"/>
<rect x="418.14" y="262.31" width="3.99" height="10.18" fill="#c7c8ca"/>
<rect x="421.83" y="262.31" width="3.99" height="10.18" fill="#c7c8ca"/>
<rect x="425.53" y="262.31" width="3.99" height="10.18" fill="#c7c8ca"/>
<rect x="429.22" y="262.31" width="3.99" height="10.18" fill="#c7c8ca"/>
<rect x="432.91" y="262.31" width="3.99" height="10.18" fill="#c7c8ca"/>
<rect x="436.61" y="262.31" width="3.99" height="10.18" fill="#c7c8ca"/>
<rect x="440.30" y="262.31" width="3.99" height="10.18" fill="#c7c8ca"/>
<rect x="443.99" y="262.31" width="3.99" height="10.18" fill="#c7c8ca"/>
<rect x="447.68" y="262.31" width="3.99" height="10.18" fill="#c7c8ca"/>
<rect x="451.38" y="262.31" width="3.99" height="10.18" fill="#c7c8ca"/>
<rect x="455.07" y="262.31" width="3.99" height="10.18" fill="#c7c8ca"/>
<rect x="458.76" y="262.31" width="3.99" height="10.18" fill="#c7c8ca"/>
<rect x="462.45" y="262.31" width="3.99" height="10.18" fill="#c7c8ca"/>
<rect x="466.15" y="262.31" width="3.99" height="10.18" fill="#c7c8ca"/>
<rect x="469.84" y="262.31" width="3.99" height="10.18" fill="#c7c8ca"/>
<rect x="473.53" y="262.31" width="3.99" height="10.18" fill="#c7c8ca"/>
<rect x="477.22" y="262.31" width="3.99" height="10.18" fill="#c7c8ca"/>
<rect x="480.92" y="262.31" width="3.99" height="10.18" fill="#c7c8ca"/>
<rect x="484.61" y="262.31" width="3.99" height="10.18" fill="#c7c8ca"/>
<rect x="488.30" y="262.31" width="3.99" height="10.18" fill="#c7c8ca"/>
<rect x="492.00" y="262.31" width="3.99" height="10.18" fill="#c7c8ca"/>
<rect x="495.69" y="262.31" width="3.99" height="10.18" fill="#c7c8ca"/>
<rect x="499.38" y="262.31" width="3.99" height="10.18" fill="#c7c8ca"/>
<rect x="503.07" y="262.31" width="3.99" height="10.18" fill="#c7c8ca"/>
<rect x="506.77" y="262.31" width="3.99" height="10.18" fill="#c7c8ca"/>
<rect x="510.46" y="262.31" width="3.99" height="10.18" fill="#c7c8ca"/>
<rect x="514.15" y="262.31" width="3.99" height="10.18" fill="#c7c8ca"/>
<rect x="517.84" y="262.31" width="3.99" height="10.18" fill="#c7c8ca"/>
<rect x="521.54" y="262.31" width="3.99" height="10.18" fill="#c7c8ca"/>
<rect x="525.23" y="262.31" width="3.99" height="10.18" fill="#c7c8ca"/>
<rect x="528.92" y="262.31" width="3.99" height="10.18" fill="#c7c8ca"/>
<rect x="532.61" y="262.31" width="3.99" height="10.18" fill="#c7c8ca"/>
<rect x="536.31" y="262.31" width="3.99" height="10.18" fill="#c7c8ca"/>
<rect x="137.50" y="272.39" width="3.99" height="10.18" fill="#dcdcdc"/>
<rect x="141.19" y="272.39" width="3.99" height="10.18" fill="#dcdcdc"/>
<rect x="144.89" y="272.39" width="3.99" height="10.18" fill="#dcdcdc"/>
<rect x="148.58" y="272.39" width="3.99" height="10.18" fill="#dcdcdc"/>
<rect x="152.27" y="272.39" width="3.99" height="10.18" fill="#dcdcdc"/>
<rect x="155.96" y="272.39" width="3.99" height="10.18" fill="#dcdcdc"/>
<rect x="159.66" y="272.39" width="3.99" height="10.18" fill="#dcdcdc"/>
<rect x="163.35" y="272.39" width="3.99" height="10.18" fill="#dcdcdc"/>
<rect x="167.04" y="272.39" width="3.99" height="10.18" fill="#dcdcdc"/>
<rect x="170.73" y="272.39" width="3.99" height="10.18" fill="#dcdcdc"/>
<rect x="174.43" y="272.39" width="3.99" height="10.18" fill="#dcdcdc"/>
<rect x="178.12" y="272.39" width="3.99" height="10.18" fill="#dcdcdc"/>
<rect x="181.81" y="272.39" width="3.99" height="10.18" fill="#dcdcdc"/>
<rect x="185.50" y="272.39" width="3.99" height="10.18" fill="#dcdcdc"/>
<rect x="189.20" y="272.39" width="3.99" height="10.18" fill="#dcdcdc"/>
<rect x="192.89" y="272.39" width="3.99" height="10.18" fill="#dcdcdc"/>
<rect x="196.58" y="272.39" width="3.99" height="10.18" fill="#dcdcdc"/>
<rect x="200.28" y="272.39" width="3.99" height="10.18" fill="#dcdcdc"/>
<rect x="203.97" y="272.39" width="3.99" height="10.18" fill="#dcdcdc"/>
<rect x="207.66" y="272.39" width="3.99" height="10.18" fill="#dcdcdc"/>
<rect x="211.35" y="272.39" width="3.99" height="10.18" fill="#dcdcdc"/>
<rect x="215.05" y="272.39" width="3.99" height="10.18" fill="#dcdcdc"/>
<rect x="218.74" y="272.39" width="3.99" height="10.18" fill="#dcdcdc"/>
<rect x="222.43" y="272.39" width="3.99" height="10.18" fill="#dcdcdc"/>
<rect x="226.12" y="272.39" width="3.99" height="10.18" fill="#dcdcdc"/>
<rect x="229.82" y="272.39" width="3.99" height="10.18" fill="#dcdcdc"/>
<rect x="233.51" y="272.39" width="3.99" height="10.18" fill="#dcdcdc"/>
<rect x="237.20" y="272.39" width="3.99" height="10.18" fill="#f89c2c"/>
<rect x="240.89" y="272.39" width="3.99" height="10.18" fill="#c5a888"/>
<rect x="244.59" y="272.39" width="3.99" height="10.18" fill="#dcdcdc"/>
<rect x="248.28" y="272.39" width="3.99" height="10.18" fill="#4a74c4"/>
<rect x="251.97" y="272.39" width="3.99" height="10.18" fill="#dcdcdc"/>
<rect x="255.67" y="272.39" width="3.99" height="10.18" fill="#dcdcdc"/>
<rect x="259.36" y="272.39" width="3.99" height="10.18" fill="#4a74c4"/>
<rect x="263.05" y="272.39" width="3.99" height="10.18" fill="#dcdcdc"/>
<rect x="266.74" y="272.39" width="3.99" height="10.18" fill="#dcdcdc"/>
<rect x="270.44" y="272.39" width="3.99" height="10.18" fill="#dcdcdc"/>
<rect x="274.13" y="272.39" width="3.99" height="10.18" fill="#dcdcdc"/>
<rect x="277.82" y="272.39" width="3.99" height="10.18" fill="#dcdcdc"/>
<rect x="281.51" y="272.39" width="3.99" height="10.18" fill="#4a74c4"/>
<rect x="285.21" y="272.39" width="3.99" height="10.18" fill="#dcdcdc"/>
<rect x="288.90" y="272.39" width="3.99" height="10.18" fill="#dcdcdc"/>
<rect x="292.59" y="272.39" width="3.99" height="10.18" fill="#dcdcdc"/>
<rect x="296.28" y="272.39" width="3.99" height="10.18" fill="#dcdcdc"/>
<rect x="299.98" y="272.39" width="3.99" height="10.18" fill="#dcdcdc"/>
<rect x="303.67" y="272.39" width="3.99" height="10.18" fill="#dcdcdc"/>
<rect x="307.36" y="272.39" width="3.99" height="10.18" fill="#dcdcdc"/>
<rect x="311.06" y="272.39" width="3.99" height="10.18" fill="#dcdcdc"/>
<rect x="314.75" y="272.39" width="3.99" height="10.18" fill="#dcdcdc"/>
<rect x="318.44" y="272.39" width="3.99" height="10.18" fill="#dcdcdc"/>
<rect x="322.13" y="272.39" width="3.99" height="10.18" fill="#dcdcdc"/>
<rect x="325.83" y="272.39" width="3.99" height="10.18" fill="#dcdcdc"/>
<rect x="329.52" y="272.39" width="3.99" height="10.18" fill="#dcdcdc"/>
<rect x="333.21" y="272.39" width="3.99" height="10.18" fill="#4a74c4"/>
<rect x="336.90" y="272.39" width="3.99" height="10.18" fill="#dcdcdc"/>
<rect x="340.60" y="272.39" width="3.99" height="10.18" fill="#4a74c4"/>
<rect x="344.29" y="272.39" width="3.99" height="10.18" fill="#dcdcdc"/>
<rect x="347.98" y="272.39" width="3.99" height="10.18" fill="#dcdcdc"/>
<rect x="351.67" y="272.39" width="3.99" height="10.18" fill="#dcdcdc"/>
<rect x="355.37" y="272.39" width="3.99" height="10.18" fill="#dcdcdc"/>
<rect x="359.06" y="272.39" width="3.99" height="10.18" fill="#dcdcdc"/>
<rect x="362.75" y="272.39" width="3.99" height="10.18" fill="#dcdcdc"/>
<rect x="366.44" y="272.39" width="3.99" height="10.18" fill="#dcdcdc"/>
<rect x="370.14" y="272.39" width="3.99" height="10.18" fill="#dcdcdc"/>
<rect x="373.83" y="272.39" width="3.99" height="10.18" fill="#dcdcdc"/>
<rect x="377.52" y="272.39" width="3.99" height="10.18" fill="#dcdcdc"/>
<rect x="381.22" y="272.39" width="3.99" height="10.18" fill="#dcdcdc"/>
<rect x="384.91" y="272.39" width="3.99" height="10.18" fill="#dcdcdc"/>
<rect x="388.60" y="272.39" width="3.99" height="10.18" fill="#dcdcdc"/>
<rect x="392.29" y="272.39" width="3.99" height="10.18" fill="#dcdcdc"/>
<rect x="395.99" y="272.39" width="3.99" height="10.18" fill="#dcdcdc"/>
<rect x="399.68" y="272.39" width="3.99" height="10.18" fill="#dcdcdc"/>
<rect x="403.37" y="272.39" width="3.99" height="10.18" fill="#dcdcdc"/>
<rect x="407.06" y="272.39" width="3.99" height="10.18" fill="#dcdcdc"/>
<rect x="410.76" y="272.39" width="3.99" height="10.18" fill="#dcdcdc"/>
<rect x="414.45" y="272.39" width="3.99" height="10.18" fill="#dcdcdc"/>
<rect x="418.14" y="272.39" width="3.99" height="10.18" fill="#dcdcdc"/>
<rect x="421.83" y="272.39" width="3.99" height="10.18" fill="#dcdcdc"/>
<rect x="425.53" y="272.39" width="3.99" height="10.18" fill="#dcdcdc"/>
<rect x="429.22" y="272.39" width="3.99" height="10.18" fill="#dcdcdc"/>
<rect x="432.91" y="272.39" width="3.99" height="10.18" fill="#dcdcdc"/>
<rect x="436.61" y="272.39" width="3.99" height="10.18" fill="#dcdcdc"/>
<rect x="440.30" y="272.39" width="3.99" height="10.18" fill="#dcdcdc"/>
<rect x="443.99" y="272.39" width="3.99" height="10.18" fill="#dcdcdc"/>
<rect x="447.68" y="272.39" width="3.99" height="10.18" fill="#dcdcdc"/>
<rect x="451.38" y="272.39" width="3.99" height="10.18" fill="#dcdcdc"/>
<rect x="455.07" y="272.39" width="3.99" height="10.18" fill="#dcdcdc"/>
<rect x="458.76" y="272.39" width="3.99" height="10.18" fill="#dcdcdc"/>
<rect x="462.45" y="272.39" width="3.99" height="10.18" fill="#dcdcdc"/>
<rect x="466.15" y="272.39" width="3.99" height="10.18" fill="#dcdcdc"/>
<rect x="469.84" y="272.39" width="3.99" height="10.18" fill="#dcdcdc"/>
<rect x="473.53" y="272.39" width="3.99" height="10.18" fill="#dcdcdc"/>
<rect x="477.22" y="272.39" width="3.99" height="10.18" fill="#dcdcdc"/>
<rect x="480.92" y="272.39" width="3.99" height="10.18" fill="#dcdcdc"/>
<rect x="484.61" y="272.39" width="3.99" height="10.18" fill="#dcdcdc"/>
<rect x="488.30" y="272.39" width="3.99" height="10.18" fill="#dcdcdc"/>
<rect x="492.00" y="272.39" width="3.99" height="10.18" fill="#dcdcdc"/>
<rect x="495.69" y="272.39" width="3.99" height="10.18" fill="#dcdcdc"/>
<rect x="499.38" y="272.39" width="3.99" height="10.18" fill="#dcdcdc"/>
<rect x="503.07" y="272.39" width="3.99" height="10.18" fill="#dcdcdc"/>
<rect x="506.77" y="272.39" width="3.99" height="10.18" fill="#dcdcdc"/>
<rect x="510.46" y="272.39" width="3.99" height="10.18" fill="#dcdcdc"/>
<rect x="514.15" y="272.39" width="3.99" height="10.18" fill="#dcdcdc"/>
<rect x="517.84" y="272.39" width="3.99" height="10.18" fill="#dcdcdc"/>
<rect x="521.54" y="272.39" width="3.99" height="10.18" fill="#dcdcdc"/>
<rect x="525.23" y="272.39" width="3.99" height="10.18" fill="#dcdcdc"/>
<rect x="528.92" y="272.39" width="3.99" height="10.18" fill="#dcdcdc"/>
<rect x="532.61" y="272.39" width="3.99" height="10.18" fill="#dcdcdc"/>
<rect x="536.31" y="272.39" width="3.99" height="10.18" fill="#dcdcdc"/>
<rect x="137.50" y="282.48" width="3.99" height="10.18" fill="#dcdcdc"/>
<rect x="141.19" y="282.48" width="3.99" height="10.18" fill="#dcdcdc"/>
<rect x="144.89" y="282.48" width="3.99" height="10.18" fill="#dcdcdc"/>
<rect x="148.58" y="282.48" width="3.99" height="10.18" fill="#dcdcdc"/>
<rect x="152.27" y="282.48" width="3.99" height="10.18" fill="#dcdcdc"/>
<rect x="155.96" y="282.48" width="3.99" height="10.18" fill="#dcdcdc"/>
<rect x="159.66" y="282.48" width="3.99" height="10.18" fill="#dcdcdc"/>
<rect x="163.35" y="282.48" width="3.99" height="10.18" fill="#dcdcdc"/>
<rect x="167.04" y="282.48" width="3.99" height="10.18" fill="#dcdcdc"/>
<rect x="170.73" y="282.48" width="3.99" height="10.18" fill="#dcdcdc"/>
<rect x="174.43" y="282.48" width="3.99" height="10.18" fill="#dcdcdc"/>
<rect x="178.12" y="282.48" width="3.99" height="10.18" fill="#dcdcdc"/>
<rect x="181.81" y="282.48" width="3.99" height="10.18" fill="#4a74c4"/>
<rect x="185.50" y="282.48" width="3.99" height="10.18" fill="#dcdcdc"/>
<rect x="189.20" y="282.48" width="3.99" height="10.18" fill="#dcdcdc"/>
<rect x="192.89" y="282.48" width="3.99" height="10.18" fill="#dcdcdc"/>
<rect x="196.58" y="282.48" width="3.99" height="10.18" fill="#dcdcdc"/>
<rect x="200.28" y="282.48" width="3.99" height="10.18" fill="#dcdcdc"/>
<rect x="203.97" y="282.48" width="3.99" height="10.18" fill="#dcdcdc"/>
<rect x="207.66" y="282.48" width="3.99" height="10.18" fill="#dcdcdc"/>
<rect x="211.35" y="282.48" width="3.99" height="10.18" fill="#dcdcdc"/>
<rect x="215.05" y="282.48" width="3.99" height="10.18" fill="#dcdcdc"/>
<rect x="218.74" y="282.48" width="3.99" height="10.18" fill="#dcdcdc"/>
<rect x="222.43" y="282.48" width="3.99" height="10.18" fill="#4a74c4"/>
<rect x="226.12" y="282.48" width="3.99" height="10.18" fill="#4a74c4"/>
<rect x="229.82" y="282.48" width="3.99" height="10.18" fill="#dcdcdc"/>
<rect x="233.51" y="282.48" width="3.99" height="10.18" fill="#dcdcdc"/>
<rect x="237.20" y="282.48" width="3.99" height="10.18" fill="#dcdcdc"/>
<rect x="240.89" y="282.48" width="3.99" height="10.18" fill="#dcdcdc"/>
<rect x="244.59" y="282.48" width="3.99" height="10.18" fill="#dcdcdc"/>
<rect x="248.28" y="282.48" width="3.99" height="10.18" fill="#dcdcdc"/>
<rect x="251.97" y="282.48" width="3.99" height="10.18" fill="#dcdcdc"/>
<rect x="255.67" y="282.48" width="3.99" height="10.18" fill="#dcdcdc"/>
<rect x="259.36" y="282.48" width="3.99" height="10.18" fill="#dcdcdc"/>
<rect x="263.05" y="282.48" width="3.99" height="10.18" fill="#dcdcdc"/>
<rect x="266.74" y="282.48" width="3.99" height="10.18" fill="#dcdcdc"/>
<rect x="270.44" y="282.48" width="3.99" height="10.18" fill="#dcdcdc"/>
<rect x="274.13" y="282.48" width="3.99" height="10.18" fill="#dcdcdc"/>
<rect x="277.82" y="282.48" width="3.99" height="10.18" fill="#dcdcdc"/>
<rect x="281.51" y="282.48" width="3.99" height="10.18" fill="#dcdcdc"/>
<rect x="285.21" y="282.48" width="3.99" height="10.18" fill="#4a74c4"/>
<rect x="288.90" y="282.48" width="3.99" height="10.18" fill="#dcdcdc"/>
<rect x="292.59" y="282.48" width="3.99" height="10.18" fill="#dcdcdc"/>
<rect x="296.28" y="282.48" width="3.99" height="10.18" fill="#dcdcdc"/>
<rect x="299.98" y="282.48" width="3.99" height="10.18" fill="#dcdcdc"/>
<rect x="303.67" y="282.48" width="3.99" height="10.18" fill="#dcdcdc"/>
<rect x="307.36" y="282.48" width="3.99" height="10.18" fill="#dcdcdc"/>
<rect x="311.06" y="282.48" width="3.99" height="10.18" fill="#dcdcdc"/>
<rect x="314.75" y="282.48" width="3.99" height="10.18" fill="#dcdcdc"/>
<rect x="318.44" y="282.48" width="3.99" height="10.18" fill="#dcdcdc"/>
<rect x="322.13" y="282.48" width="3.99" height="10.18" fill="#dcdcdc"/>
<rect x="325.83" y="282.48" width="3.99" height="10.18" fill="#dcdcdc"/>
<rect x="329.52" y="282.48" width="3.99" height="10.18" fill="#dcdcdc"/>
<rect x="333.21" y="282.48" width="3.99" height="10.18" fill="#dcdcdc"/>
<rect x="336.90" y="282.48" width="3.99" height="10.18" fill="#dcdcdc"/>
<rect x="340.60" y="282.48" width="3.99" height="10.18" fill="#dcdcdc"/>
<rect x="344.29" y="282.48" width="3.99" height="10.18" fill="#dcdcdc"/>
<rect x="347.98" y="282.48" width="3.99" height="10.18" fill="#dcdcdc"/>
<rect x="351.67" y="282.48" width="3.99" height="10.18" fill="#dcdcdc"/>
<rect x="355.37" y="282.48" width="3.99" height="10.18" fill="#dcdcdc"/>
<rect x="359.06" y="282.48" width="3.99" height="10.18" fill="#dcdcdc"/>
<rect x="362.75" y="282.48" width="3.99" height="10.18" fill="#4a74c4"/>
<rect x="366.44" y="282.48" width="3.99" height="10.18" fill="#dcdcdc"/>
<rect x="370.14" y="282.48" width="3.99" height="10.18" fill="#dcdcdc"/>
<rect x="373.83" y="282.48" width="3.99" height="10.18" fill="#dcdcdc"/>
<rect x="377.52" y="282.48" width="3.99" height="10.18" fill="#dcdcdc"/>
<rect x="381.22" y="282.48" width="3.99" height="10.18" fill="#dcdcdc"/>
<rect x="384.91" y="282.48" width="3.99" height="10.18" fill="#dcdcdc"/>
<rect x="388.60" y="282.48" width="3.99" height="10.18" fill="#dcdcdc"/>
<rect x="392.29" y="282.48" width="3.99" height="10.18" fill="#dcdcdc"/>
<rect x="395.99" y="282.48" width="3.99" height="10.18" fill="#dcdcdc"/>
<rect x="399.68" y="282.48" width="3.99" height="10.18" fill="#dcdcdc"/>
<rect x="403.37" y="282.48" width="3.99" height="10.18" fill="#dcdcdc"/>
<rect x="407.06" y="282.48" width="3.99" height="10.18" fill="#dcdcdc"/>
<rect x="410.76" y="282.48" width="3.99" height="10.18" fill="#dcdcdc"/>
<rect x="414.45" y="282.48" width="3.99" height="10.18" fill="#dcdcdc"/>
<rect x="418.14" y="282.48" width="3.99" height="10.18" fill="#dcdcdc"/>
<rect x="421.83" y="282.48" width="3.99" height="10.18" fill="#dcdcdc"/>
<rect x="425.53" y="282.48" width="3.99" height="10.18" fill="#dcdcdc"/>
<rect x="429.22" y="282.48" width="3.99" height="10.18" fill="#dcdcdc"/>
<rect x="432.91" y="282.48" width="3.99" height="10.18" fill="#dcdcdc"/>
<rect x="436.61" y="282.48" width="3.99" height="10.18" fill="#dcdcdc"/>
<rect x="440.30" y="282.48" width="3.99" height="10.18" fill="#dcdcdc"/>
<rect x="443.99" y="282.48" width="3.99" height="10.18" fill="#dcdcdc"/>
<rect x="447.68" y="282.48" width="3.99" height="10.18" fill="#dcdcdc"/>
<rect x="451.38" y="282.48" width="3.99" height="10.18" fill="#dcdcdc"/>
<rect x="455.07" y="282.48" width="3.99" height="10.18" fill="#4a74c4"/>
<rect x="458.76" y="282.48" width="3.99" height="10.18" fill="#dcdcdc"/>
<rect x="462.45" y="282.48" width="3.99" height="10.18" fill="#dcdcdc"/>
<rect x="466.15" y="282.48" width="3.99" height="10.18" fill="#dcdcdc"/>
<rect x="469.84" y="282.48" width="3.99" height="10.18" fill="#dcdcdc"/>
<rect x="473.53" y="282.48" width="3.99" height="10.18" fill="#dcdcdc"/>
<rect x="477.22" y="282.48" width="3.99" height="10.18" fill="#dcdcdc"/>
<rect x="480.92" y="282.48" width="3.99" height="10.18" fill="#dcdcdc"/>
<rect x="484.61" y="282.48" width="3.99" height="10.18" fill="#dcdcdc"/>
<rect x="488.30" y="282.48" width="3.99" height="10.18" fill="#dcdcdc"/>
<rect x="492.00" y="282.48" width="3.99" height="10.18" fill="#dcdcdc"/>
<rect x="495.69" y="282.48" width="3.99" height="10.18" fill="#dcdcdc"/>
<rect x="499.38" y="282.48" width="3.99" height="10.18" fill="#dcdcdc"/>
<rect x="503.07" y="282.48" width="3.99" height="10.18" fill="#dcdcdc"/>
<rect x="506.77" y="282.48" width="3.99" height="10.18" fill="#dcdcdc"/>
<rect x="510.46" y="282.48" width="3.99" height="10.18" fill="#dcdcdc"/>
<rect x="514.15" y="282.48" width="3.99" height="10.18" fill="#dcdcdc"/>
<rect x="517.84" y="282.48" width="3.99" height="10.18" fill="#dcdcdc"/>
<rect x="521.54" y="282.48" width="3.99" height="10.18" fill="#dcdcdc"/>
<rect x="525.23" y="282.48" width="3.99" height="10.18" fill="#dcdcdc"/>
<rect x="528.92" y="282.48" width="3.99" height="10.18" fill="#dcdcdc"/>
<rect x="532.61" y="282.48" width="3.99" height="10.18" fill="#dcdcdc"/>
<rect x="536.31" y="282.48" width="3.99" height="10.18" fill="#dcdcdc"/>
<rect x="137.50" y="292.56" width="3.99" height="10.18" fill="#dcdcdc"/>
<rect x="141.19" y="292.56" width="3.99" height="10.18" fill="#dcdcdc"/>
<rect x="144.89" y="292.56" width="3.99" height="10.18" fill="#dcdcdc"/>
<rect x="148.58" y="292.56" width="3.99" height="10.18" fill="#2352a6"/>
<rect x="152.27" y="292.56" width="3.99" height="10.18" fill="#dcdcdc"/>
<rect x="155.96" y="292.56" width="3.99" height="10.18" fill="#dcdcdc"/>
<rect x="159.66" y="292.56" width="3.99" height="10.18" fill="#dcdcdc"/>
<rect x="163.35" y="292.56" width="3.99" height="10.18" fill="#dcdcdc"/>
<rect x="167.04" y="292.56" width="3.99" height="10.18" fill="#dcdcdc"/>
<rect x="170.73" y="292.56" width="3.99" height="10.18" fill="#dcdcdc"/>
<rect x="174.43" y="292.56" width="3.99" height="10.18" fill="#dcdcdc"/>
<rect x="178.12" y="292.56" width="3.99" height="10.18" fill="#dcdcdc"/>
<rect x="181.81" y="292.56" width="3.99" height="10.18" fill="#dcdcdc"/>
<rect x="185.50" y="292.56" width="3.99" height="10.18" fill="#dcdcdc"/>
<rect x="189.20" y="292.56" width="3.99" height="10.18" fill="#dcdcdc"/>
<rect x="192.89" y="292.56" width="3.99" height="10.18" fill="#dcdcdc"/>
<rect x="196.58" y="292.56" width="3.99" height="10.18" fill="#dcdcdc"/>
<rect x="200.28" y="292.56" width="3.99" height="10.18" fill="#dcdcdc"/>
<rect x="203.97" y="292.56" width="3.99" height="10.18" fill="#dcdcdc"/>
<rect x="207.66" y="292.56" width="3.99" height="10.18" fill="#dcdcdc"/>
<rect x="211.35" y="292.56" width="3.99" height="10.18" fill="#2352a6"/>
<rect x="215.05" y="292.56" width="3.99" height="10.18" fill="#dcdcdc"/>
<rect x="218.74" y="292.56" width="3.99" height="10.18" fill="#dcdcdc"/>
<rect x="222.43" y="292.56" width="3.99" height="10.18" fill="#dcdcdc"/>
<rect x="226.12" y="292.56" width="3.99" height="10.18" fill="#dcdcdc"/>
<rect x="229.82" y="292.56" width="3.99" height="10.18" fill="#dcdcdc"/>
<rect x="233.51" y="292.56" width="3.99" height="10.18" fill="#dcdcdc"/>
<rect x="237.20" y="292.56" width="3.99" height="10.18" fill="#dcdcdc"/>
<rect x="240.89" y="292.56" width="3.99" height="10.18" fill="#dcdcdc"/>
<rect x="244.59" y="292.56" width="3.99" height="10.18" fill="#dcdcdc"/>
<rect x="248.28" y="292.56" width="3.99" height="10.18" fill="#dcdcdc"/>
<rect x="251.97" y="292.56" width="3.99" height="10.18" fill="#dcdcdc"/>
<rect x="255.67" y="292.56" width="3.99" height="10.18" fill="#2352a6"/>
<rect x="259.36" y="292.56" width="3.99" height="10.18" fill="#dcdcdc"/>
<rect x="263.05" y="292.56" width="3.99" height="10.18" fill="#dcdcdc"/>
<rect x="266.74" y="292.56" width="3.99" height="10.18" fill="#dcdcdc"/>
<rect x="270.44" y="292.56" width="3.99" height="10.18" fill="#dcdcdc"/>
<rect x="274.13" y="292.56" width="3.99" height="10.18" fill="#dcdcdc"/>
<rect x="277.82" y="292.56" width="3.99" height="10.18" fill="#dcdcdc"/>
<rect x="281.51" y="292.56" width="3.99" height="10.18" fill="#dcdcdc"/>
<rect x="285.21" y="292.56" width="3.99" height="10.18" fill="#dcdcdc"/>
<rect x="288.90" y="292.56" width="3.99" height="10.18" fill="#dcdcdc"/>
<rect x="292.59" y="292.56" width="3.99" height="10.18" fill="#dcdcdc"/>
<rect x="296.28" y="292.56" width="3.99" height="10.18" fill="#dcdcdc"/>
<rect x="299.98" y="292.56" width="3.99" height="10.18" fill="#dcdcdc"/>
<rect x="303.67" y="292.56" width="3.99" height="10.18" fill="#dcdcdc"/>
<rect x="307.36" y="292.56" width="3.99" height="10.18" fill="#dcdcdc"/>
<rect x="311.06" y="292.56" width="3.99" height="10.18" fill="#dcdcdc"/>
<rect x="314.75" y="292.56" width="3.99" height="10.18" fill="#dcdcdc"/>
<rect x="318.44" y="292.56" width="3.99" height="10.18" fill="#dcdcdc"/>
<rect x="322.13" y="292.56" width="3.99" height="10.18" fill="#dcdcdc"/>
<rect x="325.83" y="292.56" width="3.99" height="10.18" fill="#dcdcdc"/>
<rect x="329.52" y="292.56" width="3.99" height="10.18" fill="#dcdcdc"/>
<rect x="333.21" y="292.56" width="3.99" height="10.18" fill="#dcdcdc"/>
<rect x="336.90" y="292.56" width="3.99" height="10.18" fill="#dcdcdc"/>
<rect x="340.60" y="292.56" width="3.99" height="10.18" fill="#dcdcdc"/>
<rect x="344.29" y="292.56" width="3.99" height="10.18" fill="#dcdcdc"/>
<rect x="347.98" y="292.56" width="3.99" height="10.18" fill="#dcdcdc"/>
<rect x="351.67" y="292.56" width="3.99" height="10.18" fill="#dcdcdc"/>
<rect x="355.37" y="292.56" width="3.99" height="10.18" fill="#dcdcdc"/>
<rect x="359.06" y="292.56" width="3.99" height="10.18" fill="#dcdcdc"/>
<rect x="362.75" y="292.56" width="3.99" height="10.18" fill="#dcdcdc"/>
<rect x="366.44" y="292.56" width="3.99" height="10.18" fill="#dcdcdc"/>
<rect x="370.14" y="292.56" width="3.99" height="10.18" fill="#dcdcdc"/>
<rect x="373.83" y="292.56" width="3.99" height="10.18" fill="#dcdcdc"/>
<rect x="377.52" y="292.56" width="3.99" height="10.18" fill="#dcdcdc"/>
<rect x="381.22" y="292.56" width="3.99" height="10.18" fill="#dcdcdc"/>
<rect x="384.91" y="292.56" width="3.99" height="10.18" fill="#dcdcdc"/>
<rect x="388.60" y="292.56" width="3.99" height="10.18" fill="#dcdcdc"/>
<rect x="392.29" y="292.56" width="3.99" height="10.18" fill="#dcdcdc"/>
<rect x="395.99" y="292.56" width="3.99" height="10.18" fill="#dcdcdc"/>
<rect x="399.68" y="292.56" width="3.99" height="10.18" fill="#dcdcdc"/>
<rect x="403.37" y="292.56" width="3.99" height="10.18" fill="#dcdcdc"/>
<rect x="407.06" y="292.56" width="3.99" height="10.18" fill="#dcdcdc"/>
<rect x="410.76" y="292.56" width="3.99" height="10.18" fill="#dcdcdc"/>
<rect x="414.45" y="292.56" width="3.99" height="10.18" fill="#dcdcdc"/>
<rect x="418.14" y="292.56" width="3.99" height="10.18" fill="#dcdcdc"/>
<rect x="421.83" y="292.56" width="3.99" height="10.18" fill="#dcdcdc"/>
<rect x="425.53" y="292.56" width="3.99" height="10.18" fill="#dcdcdc"/>
<rect x="429.22" y="292.56" width="3.99" height="10.18" fill="#dcdcdc"/>
<rect x="432.91" y="292.56" width="3.99" height="10.18" fill="#dcdcdc"/>
<rect x="436.61" y="292.56" width="3.99" height="10.18" fill="#dcdcdc"/>
<rect x="440.30" y="292.56" width="3.99" height="10.18" fill="#dcdcdc"/>
<rect x="443.99" y="292.56" width="3.99" height="10.18" fill="#dcdcdc"/>
<rect x="447.68" y="292.56" width="3.99" height="10.18" fill="#dcdcdc"/>
<rect x="451.38" y="292.56" width="3.99" height="10.18" fill="#dcdcdc"/>
<rect x="455.07" y="292.56" width="3.99" height="10.18" fill="#dcdcdc"/>
<rect x="458.76" y="292.56" width="3.99" height="10.18" fill="#dcdcdc"/>
<rect x="462.45" y="292.56" width="3.99" height="10.18" fill="#dcdcdc"/>
<rect x="466.15" y="292.56" width="3.99" height="10.18" fill="#dcdcdc"/>
<rect x="469.84" y="292.56" width="3.99" height="10.18" fill="#dcdcdc"/>
<rect x="473.53" y="292.56" width="3.99" height="10.18" fill="#dcdcdc"/>
<rect x="477.22" y="292.56" width="3.99" height="10.18" fill="#dcdcdc"/>
<rect x="480.92" y="292.56" width="3.99" height="10.18" fill="#dcdcdc"/>
<rect x="484.61" y="292.56" width="3.99" height="10.18" fill="#dcdcdc"/>
<rect x="488.30" y="292.56" width="3.99" height="10.18" fill="#dcdcdc"/>
<rect x="492.00" y="292.56" width="3.99" height="10.18" fill="#dcdcdc"/>
<rect x="495.69" y="292.56" width="3.99" height="10.18" fill="#dcdcdc"/>
<rect x="499.38" y="292.56" width="3.99" height="10.18" fill="#dcdcdc"/>
<rect x="503.07" y="292.56" width="3.99" height="10.18" fill="#dcdcdc"/>
<rect x="506.77" y="292.56" width="3.99" height="10.18" fill="#dcdcdc"/>
<rect x="510.46" y="292.56" width="3.99" height="10.18" fill="#dcdcdc"/>
<rect x="514.15" y="292.56" width="3.99" height="10.18" fill="#dcdcdc"/>
<rect x="517.84" y="292.56" width="3.99" height="10.18" fill="#dcdcdc"/>
<rect x="521.54" y="292.56" width="3.99" height="10.18" fill="#dcdcdc"/>
<rect x="525.23" y="292.56" width="3.99" height="10.18" fill="#dcdcdc"/>
<rect x="528.92" y="292.56" width="3.99" height="10.18" fill="#dcdcdc"/>
<rect x="532.61" y="292.56" width="3.99" height="10.18" fill="#dcdcdc"/>
<rect x="536.31" y="292.56" width="3.99" height="10.18" fill="#dcdcdc"/>
<rect x="137.50" y="302.64" width="3.99" height="10.18" fill="#c7c8ca"/>
<rect x="141.19" y="302.64" width="3.99" height="10.18" fill="#4a74c4"/>
<rect x="144.89" y="302.64" width="3.99" height="10.18" fill="#c7c8ca"/>
<rect x="148.58" y="302.64" width="3.99" height="10.18" fill="#4a74c4"/>
<rect x="152.27" y="302.64" width="3.99" height="10.18" fill="#4a74c4"/>
<rect x="155.96" y="302.64" width="3.99" height="10.18" fill="#c7c8ca"/>
<rect x="159.66" y="302.64" width="3.99" height="10.18" fill="#c7c8ca"/>
<rect x="163.35" y="302.64" width="3.99" height="10.18" fill="#4a74c4"/>
<rect x="167.04" y="302.64" width="3.99" height="10.18" fill="#4a74c4"/>
<rect x="170.73" y="302.64" width="3.99" height="10.18" fill="#c7c8ca"/>
<rect x="174.43" y="302.64" width="3.99" height="10.18" fill="#c7c8ca"/>
<rect x="178.12" y="302.64" width="3.99" height="10.18" fill="#c7c8ca"/>
<rect x="181.81" y="302.64" width="3.99" height="10.18" fill="#c7c8ca"/>
<rect x="185.50" y="302.64" width="3.99" height="10.18" fill="#4a74c4"/>
<rect x="189.20" y="302.64" width="3.99" height="10.18" fill="#4a74c4"/>
<rect x="192.89" y="302.64" width="3.99" height="10.18" fill="#4a74c4"/>
<rect x="196.58" y="302.64" width="3.99" height="10.18" fill="#c7c8ca"/>
<rect x="200.28" y="302.64" width="3.99" height="10.18" fill="#c7c8ca"/>
<rect x="203.97" y="302.64" width="3.99" height="10.18" fill="#4a74c4"/>
<rect x="207.66" y="302.64" width="3.99" height="10.18" fill="#4a74c4"/>
<rect x="211.35" y="302.64" width="3.99" height="10.18" fill="#c7c8ca"/>
<rect x="215.05" y="302.64" width="3.99" height="10.18" fill="#4a74c4"/>
<rect x="218.74" y="302.64" width="3.99" height="10.18" fill="#4a74c4"/>
<rect x="222.43" y="302.64" width="3.99" height="10.18" fill="#c7c8ca"/>
<rect x="226.12" y="302.64" width="3.99" height="10.18" fill="#c7c8ca"/>
<rect x="229.82" y="302.64" width="3.99" height="10.18" fill="#c7c8ca"/>
<rect x="233.51" y="302.64" width="3.99" height="10.18" fill="#4a74c4"/>
<rect x="237.20" y="302.64" width="3.99" height="10.18" fill="#c7c8ca"/>
<rect x="240.89" y="302.64" width="3.99" height="10.18" fill="#36893f"/>
<rect x="244.59" y="302.64" width="3.99" height="10.18" fill="#4a74c4"/>
<rect x="248.28" y="302.64" width="3.99" height="10.18" fill="#4a74c4"/>
<rect x="251.97" y="302.64" width="3.99" height="10.18" fill="#4a74c4"/>
<rect x="255.67" y="302.64" width="3.99" height="10.18" fill="#4a74c4"/>
<rect x="259.36" y="302.64" width="3.99" height="10.18" fill="#4a74c4"/>
<rect x="263.05" y="302.64" width="3.99" height="10.18" fill="#c7c8ca"/>
<rect x="266.74" y="302.64" width="3.99" height="10.18" fill="#c7c8ca"/>
<rect x="270.44" y="302.64" width="3.99" height="10.18" fill="#c7c8ca"/>
<rect x="274.13" y="302.64" width="3.99" height="10.18" fill="#7650a8"/>
<rect x="277.82" y="302.64" width="3.99" height="10.18" fill="#4a74c4"/>
<rect x="281.51" y="302.64" width="3.99" height="10.18" fill="#4a74c4"/>
<rect x="285.21" y="302.64" width="3.99" height="10.18" fill="#c7c8ca"/>
<rect x="288.90" y="302.64" width="3.99" height="10.18" fill="#4a74c4"/>
<rect x="292.59" y="302.64" width="3.99" height="10.18" fill="#c7c8ca"/>
<rect x="296.28" y="302.64" width="3.99" height="10.18" fill="#c7c8ca"/>
<rect x="299.98" y="302.64" width="3.99" height="10.18" fill="#c7c8ca"/>
<rect x="303.67" y="302.64" width="3.99" height="10.18" fill="#7650a8"/>
<rect x="307.36" y="302.64" width="3.99" height="10.18" fill="#c7c8ca"/>
<rect x="311.06" y="302.64" width="3.99" height="10.18" fill="#c7c8ca"/>
<rect x="314.75" y="302.64" width="3.99" height="10.18" fill="#c7c8ca"/>
<rect x="318.44" y="302.64" width="3.99" height="10.18" fill="#c7c8ca"/>
<rect x="322.13" y="302.64" width="3.99" height="10.18" fill="#c7c8ca"/>
<rect x="325.83" y="302.64" width="3.99" height="10.18" fill="#c7c8ca"/>
<rect x="329.52" y="302.64" width="3.99" height="10.18" fill="#c7c8ca"/>
<rect x="333.21" y="302.64" width="3.99" height="10.18" fill="#c5a888"/>
<rect x="336.90" y="302.64" width="3.99" height="10.18" fill="#c7c8ca"/>
<rect x="340.60" y="302.64" width="3.99" height="10.18" fill="#4a74c4"/>
<rect x="344.29" y="302.64" width="3.99" height="10.18" fill="#c7c8ca"/>
<rect x="347.98" y="302.64" width="3.99" height="10.18" fill="#c7c8ca"/>
<rect x="351.67" y="302.64" width="3.99" height="10.18" fill="#c7c8ca"/>
<rect x="355.37" y="302.64" width="3.99" height="10.18" fill="#c7c8ca"/>
<rect x="359.06" y="302.64" width="3.99" height="10.18" fill="#c7c8ca"/>
<rect x="362.75" y="302.64" width="3.99" height="10.18" fill="#c7c8ca"/>
<rect x="366.44" y="302.64" width="3.99" height="10.18" fill="#c7c8ca"/>
<rect x="370.14" y="302.64" width="3.99" height="10.18" fill="#c7c8ca"/>
<rect x="373.83" y="302.64" width="3.99" height="10.18" fill="#c7c8ca"/>
<rect x="377.52" y="302.64" width="3.99" height="10.18" fill="#c7c8ca"/>
<rect x="381.22" y="302.64" width="3.99" height="10.18" fill="#c7c8ca"/>
<rect x="384.91" y="302.64" width="3.99" height="10.18" fill="#c7c8ca"/>
<rect x="388.60" y="302.64" width="3.99" height="10.18" fill="#c7c8ca"/>
<rect x="392.29" y="302.64" width="3.99" height="10.18" fill="#c7c8ca"/>
<rect x="395.99" y="302.64" width="3.99" height="10.18" fill="#c7c8ca"/>
<rect x="399.68" y="302.64" width="3.99" height="10.18" fill="#c7c8ca"/>
<rect x="403.37" y="302.64" width="3.99" height="10.18" fill="#c7c8ca"/>
<rect x="407.06" y="302.64" width="3.99" height="10.18" fill="#c7c8ca"/>
<rect x="410.76" y="302.64" width="3.99" height="10.18" fill="#c7c8ca"/>
<rect x="414.45" y="302.64" width="3.99" height="10.18" fill="#c7c8ca"/>
<rect x="418.14" y="302.64" width="3.99" height="10.18" fill="#c7c8ca"/>
<rect x="421.83" y="302.64" width="3.99" height="10.18" fill="#c7c8ca"/>
<rect x="425.53" y="302.64" width="3.99" height="10.18" fill="#c7c8ca"/>
<rect x="429.22" y="302.64" width="3.99" height="10.18" fill="#c7c8ca"/>
<rect x="432.91" y="302.64" width="3.99" height="10.18" fill="#c7c8ca"/>
<rect x="436.61" y="302.64" width="3.99" height="10.18" fill="#c7c8ca"/>
<rect x="440.30" y="302.64" width="3.99" height="10.18" fill="#c7c8ca"/>
<rect x="443.99" y="302.64" width="3.99" height="10.18" fill="#c7c8ca"/>
<rect x="447.68" y="302.64" width="3.99" height="10.18" fill="#c7c8ca"/>
<rect x="451.38" y="302.64" width="3.99" height="10.18" fill="#c7c8ca"/>
<rect x="455.07" y="302.64" width="3.99" height="10.18" fill="#c7c8ca"/>
<rect x="458.76" y="302.64" width="3.99" height="10.18" fill="#c7c8ca"/>
<rect x="462.45" y="302.64" width="3.99" height="10.18" fill="#c7c8ca"/>
<rect x="466.15" y="302.64" width="3.99" height="10.18" fill="#c7c8ca"/>
<rect x="469.84" y="302.64" width="3.99" height="10.18" fill="#c7c8ca"/>
<rect x="473.53" y="302.64" width="3.99" height="10.18" fill="#c7c8ca"/>
<rect x="477.22" y="302.64" width="3.99" height="10.18" fill="#c7c8ca"/>
<rect x="480.92" y="302.64" width="3.99" height="10.18" fill="#c7c8ca"/>
<rect x="484.61" y="302.64" width="3.99" height="10.18" fill="#c7c8ca"/>
<rect x="488.30" y="302.64" width="3.99" height="10.18" fill="#c7c8ca"/>
<rect x="492.00" y="302.64" width="3.99" height="10.18" fill="#c7c8ca"/>
<rect x="495.69" y="302.64" width="3.99" height="10.18" fill="#c7c8ca"/>
<rect x="499.38" y="302.64" width="3.99" height="10.18" fill="#c7c8ca"/>
<rect x="503.07" y="302.64" width="3.99" height="10.18" fill="#c7c8ca"/>
<rect x="506.77" y="302.64" width="3.99" height="10.18" fill="#c7c8ca"/>
<rect x="510.46" y="302.64" width="3.99" height="10.18" fill="#c7c8ca"/>
<rect x="514.15" y="302.64" width="3.99" height="10.18" fill="#c7c8ca"/>
<rect x="517.84" y="302.64" width="3.99" height="10.18" fill="#c7c8ca"/>
<rect x="521.54" y="302.64" width="3.99" height="10.18" fill="#c7c8ca"/>
<rect x="525.23" y="302.64" width="3.99" height="10.18" fill="#c7c8ca"/>
<rect x="528.92" y="302.64" width="3.99" height="10.18" fill="#c7c8ca"/>
<rect x="532.61" y="302.64" width="3.99" height="10.18" fill="#c7c8ca"/>
<rect x="536.31" y="302.64" width="3.99" height="10.18" fill="#c7c8ca"/>
<rect x="137.50" y="312.73" width="3.99" height="10.18" fill="#dcdcdc"/>
<rect x="141.19" y="312.73" width="3.99" height="10.18" fill="#dcdcdc"/>
<rect x="144.89" y="312.73" width="3.99" height="10.18" fill="#f89c2c"/>
<rect x="148.58" y="312.73" width="3.99" height="10.18" fill="#dcdcdc"/>
<rect x="152.27" y="312.73" width="3.99" height="10.18" fill="#dcdcdc"/>
<rect x="155.96" y="312.73" width="3.99" height="10.18" fill="#dcdcdc"/>
<rect x="159.66" y="312.73" width="3.99" height="10.18" fill="#dcdcdc"/>
<rect x="163.35" y="312.73" width="3.99" height="10.18" fill="#dcdcdc"/>
<rect x="167.04" y="312.73" width="3.99" height="10.18" fill="#dcdcdc"/>
<rect x="170.73" y="312.73" width="3.99" height="10.18" fill="#dcdcdc"/>
<rect x="174.43" y="312.73" width="3.99" height="10.18" fill="#dcdcdc"/>
<rect x="178.12" y="312.73" width="3.99" height="10.18" fill="#dcdcdc"/>
<rect x="181.81" y="312.73" width="3.99" height="10.18" fill="#4a74c4"/>
<rect x="185.50" y="312.73" width="3.99" height="10.18" fill="#dcdcdc"/>
<rect x="189.20" y="312.73" width="3.99" height="10.18" fill="#dcdcdc"/>
<rect x="192.89" y="312.73" width="3.99" height="10.18" fill="#c5a888"/>
<rect x="196.58" y="312.73" width="3.99" height="10.18" fill="#4a74c4"/>
<rect x="200.28" y="312.73" width="3.99" height="10.18" fill="#dcdcdc"/>
<rect x="203.97" y="312.73" width="3.99" height="10.18" fill="#dcdcdc"/>
<rect x="207.66" y="312.73" width="3.99" height="10.18" fill="#dcdcdc"/>
<rect x="211.35" y="312.73" width="3.99" height="10.18" fill="#dcdcdc"/>
<rect x="215.05" y="312.73" width="3.99" height="10.18" fill="#dcdcdc"/>
<rect x="218.74" y="312.73" width="3.99" height="10.18" fill="#dcdcdc"/>
<rect x="222.43" y="312.73" width="3.99" height="10.18" fill="#dcdcdc"/>
<rect x="226.12" y="312.73" width="3.99" height="10.18" fill="#dcdcdc"/>
<rect x="229.82" y="312.73" width="3.99" height="10.18" fill="#dcdcdc"/>
<rect x="233.51" y="312.73" width="3.99" height="10.18" fill="#4a74c4"/>
<rect x="237.20" y="312.73" width="3.99" height="10.18" fill="#dcdcdc"/>
<rect x="240.89" y="312.73" width="3.99" height="10.18" fill="#4a74c4"/>
<rect x="244.59" y="312.73" width="3.99" height="10.18" fill="#dcdcdc"/>
<rect x="248.28" y="312.73" width="3.99" height="10.18" fill="#dcdcdc"/>
<rect x="251.97" y="312.73" width="3.99" height="10.18" fill="#dcdcdc"/>
<rect x="255.67" y="312.73" width="3.99" height="10.18" fill="#dcdcdc"/>
<rect x="259.36" y="312.73" width="3.99" height="10.18" fill="#dcdcdc"/>
<rect x="263.05" y="312.73" width="3.99" height="10.18" fill="#dcdcdc"/>
<rect x="266.74" y="312.73" width="3.99" height="10.18" fill="#dcdcdc"/>
<rect x="270.44" y="312.73" width="3.99" height="10.18" fill="#dcdcdc"/>
<rect x="274.13" y="312.73" width="3.99" height="10.18" fill="#dcdcdc"/>
<rect x="277.82" y="312.73" width="3.99" height="10.18" fill="#dcdcdc"/>
<rect x="281.51" y="312.73" width="3.99" height="10.18" fill="#dcdcdc"/>
<rect x="285.21" y="312.73" width="3.99" height="10.18" fill="#dcdcdc"/>
<rect x="288.90" y="312.73" width="3.99" height="10.18" fill="#dcdcdc"/>
<rect x="292.59" y="312.73" width="3.99" height="10.18" fill="#dcdcdc"/>
<rect x="296.28" y="312.73" width="3.99" height="10.18" fill="#dcdcdc"/>
<rect x="299.98" y="312.73" width="3.99" height="10.18" fill="#dcdcdc"/>
<rect x="303.67" y="312.73" width="3.99" height="10.18" fill="#dcdcdc"/>
<rect x="307.36" y="312.73" width="3.99" height="10.18" fill="#dcdcdc"/>
<rect x="311.06" y="312.73" width="3.99" height="10.18" fill="#dcdcdc"/>
<rect x="314.75" y="312.73" width="3.99" height="10.18" fill="#dcdcdc"/>
<rect x="318.44" y="312.73" width="3.99" height="10.18" fill="#dcdcdc"/>
<rect x="322.13" y="312.73" width="3.99" height="10.18" fill="#dcdcdc"/>
<rect x="325.83" y="312.73" width="3.99" height="10.18" fill="#dcdcdc"/>
<rect x="329.52" y="312.73" width="3.99" height="10.18" fill="#4a74c4"/>
<rect x="333.21" y="312.73" width="3.99" height="10.18" fill="#f89c2c"/>
<rect x="336.90" y="312.73" width="3.99" height="10.18" fill="#dcdcdc"/>
<rect x="340.60" y="312.73" width="3.99" height="10.18" fill="#dcdcdc"/>
<rect x="344.29" y="312.73" width="3.99" height="10.18" fill="#dcdcdc"/>
<rect x="347.98" y="312.73" width="3.99" height="10.18" fill="#dcdcdc"/>
<rect x="351.67" y="312.73" width="3.99" height="10.18" fill="#dcdcdc"/>
<rect x="355.37" y="312.73" width="3.99" height="10.18" fill="#dcdcdc"/>
<rect x="359.06" y="312.73" width="3.99" height="10.18" fill="#dcdcdc"/>
<rect x="362.75" y="312.73" width="3.99" height="10.18" fill="#dcdcdc"/>
<rect x="366.44" y="312.73" width="3.99" height="10.18" fill="#dcdcdc"/>
<rect x="370.14" y="312.73" width="3.99" height="10.18" fill="#dcdcdc"/>
<rect x="373.83" y="312.73" width="3.99" height="10.18" fill="#dcdcdc"/>
<rect x="377.52" y="312.73" width="3.99" height="10.18" fill="#dcdcdc"/>
<rect x="381.22" y="312.73" width="3.99" height="10.18" fill="#dcdcdc"/>
<rect x="384.91" y="312.73" width="3.99" height="10.18" fill="#dcdcdc"/>
<rect x="388.60" y="312.73" width="3.99" height="10.18" fill="#dcdcdc"/>
<rect x="392.29" y="312.73" width="3.99" height="10.18" fill="#dcdcdc"/>
<rect x="395.99" y="312.73" width="3.99" height="10.18" fill="#dcdcdc"/>
<rect x="399.68" y="312.73" width="3.99" height="10.18" fill="#dcdcdc"/>
<rect x="403.37" y="312.73" width="3.99" height="10.18" fill="#dcdcdc"/>
<rect x="407.06" y="312.73" width="3.99" height="10.18" fill="#4a74c4"/>
<rect x="410.76" y="312.73" width="3.99" height="10.18" fill="#dcdcdc"/>
<rect x="414.45" y="312.73" width="3.99" height="10.18" fill="#dcdcdc"/>
<rect x="418.14" y="312.73" width="3.99" height="10.18" fill="#dcdcdc"/>
<rect x="421.83" y="312.73" width="3.99" height="10.18" fill="#dcdcdc"/>
<rect x="425.53" y="312.73" width="3.99" height="10.18" fill="#dcdcdc"/>
<rect x="429.22" y="312.73" width="3.99" height="10.18" fill="#dcdcdc"/>
<rect x="432.91" y="312.73" width="3.99" height="10.18" fill="#dcdcdc"/>
<rect x="436.61" y="312.73" width="3.99" height="10.18" fill="#dcdcdc"/>
<rect x="440.30" y="312.73" width="3.99" height="10.18" fill="#dcdcdc"/>
<rect x="443.99" y="312.73" width="3.99" height="10.18" fill="#dcdcdc"/>
<rect x="447.68" y="312.73" width="3.99" height="10.18" fill="#dcdcdc"/>
<rect x="451.38" y="312.73" width="3.99" height="10.18" fill="#dcdcdc"/>
<rect x="455.07" y="312.73" width="3.99" height="10.18" fill="#dcdcdc"/>
<rect x="458.76" y="312.73" width="3.99" height="10.18" fill="#dcdcdc"/>
<rect x="462.45" y="312.73" width="3.99" height="10.18" fill="#dcdcdc"/>
<rect x="466.15" y="312.73" width="3.99" height="10.18" fill="#dcdcdc"/>
<rect x="469.84" y="312.73" width="3.99" height="10.18" fill="#dcdcdc"/>
<rect x="473.53" y="312.73" width="3.99" height="10.18" fill="#dcdcdc"/>
<rect x="477.22" y="312.73" width="3.99" height="10.18" fill="#dcdcdc"/>
<rect x="480.92" y="312.73" width="3.99" height="10.18" fill="#dcdcdc"/>
<rect x="484.61" y="312.73" width="3.99" height="10.18" fill="#dcdcdc"/>
<rect x="488.30" y="312.73" width="3.99" height="10.18" fill="#dcdcdc"/>
<rect x="492.00" y="312.73" width="3.99" height="10.18" fill="#dcdcdc"/>
<rect x="495.69" y="312.73" width="3.99" height="10.18" fill="#dcdcdc"/>
<rect x="499.38" y="312.73" width="3.99" height="10.18" fill="#dcdcdc"/>
<rect x="503.07" y="312.73" width="3.99" height="10.18" fill="#dcdcdc"/>
<rect x="506.77" y="312.73" width="3.99" height="10.18" fill="#dcdcdc"/>
<rect x="510.46" y="312.73" width="3.99" height="10.18" fill="#dcdcdc"/>
<rect x="514.15" y="312.73" width="3.99" height="10.18" fill="#dcdcdc"/>
<rect x="517.84" y="312.73" width="3.99" height="10.18" fill="#dcdcdc"/>
<rect x="521.54" y="312.73" width="3.99" height="10.18" fill="#dcdcdc"/>
<rect x="525.23" y="312.73" width="3.99" height="10.18" fill="#dcdcdc"/>
<rect x="528.92" y="312.73" width="3.99" height="10.18" fill="#dcdcdc"/>
<rect x="532.61" y="312.73" width="3.99" height="10.18" fill="#dcdcdc"/>
<rect x="536.31" y="312.73" width="3.99" height="10.18" fill="#dcdcdc"/>
<rect x="137.50" y="322.81" width="3.99" height="10.18" fill="#c7c8ca"/>
<rect x="141.19" y="322.81" width="3.99" height="10.18" fill="#c7c8ca"/>
<rect x="144.89" y="322.81" width="3.99" height="10.18" fill="#c7c8ca"/>
<rect x="148.58" y="322.81" width="3.99" height="10.18" fill="#c7c8ca"/>
<rect x="152.27" y="322.81" width="3.99" height="10.18" fill="#c7c8ca"/>
<rect x="155.96" y="322.81" width="3.99" height="10.18" fill="#c7c8ca"/>
<rect x="159.66" y="322.81" width="3.99" height="10.18" fill="#c7c8ca"/>
<rect x="163.35" y="322.81" width="3.99" height="10.18" fill="#4a74c4"/>
<rect x="167.04" y="322.81" width="3.99" height="10.18" fill="#c7c8ca"/>
<rect x="170.73" y="322.81" width="3.99" height="10.18" fill="#c7c8ca"/>
<rect x="174.43" y="322.81" width="3.99" height="10.18" fill="#c7c8ca"/>
<rect x="178.12" y="322.81" width="3.99" height="10.18" fill="#c7c8ca"/>
<rect x="181.81" y="322.81" width="3.99" height="10.18" fill="#c7c8ca"/>
<rect x="185.50" y="322.81" width="3.99" height="10.18" fill="#c7c8ca"/>
<rect x="189.20" y="322.81" width="3.99" height="10.18" fill="#c7c8ca"/>
<rect x="192.89" y="322.81" width="3.99" height="10.18" fill="#c7c8ca"/>
<rect x="196.58" y="322.81" width="3.99" height="10.18" fill="#c7c8ca"/>
<rect x="200.28" y="322.81" width="3.99" height="10.18" fill="#c7c8ca"/>
<rect x="203.97" y="322.81" width="3.99" height="10.18" fill="#c7c8ca"/>
<rect x="207.66" y="322.81" width="3.99" height="10.18" fill="#c7c8ca"/>
<rect x="211.35" y="322.81" width="3.99" height="10.18" fill="#c7c8ca"/>
<rect x="215.05" y="322.81" width="3.99" height="10.18" fill="#c7c8ca"/>
<rect x="218.74" y="322.81" width="3.99" height="10.18" fill="#c7c8ca"/>
<rect x="222.43" y="322.81" width="3.99" height="10.18" fill="#c7c8ca"/>
<rect x="226.12" y="322.81" width="3.99" height="10.18" fill="#c7c8ca"/>
<rect x="229.82" y="322.81" width="3.99" height="10.18" fill="#c7c8ca"/>
<rect x="233.51" y="322.81" width="3.99" height="10.18" fill="#c7c8ca"/>
<rect x="237.20" y="322.81" width="3.99" height="10.18" fill="#c7c8ca"/>
<rect x="240.89" y="322.81" width="3.99" height="10.18" fill="#c7c8ca"/>
<rect x="244.59" y="322.81" width="3.99" height="10.18" fill="#c7c8ca"/>
<rect x="248.28" y="322.81" width="3.99" height="10.18" fill="#c7c8ca"/>
<rect x="251.97" y="322.81" width="3.99" height="10.18" fill="#c7c8ca"/>
<rect x="255.67" y="322.81" width="3.99" height="10.18" fill="#c7c8ca"/>
<rect x="259.36" y="322.81" width="3.99" height="10.18" fill="#c7c8ca"/>
<rect x="263.05" y="322.81" width="3.99" height="10.18" fill="#c7c8ca"/>
<rect x="266.74" y="322.81" width="3.99" height="10.18" fill="#c7c8ca"/>
<rect x="270.44" y="322.81" width="3.99" height="10.18" fill="#c7c8ca"/>
<rect x="274.13" y="322.81" width="3.99" height="10.18" fill="#c7c8ca"/>
<rect x="277.82" y="322.81" width="3.99" height="10.18" fill="#c7c8ca"/>
<rect x="281.51" y="322.81" width="3.99" height="10.18" fill="#c7c8ca"/>
<rect x="285.21" y="322.81" width="3.99" height="10.18" fill="#c7c8ca"/>
<rect x="288.90" y="322.81" width="3.99" height="10.18" fill="#c7c8ca"/>
<rect x="292.59" y="322.81" width="3.99" height="10.18" fill="#c7c8ca"/>
<rect x="296.28" y="322.81" width="3.99" height="10.18" fill="#c7c8ca"/>
<rect x="299.98" y="322.81" width="3.99" height="10.18" fill="#c7c8ca"/>
<rect x="303.67" y="322.81" width="3.99" height="10.18" fill="#c7c8ca"/>
<rect x="307.36" y="322.81" width="3.99" height="10.18" fill="#c7c8ca"/>
<rect x="311.06" y="322.81" width="3.99" height="10.18" fill="#c7c8ca"/>
<rect x="314.75" y="322.81" width="3.99" height="10.18" fill="#f89c2c"/>
<rect x="318.44" y="322.81" width="3.99" height="10.18" fill="#f89c2c"/>
<rect x="322.13" y="322.81" width="3.99" height="10.18" fill="#c7c8ca"/>
<rect x="325.83" y="322.81" width="3.99" height="10.18" fill="#c7c8ca"/>
<rect x="329.52" y="322.81" width="3.99" height="10.18" fill="#c7c8ca"/>
<rect x="333.21" y="322.81" width="3.99" height="10.18" fill="#c7c8ca"/>
<rect x="336.90" y="322.81" width="3.99" height="10.18" fill="#c7c8ca"/>
<rect x="340.60" y="322.81" width="3.99" height="10.18" fill="#c7c8ca"/>
<rect x="344.29" y="322.81" width="3.99" height="10.18" fill="#c7c8ca"/>
<rect x="347.98" y="322.81" width="3.99" height="10.18" fill="#c7c8ca"/>
<rect x="351.67" y="322.81" width="3.99" height="10.18" fill="#c7c8ca"/>
<rect x="355.37" y="322.81" width="3.99" height="10.18" fill="#c7c8ca"/>
<rect x="359.06" y="322.81" width="3.99" height="10.18" fill="#c7c8ca"/>
<rect x="362.75" y="322.81" width="3.99" height="10.18" fill="#c7c8ca"/>
<rect x="366.44" y="322.81" width="3.99" height="10.18" fill="#c7c8ca"/>
<rect x="370.14" y="322.81" width="3.99" height="10.18" fill="#c7c8ca"/>
<rect x="373.83" y="322.81" width="3.99" height="10.18" fill="#c7c8ca"/>
<rect x="377.52" y="322.81" width="3.99" height="10.18" fill="#c7c8ca"/>
<rect x="381.22" y="322.81" width="3.99" height="10.18" fill="#c7c8ca"/>
<rect x="384.91" y="322.81" width="3.99" height="10.18" fill="#c7c8ca"/>
<rect x="388.60" y="322.81" width="3.99" height="10.18" fill="#c7c8ca"/>
<rect x="392.29" y="322.81" width="3.99" height="10.18" fill="#c7c8ca"/>
<rect x="395.99" y="322.81" width="3.99" height="10.18" fill="#c7c8ca"/>
<rect x="399.68" y="322.81" width="3.99" height="10.18" fill="#c7c8ca"/>
<rect x="403.37" y="322.81" width="3.99" height="10.18" fill="#c7c8ca"/>
<rect x="407.06" y="322.81" width="3.99" height="10.18" fill="#c7c8ca"/>
<rect x="410.76" y="322.81" width="3.99" height="10.18" fill="#c7c8ca"/>
<rect x="414.45" y="322.81" width="3.99" height="10.18" fill="#c7c8ca"/>
<rect x="418.14" y="322.81" width="3.99" height="10.18" fill="#c7c8ca"/>
<rect x="421.83" y="322.81" width="3.99" height="10.18" fill="#c7c8ca"/>
<rect x="425.53" y="322.81" width="3.99" height="10.18" fill="#c7c8ca"/>
<rect x="429.22" y="322.81" width="3.99" height="10.18" fill="#c7c8ca"/>
<rect x="432.91" y="322.81" width="3.99" height="10.18" fill="#c7c8ca"/>
<rect x="436.61" y="322.81" width="3.99" height="10.18" fill="#c7c8ca"/>
<rect x="440.30" y="322.81" width="3.99" height="10.18" fill="#c7c8ca"/>
<rect x="443.99" y="322.81" width="3.99" height="10.18" fill="#c7c8ca"/>
<rect x="447.68" y="322.81" width="3.99" height="10.18" fill="#c7c8ca"/>
<rect x="451.38" y="322.81" width="3.99" height="10.18" fill="#c7c8ca"/>
<rect x="455.07" y="322.81" width="3.99" height="10.18" fill="#c7c8ca"/>
<rect x="458.76" y="322.81" width="3.99" height="10.18" fill="#c7c8ca"/>
<rect x="462.45" y="322.81" width="3.99" height="10.18" fill="#c7c8ca"/>
<rect x="466.15" y="322.81" width="3.99" height="10.18" fill="#c7c8ca"/>
<rect x="469.84" y="322.81" width="3.99" height="10.18" fill="#c7c8ca"/>
<rect x="473.53" y="322.81" width="3.99" height="10.18" fill="#c7c8ca"/>
<rect x="477.22" y="322.81" width="3.99" height="10.18" fill="#c7c8ca"/>
<rect x="480.92" y="322.81" width="3.99" height="10.18" fill="#c7c8ca"/>
<rect x="484.61" y="322.81" width="3.99" height="10.18" fill="#c7c8ca"/>
<rect x="488.30" y="322.81" width="3.99" height="10.18" fill="#c7c8ca"/>
<rect x="492.00" y="322.81" width="3.99" height="10.18" fill="#c7c8ca"/>
<rect x="495.69" y="322.81" width="3.99" height="10.18" fill="#c7c8ca"/>
<rect x="499.38" y="322.81" width="3.99" height="10.18" fill="#c7c8ca"/>
<rect x="503.07" y="322.81" width="3.99" height="10.18" fill="#c7c8ca"/>
<rect x="506.77" y="322.81" width="3.99" height="10.18" fill="#c7c8ca"/>
<rect x="510.46" y="322.81" width="3.99" height="10.18" fill="#c7c8ca"/>
<rect x="514.15" y="322.81" width="3.99" height="10.18" fill="#c7c8ca"/>
<rect x="517.84" y="322.81" width="3.99" height="10.18" fill="#c7c8ca"/>
<rect x="521.54" y="322.81" width="3.99" height="10.18" fill="#c7c8ca"/>
<rect x="525.23" y="322.81" width="3.99" height="10.18" fill="#c7c8ca"/>
<rect x="528.92" y="322.81" width="3.99" height="10.18" fill="#c7c8ca"/>
<rect x="532.61" y="322.81" width="3.99" height="10.18" fill="#c7c8ca"/>
<rect x="536.31" y="322.81" width="3.99" height="10.18" fill="#c7c8ca"/>
</svg>
<svg class="a" style="left:0;top:0" width="685" height="400" viewBox="0 0 685 400">
<path d="M584.6 86.4 H678.6" stroke="#333" stroke-width="0.8" fill="none"/>
<path d="M584.6 83.3 V86.4" stroke="#333" stroke-width="0.8"/>
<path d="M608.4 83.3 V86.4" stroke="#333" stroke-width="0.8"/>
<path d="M631.5 83.3 V86.4" stroke="#333" stroke-width="0.8"/>
<path d="M655.0 83.3 V86.4" stroke="#333" stroke-width="0.8"/>
<path d="M678.6 83.3 V86.4" stroke="#333" stroke-width="0.8"/>
<path d="M584.6 91.2 V336" stroke="#c4c4c4" stroke-width="0.7" stroke-dasharray="0.8 3.5"/>
<path d="M608.4 91.2 V336" stroke="#c4c4c4" stroke-width="0.7" stroke-dasharray="0.8 3.5"/>
<path d="M655.0 91.2 V336" stroke="#c4c4c4" stroke-width="0.7" stroke-dasharray="0.8 3.5"/>
<path d="M678.6 91.2 V336" stroke="#c4c4c4" stroke-width="0.7" stroke-dasharray="0.8 3.5"/>
<path d="M631.5 90.6 V334" stroke="#c8c8c8" stroke-width="0.7"/>
<path d="M649.5 96.54 H671.5" stroke="#4d4d4d" stroke-width="1"/>
<path d="M671.5 94.94 V98.14" stroke="#333" stroke-width="0.8"/>
<path d="M649.5 94.94 V98.14" stroke="#333" stroke-width="0.8"/>
<ellipse cx="660.6" cy="96.54" rx="0.9" ry="1.5" fill="#f02020"/>
<path d="M613 106.62 H639.7" stroke="#4d4d4d" stroke-width="1"/>
<path d="M639.7 105.02 V108.22" stroke="#333" stroke-width="0.8"/>
<path d="M613 105.02 V108.22" stroke="#333" stroke-width="0.8"/>
<ellipse cx="626.2" cy="106.62" rx="0.9" ry="1.5" fill="#f02020"/>
<path d="M593.6 116.71 H638.9" stroke="#4d4d4d" stroke-width="1"/>
<path d="M638.9 115.11 V118.31" stroke="#333" stroke-width="0.8"/>
<path d="M593.6 115.11 V118.31" stroke="#333" stroke-width="0.8"/>
<ellipse cx="616.1" cy="116.71" rx="0.9" ry="1.5" fill="#f02020"/>
<path d="M632.7 126.79 H648.2" stroke="#4d4d4d" stroke-width="1"/>
<path d="M648.2 125.19 V128.39" stroke="#333" stroke-width="0.8"/>
<path d="M632.7 125.19 V128.39" stroke="#333" stroke-width="0.8"/>
<ellipse cx="640.5" cy="126.79" rx="0.9" ry="1.5" fill="#f02020"/>
<path d="M631.2 136.87 H658.6" stroke="#4d4d4d" stroke-width="1"/>
<path d="M658.6 135.27 V138.47" stroke="#333" stroke-width="0.8"/>
<path d="M631.2 135.27 V138.47" stroke="#333" stroke-width="0.8"/>
<ellipse cx="644.8" cy="136.87" rx="0.9" ry="1.5" fill="#f02020"/>
<path d="M599.1 146.96 H648.2" stroke="#4d4d4d" stroke-width="1"/>
<path d="M648.2 145.36 V148.56" stroke="#333" stroke-width="0.8"/>
<path d="M599.1 145.36 V148.56" stroke="#333" stroke-width="0.8"/>
<ellipse cx="623.9" cy="146.96" rx="0.9" ry="1.5" fill="#f02020"/>
<path d="M624.5 157.04 H648.2" stroke="#4d4d4d" stroke-width="1"/>
<path d="M648.2 155.44 V158.64" stroke="#333" stroke-width="0.8"/>
<path d="M624.5 155.44 V158.64" stroke="#333" stroke-width="0.8"/>
<ellipse cx="636.6" cy="157.04" rx="0.9" ry="1.5" fill="#f02020"/>
<path d="M636.3 167.12 H676" stroke="#4d4d4d" stroke-width="1"/>
<path d="M675 165.42 L678.6 167.12 L675 168.82 Z" fill="#111"/>
<path d="M636.3 165.52 V168.72" stroke="#333" stroke-width="0.8"/>
<ellipse cx="665" cy="167.12" rx="0.9" ry="1.5" fill="#f02020"/>
<path d="M628.5 177.21 H661.4" stroke="#4d4d4d" stroke-width="1"/>
<path d="M661.4 175.61 V178.81" stroke="#333" stroke-width="0.8"/>
<path d="M628.5 175.61 V178.81" stroke="#333" stroke-width="0.8"/>
<ellipse cx="644.8" cy="177.21" rx="0.9" ry="1.5" fill="#f02020"/>
<path d="M628.5 187.29 H672.6" stroke="#4d4d4d" stroke-width="1"/>
<path d="M672.6 185.69 V188.89" stroke="#333" stroke-width="0.8"/>
<path d="M628.5 185.69 V188.89" stroke="#333" stroke-width="0.8"/>
<ellipse cx="650.3" cy="187.29" rx="0.9" ry="1.5" fill="#f02020"/>
<path d="M614.4 197.37 H647.8" stroke="#4d4d4d" stroke-width="1"/>
<path d="M647.8 195.77 V198.97" stroke="#333" stroke-width="0.8"/>
<path d="M614.4 195.77 V198.97" stroke="#333" stroke-width="0.8"/>
<ellipse cx="630.9" cy="197.37" rx="0.9" ry="1.5" fill="#f02020"/>
<path d="M613 207.45 H639.7" stroke="#4d4d4d" stroke-width="1"/>
<path d="M639.7 205.85 V209.05" stroke="#333" stroke-width="0.8"/>
<path d="M613 205.85 V209.05" stroke="#333" stroke-width="0.8"/>
<ellipse cx="626.2" cy="207.45" rx="0.9" ry="1.5" fill="#f02020"/>
<path d="M608.4 217.54 H638.2" stroke="#4d4d4d" stroke-width="1"/>
<path d="M638.2 215.94 V219.14" stroke="#333" stroke-width="0.8"/>
<path d="M608.4 215.94 V219.14" stroke="#333" stroke-width="0.8"/>
<ellipse cx="623.4" cy="217.54" rx="0.9" ry="1.5" fill="#f02020"/>
<path d="M633.5 227.62 H676" stroke="#4d4d4d" stroke-width="1"/>
<path d="M675 225.92 L678.6 227.62 L675 229.32 Z" fill="#111"/>
<path d="M633.5 226.02 V229.22" stroke="#333" stroke-width="0.8"/>
<ellipse cx="663" cy="227.62" rx="0.9" ry="1.5" fill="#f02020"/>
<path d="M628.5 237.70 H676" stroke="#4d4d4d" stroke-width="1"/>
<path d="M675 236.00 L678.6 237.70 L675 239.40 Z" fill="#111"/>
<path d="M628.5 236.10 V239.30" stroke="#333" stroke-width="0.8"/>
<ellipse cx="658.3" cy="237.70" rx="0.9" ry="1.5" fill="#f02020"/>
<path d="M620.6 247.79 H656.5" stroke="#4d4d4d" stroke-width="1"/>
<path d="M656.5 246.19 V249.39" stroke="#333" stroke-width="0.8"/>
<path d="M620.6 246.19 V249.39" stroke="#333" stroke-width="0.8"/>
<ellipse cx="638.5" cy="247.79" rx="0.9" ry="1.5" fill="#f02020"/>
<path d="M626.5 257.87 H676" stroke="#4d4d4d" stroke-width="1"/>
<path d="M675 256.17 L678.6 257.87 L675 259.57 Z" fill="#111"/>
<path d="M626.5 256.27 V259.47" stroke="#333" stroke-width="0.8"/>
<ellipse cx="656.5" cy="257.87" rx="0.9" ry="1.5" fill="#f02020"/>
<path d="M621.1 267.95 H676" stroke="#4d4d4d" stroke-width="1"/>
<path d="M675 266.25 L678.6 267.95 L675 269.65 Z" fill="#111"/>
<path d="M621.1 266.35 V269.55" stroke="#333" stroke-width="0.8"/>
<ellipse cx="651.3" cy="267.95" rx="0.9" ry="1.5" fill="#f02020"/>
<path d="M630.6 278.04 H676" stroke="#4d4d4d" stroke-width="1"/>
<path d="M675 276.34 L678.6 278.04 L675 279.74 Z" fill="#111"/>
<path d="M630.6 276.44 V279.64" stroke="#333" stroke-width="0.8"/>
<ellipse cx="660" cy="278.04" rx="0.9" ry="1.5" fill="#f02020"/>
<path d="M620.5 288.12 H656.5" stroke="#4d4d4d" stroke-width="1"/>
<path d="M656.5 286.52 V289.72" stroke="#333" stroke-width="0.8"/>
<path d="M620.5 286.52 V289.72" stroke="#333" stroke-width="0.8"/>
<ellipse cx="638.3" cy="288.12" rx="0.9" ry="1.5" fill="#f02020"/>
<path d="M621 298.20 H676" stroke="#4d4d4d" stroke-width="1"/>
<path d="M675 296.50 L678.6 298.20 L675 299.90 Z" fill="#111"/>
<path d="M621 296.60 V299.80" stroke="#333" stroke-width="0.8"/>
<ellipse cx="651.5" cy="298.20" rx="0.9" ry="1.5" fill="#f02020"/>
<path d="M649 308.28 H676" stroke="#4d4d4d" stroke-width="1"/>
<path d="M675 306.58 L678.6 308.28 L675 309.98 Z" fill="#111"/>
<path d="M649 306.68 V309.88" stroke="#333" stroke-width="0.8"/>
<ellipse cx="678" cy="308.28" rx="0.9" ry="1.5" fill="#f02020"/>
<path d="M632.3 318.37 H675.5" stroke="#4d4d4d" stroke-width="1"/>
<path d="M675.5 316.77 V319.97" stroke="#333" stroke-width="0.8"/>
<path d="M632.3 316.77 V319.97" stroke="#333" stroke-width="0.8"/>
<ellipse cx="653.4" cy="318.37" rx="0.9" ry="1.5" fill="#f02020"/>
<path d="M621 328.45 H676" stroke="#4d4d4d" stroke-width="1"/>
<path d="M675 326.75 L678.6 328.45 L675 330.15 Z" fill="#111"/>
<path d="M621 326.85 V330.05" stroke="#333" stroke-width="0.8"/>
<ellipse cx="651.5" cy="328.45" rx="0.9" ry="1.5" fill="#f02020"/>
</svg>
<div class="a" style="left:79.10px;top:354.30px;width:5.60px;height:5.60px;background:#ee2e2e"></div>
<div class="a" style="left:79.10px;top:364.00px;width:5.60px;height:5.60px;background:#922a2c"></div>
<div class="a" style="left:79.10px;top:373.90px;width:5.60px;height:5.60px;background:#7650a8"></div>
<div class="a" style="left:79.10px;top:383.90px;width:5.60px;height:5.60px;background:#f5b5c7"></div>
<div class="a" style="left:122.40px;top:354.30px;width:5.60px;height:5.60px;background:#c3c035"></div>
<div class="a" style="left:122.40px;top:364.00px;width:5.60px;height:5.60px;background:#36893f"></div>
<div class="a" style="left:122.40px;top:373.90px;width:5.60px;height:5.60px;background:#ee2e2e"></div>
<div class="a" style="left:122.40px;top:383.90px;width:5.60px;height:5.60px;background:#7650a8"></div>
<div class="a" style="left:122.40px;top:393.70px;width:5.60px;height:5.60px;background:#3f3a88"></div>
<div class="a" style="left:192.10px;top:354.30px;width:5.60px;height:5.60px;background:#2e2e6e"></div>
<div class="a" style="left:192.10px;top:364.00px;width:5.60px;height:5.60px;background:#ee2e2e"></div>
<div class="a" style="left:192.10px;top:373.90px;width:5.60px;height:5.60px;background:#b58b91"></div>
<div class="a" style="left:238.90px;top:354.30px;width:5.60px;height:5.60px;background:#d3ecf0"></div>
<div class="a" style="left:238.90px;top:364.00px;width:5.60px;height:5.60px;background:#e39aab"></div>
<div class="a" style="left:238.90px;top:373.90px;width:5.60px;height:5.60px;background:#f59a7a"></div>
<div class="a" style="left:238.90px;top:383.90px;width:5.60px;height:5.60px;background:#85574a"></div>
<div class="a" style="left:344.80px;top:354.30px;width:5.60px;height:5.60px;background:#2352a6"></div>
<div class="a" style="left:344.80px;top:364.00px;width:5.60px;height:5.60px;background:#a7dbe0"></div>
<div class="a" style="left:344.80px;top:383.90px;width:5.60px;height:5.60px;background:#2352a6"></div>
<div class="a" style="left:432.40px;top:354.30px;width:5.60px;height:5.60px;background:#922a2c"></div>
<div class="a" style="left:432.40px;top:364.00px;width:5.60px;height:5.60px;background:#4a74c4"></div>
<div class="a" style="left:432.40px;top:373.90px;width:5.60px;height:5.60px;background:#f89c2c"></div>
<div class="a" style="left:432.40px;top:383.90px;width:5.60px;height:5.60px;background:#e88088"></div>
<div class="a" style="left:432.40px;top:393.70px;width:5.60px;height:5.60px;background:#36893f"></div>
<div class="a" style="left:524.80px;top:354.30px;width:5.60px;height:5.60px;background:#7650a8"></div>
<div class="a" style="left:524.80px;top:364.00px;width:5.60px;height:5.60px;background:#a7dbe0"></div>
<div class="a" style="left:524.80px;top:373.90px;width:5.60px;height:5.60px;background:#c5a888"></div>
<div class="a" style="left:524.80px;top:383.90px;width:5.60px;height:5.60px;background:#ee2e2e"></div>
<div class="a" style="left:524.80px;top:393.70px;width:5.60px;height:5.60px;background:#2352a6"></div>
<div id="tx">
<div class="t r " style="right:554.50px;top:-0.48px;">Type</div>
<div class="t r " style="right:554.50px;top:9.72px;">Histology</div>
<div class="t r " style="right:554.50px;top:19.82px;">Age</div>
<div class="t r " style="right:554.50px;top:30.62px;">Gender</div>
<div class="t r " style="right:554.50px;top:51.52px;">U1 snRNA</div>
<div class="t r i" style="right:555.00px;top:61.52px;">RNVU1-18</div>
<div class="t r i" style="right:555.20px;top:71.52px;">RNU11</div>
<div class="t r " style="right:613.00px;top:54.62px;">U1 snRNAs</div>
<div class="t r " style="right:613.20px;top:70.52px;">U11 snRNA</div>
<div class="t r " style="right:122.00px;top:51.82px;">47.7</div>
<div class="t r " style="right:122.00px;top:61.92px;">2.8</div>
<div class="t r " style="right:122.00px;top:72.02px;">3.7</div>
<div class="t r i" style="right:554.40px;top:91.72px;color:#e8262a">pTERT</div>
<div class="t r " style="right:122.00px;top:91.92px;">37.6</div>
<div class="t r i" style="right:554.60px;top:101.80px;">TP53</div>
<div class="t r " style="right:122.00px;top:102.00px;">9.2</div>
<div class="t r i" style="right:554.60px;top:111.89px;">PPM1D</div>
<div class="t r " style="right:122.00px;top:112.09px;">4.6</div>
<div class="t r i" style="right:554.60px;top:121.97px;">PTCH1</div>
<div class="t r " style="right:122.00px;top:122.17px;">38.5</div>
<div class="t r i" style="right:554.60px;top:132.05px;">SMO</div>
<div class="t r " style="right:122.00px;top:132.25px;">11.9</div>
<div class="t r i" style="right:554.60px;top:142.14px;">SUFU</div>
<div class="t r " style="right:122.00px;top:142.34px;">2.8</div>
<div class="t r i" style="right:554.60px;top:152.22px;">KMT2D</div>
<div class="t r " style="right:122.00px;top:152.42px;">11.9</div>
<div class="t r i" style="right:554.60px;top:162.30px;">CREBBP</div>
<div class="t r " style="right:122.00px;top:162.50px;">10.1</div>
<div class="t r i" style="right:554.60px;top:172.38px;">KMT2C</div>
<div class="t r " style="right:122.00px;top:172.58px;">8.3</div>
<div class="t r i" style="right:554.60px;top:182.47px;">GSE1</div>
<div class="t r " style="right:122.00px;top:182.67px;">6.4</div>
<div class="t r i" style="right:554.60px;top:192.55px;">BCOR</div>
<div class="t r " style="right:122.00px;top:192.75px;">5.5</div>
<div class="t r i" style="right:554.60px;top:202.63px;">GLI2</div>
<div class="t r " style="right:122.00px;top:202.83px;">9.2</div>
<div class="t r i" style="right:554.60px;top:212.72px;">MYCN</div>
<div class="t r " style="right:122.00px;top:212.92px;">8.3</div>
<div class="t r i" style="right:554.60px;top:222.80px;">TCF4</div>
<div class="t r " style="right:122.00px;top:223.00px;">8.3</div>
<div class="t r i" style="right:554.60px;top:232.88px;">LHX1</div>
<div class="t r " style="right:122.00px;top:233.08px;">5.5</div>
<div class="t r i" style="right:554.60px;top:242.97px;">LDB1</div>
<div class="t r " style="right:122.00px;top:243.17px;">5.5</div>
<div class="t r i" style="right:554.60px;top:253.05px;">PAX6</div>
<div class="t r " style="right:122.00px;top:253.25px;">4.6</div>
<div class="t r i" style="right:554.60px;top:263.13px;">ZIC1</div>
<div class="t r " style="right:122.00px;top:263.33px;">2.8</div>
<div class="t r i" style="right:554.60px;top:273.21px;">PRKAR1A</div>
<div class="t r " style="right:122.00px;top:273.41px;">6.4</div>
<div class="t r i" style="right:554.60px;top:283.30px;">PIK3CA</div>
<div class="t r " style="right:122.00px;top:283.50px;">5.5</div>
<div class="t r i" style="right:554.60px;top:293.38px;">CDKN2A</div>
<div class="t r " style="right:122.00px;top:293.58px;">2.8</div>
<div class="t r i" style="right:554.40px;top:303.46px;color:#e8262a">DDX3X</div>
<div class="t r " style="right:122.00px;top:303.66px;">23.9</div>
<div class="t r i" style="right:554.60px;top:313.55px;">FBXW7</div>
<div class="t r " style="right:122.00px;top:313.75px;">8.3</div>
<div class="t r i" style="right:554.60px;top:323.63px;">UBE2D2</div>
<div class="t r " style="right:122.00px;top:323.83px;">2.8</div>
<div class="t r " style="right:612.80px;top:103.02px;transform:scaleX(0.965)">TP53 signalling</div>
<div class="t r " style="right:612.80px;top:126.52px;transform:scaleX(0.965)">Sonic hedgehog</div>
<div class="t r " style="right:612.80px;top:133.52px;transform:scaleX(0.965)">signalling</div>
<div class="t r " style="right:612.80px;top:171.52px;transform:scaleX(0.965)">Chromatin</div>
<div class="t r " style="right:612.80px;top:178.42px;transform:scaleX(0.965)">modification</div>
<div class="t r " style="right:612.80px;top:226.22px;transform:scaleX(0.965)">Transcriptional</div>
<div class="t r " style="right:612.80px;top:233.22px;transform:scaleX(0.965)">regulation</div>
<div class="t r " style="right:612.80px;top:280.42px;transform:scaleX(0.965)">Cell</div>
<div class="t r " style="right:612.80px;top:287.32px;transform:scaleX(0.965)">signalling</div>
<div class="t r " style="right:612.80px;top:303.22px;transform:scaleX(0.965)">RNA metabolism</div>
<div class="t r " style="right:612.80px;top:313.52px;transform:scaleX(0.965)">Protein modification</div>
<div class="t r " style="right:612.80px;top:324.62px;transform:scaleX(0.965)">Protein metabolism</div>
<div class="t " style="left:544.60px;top:25.92px;transform:scaleX(0.965)">Percentage of</div>
<div class="t " style="left:544.60px;top:34.62px;transform:scaleX(0.985)">samples affected</div>
<div class="t c " style="left:530.90px;width:200px;top:55.02px;transform:scaleX(0.982)">Odds ratio of coexistence</div>
<div class="t c " style="left:532.40px;width:200px;top:63.22px;transform:scaleX(0.972)">with snRNA mutations</div>
<div class="t c " style="left:485.40px;width:200px;top:72.92px;transform:scaleX(1.03)">0.01</div>
<div class="t c " style="left:508.50px;width:200px;top:72.92px;transform:scaleX(1.03)">0.1</div>
<div class="t c " style="left:531.70px;width:200px;top:72.92px;transform:scaleX(1.03)">0</div>
<div class="t c " style="left:555.70px;width:200px;top:72.92px;transform:scaleX(1.03)">10</div>
<div class="t c " style="left:578.40px;width:200px;top:72.92px;transform:scaleX(1.03)">100</div>
<div class="t lh" style="left:79.10px;top:341.92px;">Subtype</div>
<div class="t lg" style="left:90.10px;top:353.44px;font-size:7.4px;">SHH&alpha;</div>
<div class="t lg" style="left:90.10px;top:363.14px;font-size:7.4px;">SHH&beta;</div>
<div class="t lg" style="left:90.10px;top:373.04px;font-size:7.4px;">SHH&gamma;</div>
<div class="t lg" style="left:90.10px;top:383.04px;font-size:7.4px;">SHH&delta;</div>
<div class="t lh" style="left:122.60px;top:341.92px;">Histology</div>
<div class="t lg" style="left:133.40px;top:353.44px;font-size:7.4px;">Classic</div>
<div class="t lg" style="left:133.40px;top:363.14px;font-size:7.4px;">Desmoplastic</div>
<div class="t lg" style="left:133.40px;top:373.04px;font-size:7.4px;">MBEN</div>
<div class="t lg" style="left:133.40px;top:383.04px;font-size:7.4px;">LCA</div>
<div class="t lg" style="left:133.40px;top:392.84px;font-size:7.4px;">NOS</div>
<div class="t lh" style="left:192.10px;top:341.92px;">Gender</div>
<div class="t lg" style="left:203.40px;top:353.44px;font-size:7.4px;">Male</div>
<div class="t lg" style="left:203.40px;top:363.14px;font-size:7.4px;">Female</div>
<div class="t lg" style="left:203.40px;top:373.04px;font-size:7.4px;">Turner</div>
<div class="t lh" style="left:238.40px;top:341.92px;">Age</div>
<div class="t lg" style="left:249.60px;top:353.44px;font-size:7.4px;transform:scaleX(0.9)">Infant (0&ndash;3 years)</div>
<div class="t lg" style="left:249.60px;top:363.14px;font-size:7.4px;transform:scaleX(0.9)">Child (&gt;3&ndash;10 years)</div>
<div class="t lg" style="left:249.60px;top:373.04px;font-size:7.4px;transform:scaleX(0.9)">Adolescent (&gt;10&ndash;17 years)</div>
<div class="t lg" style="left:249.60px;top:383.04px;font-size:7.4px;transform:scaleX(0.9)">Adult (&gt;17 years)</div>
<div class="t lh" style="left:344.80px;top:341.92px;">U1 snRNAs</div>
<div class="t lg" style="left:355.60px;top:353.44px;font-size:7.4px;">r.3A&gt;G</div>
<div class="t lg" style="left:355.60px;top:363.14px;font-size:7.4px;">r.3A&gt;G and r.4C&gt;G</div>
<div class="t lh" style="left:344.80px;top:372.87px;font-size:7.6px;">U11 snRNA</div>
<div class="t lg" style="left:355.60px;top:383.04px;font-size:7.4px;">r.5A&gt;G</div>
<div class="t lh" style="left:432.40px;top:341.92px;">Other genes</div>
<div class="t lg" style="left:443.20px;top:353.44px;font-size:7.4px;">Promoter mutation</div>
<div class="t lg" style="left:443.20px;top:363.14px;font-size:7.4px;">Missense mutation</div>
<div class="t lg" style="left:443.20px;top:373.04px;font-size:7.4px;">Nonsense mutation</div>
<div class="t lg" style="left:443.20px;top:383.04px;font-size:7.4px;">Splice-site variation</div>
<div class="t lg" style="left:443.20px;top:392.84px;font-size:7.4px;">Frameshift indel</div>
<div class="t lg" style="left:535.90px;top:353.44px;font-size:7.4px;">Non-frameshift indel</div>
<div class="t lg" style="left:535.90px;top:363.14px;font-size:7.4px;">Multi-nucleotide variant</div>
<div class="t lg" style="left:535.90px;top:373.04px;font-size:7.4px;">Multiple mutations</div>
<div class="t lg" style="left:535.90px;top:383.04px;font-size:7.4px;">Focal high-level amplification</div>
<div class="t lg" style="left:535.90px;top:392.84px;font-size:7.4px;">Focal homozygous deletion</div>
</div>
</body></html>
